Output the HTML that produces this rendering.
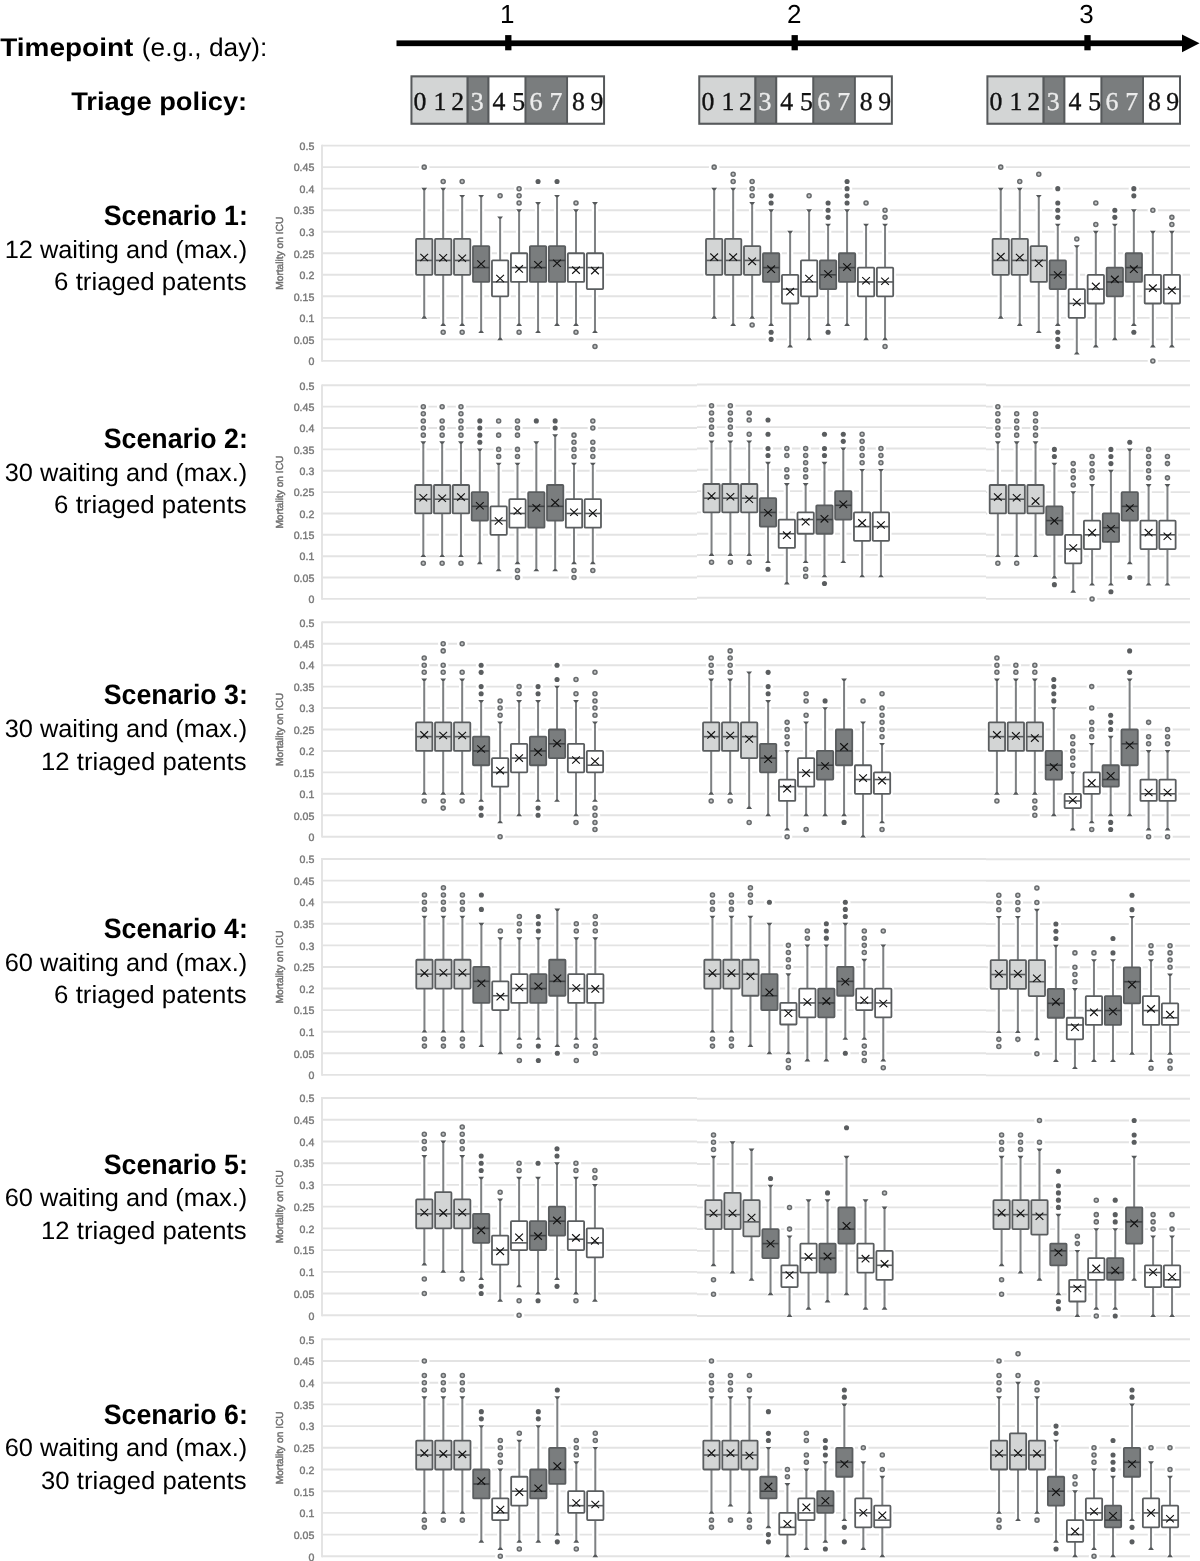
<!DOCTYPE html>
<html><head><meta charset="utf-8"><title>Triage policy scenarios</title>
<style>html,body{margin:0;padding:0;background:#fff;}body{width:1200px;height:1561px;overflow:hidden;}svg{display:block;will-change:transform;}text{text-rendering:geometricPrecision;}.sans{font-family:"Liberation Sans",sans-serif;}.serif{font-family:"Liberation Serif",serif;}</style></head><body>
<svg width="1200" height="1561" viewBox="0 0 1200 1561">
<rect width="1200" height="1561" fill="#fff"/>
<text class="sans" x="0.3" y="55.6" font-size="25.5" font-weight="bold" fill="#000" textLength="133" lengthAdjust="spacingAndGlyphs">Timepoint</text>
<text class="sans" x="141.8" y="55.6" font-size="25.5" fill="#000" textLength="125.5" lengthAdjust="spacingAndGlyphs">(e.g., day):</text>
<text class="sans" x="247.2" y="110" font-size="25.5" font-weight="bold" fill="#000" text-anchor="end" textLength="176" lengthAdjust="spacingAndGlyphs">Triage policy:</text>
<rect x="396.5" y="40.4" width="786" height="5.75" fill="#000"/>
<polygon points="1182,34.4 1199.5,43.3 1182,52.2" fill="#000"/>
<rect x="505.15" y="35.1" width="6.3" height="15.2" fill="#000"/>
<text class="sans" x="507.2" y="22.7" font-size="26" text-anchor="middle" fill="#000">1</text>
<rect x="791.55" y="35.1" width="6.3" height="15.2" fill="#000"/>
<text class="sans" x="794.2" y="22.7" font-size="26" text-anchor="middle" fill="#000">2</text>
<rect x="1084.35" y="35.1" width="6.3" height="15.2" fill="#000"/>
<text class="sans" x="1086.4" y="22.7" font-size="26" text-anchor="middle" fill="#000">3</text>
<rect x="410.45" y="75.3" width="194.6" height="49.5" fill="#56595b"/>
<rect x="412.45" y="77.4" width="54" height="45.3" fill="#d3d5d5"/>
<rect x="468.65" y="77.4" width="18.7" height="45.3" fill="#7a7d7e"/>
<rect x="489.45" y="77.4" width="35" height="45.3" fill="#fff"/>
<rect x="526.45" y="77.4" width="39.7" height="45.3" fill="#7a7d7e"/>
<rect x="568.05" y="77.4" width="35" height="45.3" fill="#fff"/>
<text class="serif" x="420.05" y="109.9" font-size="25.8" text-anchor="middle" fill="#111" stroke="#111" stroke-width="0.35">0</text>
<text class="serif" x="440.05" y="109.9" font-size="25.8" text-anchor="middle" fill="#111" stroke="#111" stroke-width="0.35">1</text>
<text class="serif" x="457.75" y="109.9" font-size="25.8" text-anchor="middle" fill="#111" stroke="#111" stroke-width="0.35">2</text>
<text class="serif" x="477.25" y="109.9" font-size="25.8" text-anchor="middle" fill="#ececec" stroke="#ececec" stroke-width="0.35">3</text>
<text class="serif" x="498.95" y="109.9" font-size="25.8" text-anchor="middle" fill="#111" stroke="#111" stroke-width="0.35">4</text>
<text class="serif" x="518.75" y="109.9" font-size="25.8" text-anchor="middle" fill="#111" stroke="#111" stroke-width="0.35">5</text>
<text class="serif" x="535.95" y="109.9" font-size="25.8" text-anchor="middle" fill="#ececec" stroke="#ececec" stroke-width="0.35">6</text>
<text class="serif" x="555.85" y="109.9" font-size="25.8" text-anchor="middle" fill="#ececec" stroke="#ececec" stroke-width="0.35">7</text>
<text class="serif" x="578.45" y="109.9" font-size="25.8" text-anchor="middle" fill="#111" stroke="#111" stroke-width="0.35">8</text>
<text class="serif" x="596.85" y="109.9" font-size="25.8" text-anchor="middle" fill="#111" stroke="#111" stroke-width="0.35">9</text>
<rect x="698.25" y="75.3" width="194.6" height="49.5" fill="#56595b"/>
<rect x="700.25" y="77.4" width="54" height="45.3" fill="#d3d5d5"/>
<rect x="756.45" y="77.4" width="18.7" height="45.3" fill="#7a7d7e"/>
<rect x="777.25" y="77.4" width="35" height="45.3" fill="#fff"/>
<rect x="814.25" y="77.4" width="39.7" height="45.3" fill="#7a7d7e"/>
<rect x="855.85" y="77.4" width="35" height="45.3" fill="#fff"/>
<text class="serif" x="707.85" y="109.9" font-size="25.8" text-anchor="middle" fill="#111" stroke="#111" stroke-width="0.35">0</text>
<text class="serif" x="727.85" y="109.9" font-size="25.8" text-anchor="middle" fill="#111" stroke="#111" stroke-width="0.35">1</text>
<text class="serif" x="745.55" y="109.9" font-size="25.8" text-anchor="middle" fill="#111" stroke="#111" stroke-width="0.35">2</text>
<text class="serif" x="765.05" y="109.9" font-size="25.8" text-anchor="middle" fill="#ececec" stroke="#ececec" stroke-width="0.35">3</text>
<text class="serif" x="786.75" y="109.9" font-size="25.8" text-anchor="middle" fill="#111" stroke="#111" stroke-width="0.35">4</text>
<text class="serif" x="806.55" y="109.9" font-size="25.8" text-anchor="middle" fill="#111" stroke="#111" stroke-width="0.35">5</text>
<text class="serif" x="823.75" y="109.9" font-size="25.8" text-anchor="middle" fill="#ececec" stroke="#ececec" stroke-width="0.35">6</text>
<text class="serif" x="843.65" y="109.9" font-size="25.8" text-anchor="middle" fill="#ececec" stroke="#ececec" stroke-width="0.35">7</text>
<text class="serif" x="866.25" y="109.9" font-size="25.8" text-anchor="middle" fill="#111" stroke="#111" stroke-width="0.35">8</text>
<text class="serif" x="884.65" y="109.9" font-size="25.8" text-anchor="middle" fill="#111" stroke="#111" stroke-width="0.35">9</text>
<rect x="986.4" y="75.3" width="194.6" height="49.5" fill="#56595b"/>
<rect x="988.4" y="77.4" width="54" height="45.3" fill="#d3d5d5"/>
<rect x="1044.6" y="77.4" width="18.7" height="45.3" fill="#7a7d7e"/>
<rect x="1065.4" y="77.4" width="35" height="45.3" fill="#fff"/>
<rect x="1102.4" y="77.4" width="39.7" height="45.3" fill="#7a7d7e"/>
<rect x="1144" y="77.4" width="35" height="45.3" fill="#fff"/>
<text class="serif" x="996" y="109.9" font-size="25.8" text-anchor="middle" fill="#111" stroke="#111" stroke-width="0.35">0</text>
<text class="serif" x="1016" y="109.9" font-size="25.8" text-anchor="middle" fill="#111" stroke="#111" stroke-width="0.35">1</text>
<text class="serif" x="1033.7" y="109.9" font-size="25.8" text-anchor="middle" fill="#111" stroke="#111" stroke-width="0.35">2</text>
<text class="serif" x="1053.2" y="109.9" font-size="25.8" text-anchor="middle" fill="#ececec" stroke="#ececec" stroke-width="0.35">3</text>
<text class="serif" x="1074.9" y="109.9" font-size="25.8" text-anchor="middle" fill="#111" stroke="#111" stroke-width="0.35">4</text>
<text class="serif" x="1094.7" y="109.9" font-size="25.8" text-anchor="middle" fill="#111" stroke="#111" stroke-width="0.35">5</text>
<text class="serif" x="1111.9" y="109.9" font-size="25.8" text-anchor="middle" fill="#ececec" stroke="#ececec" stroke-width="0.35">6</text>
<text class="serif" x="1131.8" y="109.9" font-size="25.8" text-anchor="middle" fill="#ececec" stroke="#ececec" stroke-width="0.35">7</text>
<text class="serif" x="1154.4" y="109.9" font-size="25.8" text-anchor="middle" fill="#111" stroke="#111" stroke-width="0.35">8</text>
<text class="serif" x="1172.8" y="109.9" font-size="25.8" text-anchor="middle" fill="#111" stroke="#111" stroke-width="0.35">9</text>
<text class="sans" x="247.8" y="225.3" font-size="28" font-weight="bold" text-anchor="end" fill="#000" textLength="144" lengthAdjust="spacingAndGlyphs">Scenario 1:</text>
<text class="sans" x="247.2" y="257.8" font-size="25" text-anchor="end" fill="#000" textLength="242.5" lengthAdjust="spacingAndGlyphs">12 waiting and (max.)</text>
<text class="sans" x="246.6" y="290.3" font-size="25" text-anchor="end" fill="#000" textLength="192.5" lengthAdjust="spacingAndGlyphs">6 triaged patents</text>
<text class="sans" x="247.8" y="448.2" font-size="28" font-weight="bold" text-anchor="end" fill="#000" textLength="144" lengthAdjust="spacingAndGlyphs">Scenario 2:</text>
<text class="sans" x="247.2" y="480.7" font-size="25" text-anchor="end" fill="#000" textLength="242.5" lengthAdjust="spacingAndGlyphs">30 waiting and (max.)</text>
<text class="sans" x="246.6" y="513.2" font-size="25" text-anchor="end" fill="#000" textLength="192.5" lengthAdjust="spacingAndGlyphs">6 triaged patents</text>
<text class="sans" x="247.8" y="703.8" font-size="28" font-weight="bold" text-anchor="end" fill="#000" textLength="144" lengthAdjust="spacingAndGlyphs">Scenario 3:</text>
<text class="sans" x="247.2" y="736.75" font-size="25" text-anchor="end" fill="#000" textLength="242.5" lengthAdjust="spacingAndGlyphs">30 waiting and (max.)</text>
<text class="sans" x="246.6" y="769.7" font-size="25" text-anchor="end" fill="#000" textLength="205.5" lengthAdjust="spacingAndGlyphs">12 triaged patents</text>
<text class="sans" x="247.8" y="938.15" font-size="28" font-weight="bold" text-anchor="end" fill="#000" textLength="144" lengthAdjust="spacingAndGlyphs">Scenario 4:</text>
<text class="sans" x="247.2" y="970.65" font-size="25" text-anchor="end" fill="#000" textLength="242.5" lengthAdjust="spacingAndGlyphs">60 waiting and (max.)</text>
<text class="sans" x="246.6" y="1002.5" font-size="25" text-anchor="end" fill="#000" textLength="192.5" lengthAdjust="spacingAndGlyphs">6 triaged patents</text>
<text class="sans" x="247.8" y="1173.6" font-size="28" font-weight="bold" text-anchor="end" fill="#000" textLength="144" lengthAdjust="spacingAndGlyphs">Scenario 5:</text>
<text class="sans" x="247.2" y="1206.1" font-size="25" text-anchor="end" fill="#000" textLength="242.5" lengthAdjust="spacingAndGlyphs">60 waiting and (max.)</text>
<text class="sans" x="246.6" y="1238.6" font-size="25" text-anchor="end" fill="#000" textLength="205.5" lengthAdjust="spacingAndGlyphs">12 triaged patents</text>
<text class="sans" x="247.8" y="1423.6" font-size="28" font-weight="bold" text-anchor="end" fill="#000" textLength="144" lengthAdjust="spacingAndGlyphs">Scenario 6:</text>
<text class="sans" x="247.2" y="1456.1" font-size="25" text-anchor="end" fill="#000" textLength="242.5" lengthAdjust="spacingAndGlyphs">60 waiting and (max.)</text>
<text class="sans" x="246.6" y="1488.6" font-size="25" text-anchor="end" fill="#000" textLength="205.5" lengthAdjust="spacingAndGlyphs">30 triaged patents</text>
<path d="M322 360.9H697M322 339.37H697M322 317.84H697M322 296.31H697M322 274.78H697M322 253.25H697M322 231.72H697M322 210.19H697M322 188.66H697M322 167.13H697M322 145.6H697M697 360.9H986M697 339.37H986M697 317.84H986M697 296.31H986M697 274.78H986M697 253.25H986M697 231.72H986M697 210.19H986M697 188.66H986M697 167.13H986M697 145.6H986M986 360.9H1190M986 339.37H1190M986 317.84H1190M986 296.31H1190M986 274.78H1190M986 253.25H1190M986 231.72H1190M986 210.19H1190M986 188.66H1190M986 167.13H1190M986 145.6H1190" stroke="#e3e3e3" stroke-width="1.9" fill="none"/>
<path d="M322 144.7V361.8" stroke="#e3e3e3" stroke-width="1.9" fill="none"/>
<text class="sans" x="314.3" y="365.2" font-size="10.6" text-anchor="end" fill="#777" stroke="#777" stroke-width="0.4">0</text>
<text class="sans" x="314.3" y="343.67" font-size="10.6" text-anchor="end" fill="#777" stroke="#777" stroke-width="0.4">0.05</text>
<text class="sans" x="314.3" y="322.14" font-size="10.6" text-anchor="end" fill="#777" stroke="#777" stroke-width="0.4">0.1</text>
<text class="sans" x="314.3" y="300.61" font-size="10.6" text-anchor="end" fill="#777" stroke="#777" stroke-width="0.4">0.15</text>
<text class="sans" x="314.3" y="279.08" font-size="10.6" text-anchor="end" fill="#777" stroke="#777" stroke-width="0.4">0.2</text>
<text class="sans" x="314.3" y="257.55" font-size="10.6" text-anchor="end" fill="#777" stroke="#777" stroke-width="0.4">0.25</text>
<text class="sans" x="314.3" y="236.02" font-size="10.6" text-anchor="end" fill="#777" stroke="#777" stroke-width="0.4">0.3</text>
<text class="sans" x="314.3" y="214.49" font-size="10.6" text-anchor="end" fill="#777" stroke="#777" stroke-width="0.4">0.35</text>
<text class="sans" x="314.3" y="192.96" font-size="10.6" text-anchor="end" fill="#777" stroke="#777" stroke-width="0.4">0.4</text>
<text class="sans" x="314.3" y="171.43" font-size="10.6" text-anchor="end" fill="#777" stroke="#777" stroke-width="0.4">0.45</text>
<text class="sans" x="314.3" y="149.9" font-size="10.6" text-anchor="end" fill="#777" stroke="#777" stroke-width="0.4">0.5</text>
<text class="sans" transform="translate(283.4 253.25) rotate(-90)" font-size="10.2" text-anchor="middle" fill="#707070" stroke="#707070" stroke-width="0.45">Mortality on ICU</text>
<g><path d="M424.22 188.16V318.34" stroke="#fff" stroke-width="6.4"/><rect x="413.57" y="237.2" width="21.3" height="39.28" fill="#fff"/><circle cx="424.22" cy="167.13" r="5.2" fill="#fff"/><path d="M443.19 188.16V325.52" stroke="#fff" stroke-width="6.4"/><rect x="432.54" y="237.2" width="21.3" height="39.28" fill="#fff"/><circle cx="443.19" cy="181.48" r="5.2" fill="#fff"/><circle cx="443.19" cy="332.19" r="5.2" fill="#fff"/><path d="M462.17 195.34V325.52" stroke="#fff" stroke-width="6.4"/><rect x="451.52" y="237.2" width="21.3" height="39.28" fill="#fff"/><circle cx="462.17" cy="181.48" r="5.2" fill="#fff"/><circle cx="462.17" cy="332.19" r="5.2" fill="#fff"/><path d="M481.14 195.34V332.69" stroke="#fff" stroke-width="6.4"/><rect x="470.49" y="244.37" width="21.3" height="39.28" fill="#fff"/><path d="M500.11 216.87V339.87" stroke="#fff" stroke-width="6.4"/><rect x="489.46" y="258.73" width="21.3" height="39.28" fill="#fff"/><circle cx="500.11" cy="195.84" r="5.2" fill="#fff"/><path d="M519.09 209.69V325.52" stroke="#fff" stroke-width="6.4"/><rect x="508.44" y="251.55" width="21.3" height="32.11" fill="#fff"/><circle cx="519.09" cy="188.66" r="5.2" fill="#fff"/><circle cx="519.09" cy="195.84" r="5.2" fill="#fff"/><circle cx="519.09" cy="203.01" r="5.2" fill="#fff"/><circle cx="519.09" cy="332.19" r="5.2" fill="#fff"/><path d="M538.06 202.51V332.69" stroke="#fff" stroke-width="6.4"/><rect x="527.41" y="244.37" width="21.3" height="39.28" fill="#fff"/><circle cx="538.06" cy="181.48" r="5.2" fill="#fff"/><path d="M557.03 195.34V325.52" stroke="#fff" stroke-width="6.4"/><rect x="546.38" y="244.37" width="21.3" height="39.28" fill="#fff"/><circle cx="557.03" cy="181.48" r="5.2" fill="#fff"/><path d="M576 209.69V325.52" stroke="#fff" stroke-width="6.4"/><rect x="565.35" y="251.55" width="21.3" height="32.11" fill="#fff"/><circle cx="576" cy="203.01" r="5.2" fill="#fff"/><circle cx="576" cy="332.19" r="5.2" fill="#fff"/><path d="M594.98 202.51V332.69" stroke="#fff" stroke-width="6.4"/><rect x="584.33" y="251.55" width="21.3" height="39.28" fill="#fff"/><circle cx="594.98" cy="346.55" r="5.2" fill="#fff"/></g>
<g><path d="M424.22 238.9V188.66M424.22 274.78V317.84" stroke="#7e8183" stroke-width="2"/><polygon points="421.32,187.76 427.12,187.76 425.22,190.16 423.22,190.16" fill="#55585a"/><polygon points="421.32,318.74 427.12,318.74 425.22,316.34 423.22,316.34" fill="#55585a"/><rect x="416.07" y="238.9" width="16.3" height="35.88" rx="0.8" fill="#d3d5d5" stroke="#5a5d5f" stroke-width="1.8"/><path d="M416.07 260.43H432.37" stroke="#585b5d" stroke-width="1.6"/><path d="M420.37 253.83L428.07 261.13M420.37 261.13L428.07 253.83" stroke="#111" stroke-width="1.12"/><circle cx="424.22" cy="167.13" r="2.0" fill="#bfc1c2" stroke="#686b6d" stroke-width="1.55"/><path d="M443.19 238.9V188.66M443.19 274.78V325.02" stroke="#7e8183" stroke-width="2"/><polygon points="440.29,187.76 446.09,187.76 444.19,190.16 442.19,190.16" fill="#55585a"/><polygon points="440.29,325.92 446.09,325.92 444.19,323.52 442.19,323.52" fill="#55585a"/><rect x="435.04" y="238.9" width="16.3" height="35.88" rx="0.8" fill="#d3d5d5" stroke="#5a5d5f" stroke-width="1.8"/><path d="M435.04 260.43H451.34" stroke="#585b5d" stroke-width="1.6"/><path d="M439.34 254.19L447.04 261.49M439.34 261.49L447.04 254.19" stroke="#111" stroke-width="1.12"/><circle cx="443.19" cy="181.48" r="2.0" fill="#bfc1c2" stroke="#686b6d" stroke-width="1.55"/><circle cx="443.19" cy="332.19" r="2.0" fill="#bfc1c2" stroke="#686b6d" stroke-width="1.55"/><path d="M462.17 238.9V195.84M462.17 274.78V325.02" stroke="#7e8183" stroke-width="2"/><polygon points="459.27,194.94 465.07,194.94 463.17,197.34 461.17,197.34" fill="#55585a"/><polygon points="459.27,325.92 465.07,325.92 463.17,323.52 461.17,323.52" fill="#55585a"/><rect x="454.02" y="238.9" width="16.3" height="35.88" rx="0.8" fill="#d3d5d5" stroke="#5a5d5f" stroke-width="1.8"/><path d="M454.02 260.43H470.32" stroke="#585b5d" stroke-width="1.6"/><path d="M458.32 254.62L466.02 261.92M458.32 261.92L466.02 254.62" stroke="#111" stroke-width="1.12"/><circle cx="462.17" cy="181.48" r="2.0" fill="#bfc1c2" stroke="#686b6d" stroke-width="1.55"/><circle cx="462.17" cy="332.19" r="2.0" fill="#bfc1c2" stroke="#686b6d" stroke-width="1.55"/><path d="M481.14 246.07V195.84M481.14 281.96V332.19" stroke="#7e8183" stroke-width="2"/><polygon points="478.24,194.94 484.04,194.94 482.14,197.34 480.14,197.34" fill="#55585a"/><polygon points="478.24,333.09 484.04,333.09 482.14,330.69 480.14,330.69" fill="#55585a"/><rect x="472.99" y="246.07" width="16.3" height="35.88" rx="0.8" fill="#7a7d7e" stroke="#5a5d5f" stroke-width="1.8"/><path d="M472.99 267.6H489.29" stroke="#3f4244" stroke-width="1.6"/><path d="M477.29 260.37L484.99 267.66M477.29 267.66L484.99 260.37" stroke="#111" stroke-width="1.12"/><path d="M500.11 260.43V217.37M500.11 296.31V339.37" stroke="#7e8183" stroke-width="2"/><polygon points="497.21,216.47 503.01,216.47 501.11,218.87 499.11,218.87" fill="#55585a"/><polygon points="497.21,340.27 503.01,340.27 501.11,337.87 499.11,337.87" fill="#55585a"/><rect x="491.96" y="260.43" width="16.3" height="35.88" rx="0.8" fill="#ffffff" stroke="#5a5d5f" stroke-width="1.8"/><path d="M491.96 281.96H508.26" stroke="#585b5d" stroke-width="1.6"/><path d="M496.26 274.86L503.96 282.16M496.26 282.16L503.96 274.86" stroke="#111" stroke-width="1.12"/><circle cx="500.11" cy="195.84" r="2.0" fill="#bfc1c2" stroke="#686b6d" stroke-width="1.55"/><path d="M519.09 253.25V210.19M519.09 281.96V325.02" stroke="#7e8183" stroke-width="2"/><polygon points="516.19,209.29 521.99,209.29 520.09,211.69 518.09,211.69" fill="#55585a"/><polygon points="516.19,325.92 521.99,325.92 520.09,323.52 518.09,323.52" fill="#55585a"/><rect x="510.94" y="253.25" width="16.3" height="28.71" rx="0.8" fill="#ffffff" stroke="#5a5d5f" stroke-width="1.8"/><path d="M510.94 267.6H527.24" stroke="#585b5d" stroke-width="1.6"/><path d="M515.24 265.25L522.94 272.55M515.24 272.55L522.94 265.25" stroke="#111" stroke-width="1.12"/><circle cx="519.09" cy="188.66" r="2.0" fill="#bfc1c2" stroke="#686b6d" stroke-width="1.55"/><circle cx="519.09" cy="195.84" r="2.0" fill="#bfc1c2" stroke="#686b6d" stroke-width="1.55"/><circle cx="519.09" cy="203.01" r="2.0" fill="#bfc1c2" stroke="#686b6d" stroke-width="1.55"/><circle cx="519.09" cy="332.19" r="2.0" fill="#bfc1c2" stroke="#686b6d" stroke-width="1.55"/><path d="M538.06 246.07V203.01M538.06 281.96V332.19" stroke="#7e8183" stroke-width="2"/><polygon points="535.16,202.11 540.96,202.11 539.06,204.51 537.06,204.51" fill="#55585a"/><polygon points="535.16,333.09 540.96,333.09 539.06,330.69 537.06,330.69" fill="#55585a"/><rect x="529.91" y="246.07" width="16.3" height="35.88" rx="0.8" fill="#7a7d7e" stroke="#5a5d5f" stroke-width="1.8"/><path d="M529.91 267.6H546.21" stroke="#3f4244" stroke-width="1.6"/><path d="M534.21 261.08L541.91 268.38M534.21 268.38L541.91 261.08" stroke="#111" stroke-width="1.12"/><circle cx="538.06" cy="181.48" r="2.55" fill="#5a5d5f"/><path d="M557.03 246.07V195.84M557.03 281.96V325.02" stroke="#7e8183" stroke-width="2"/><polygon points="554.13,194.94 559.93,194.94 558.03,197.34 556.03,197.34" fill="#55585a"/><polygon points="554.13,325.92 559.93,325.92 558.03,323.52 556.03,323.52" fill="#55585a"/><rect x="548.88" y="246.07" width="16.3" height="35.88" rx="0.8" fill="#7a7d7e" stroke="#5a5d5f" stroke-width="1.8"/><path d="M548.88 260.43H565.18" stroke="#3f4244" stroke-width="1.6"/><path d="M553.18 259.65L560.88 266.95M553.18 266.95L560.88 259.65" stroke="#111" stroke-width="1.12"/><circle cx="557.03" cy="181.48" r="2.55" fill="#5a5d5f"/><path d="M576 253.25V210.19M576 281.96V325.02" stroke="#7e8183" stroke-width="2"/><polygon points="573.1,209.29 578.9,209.29 577,211.69 575,211.69" fill="#55585a"/><polygon points="573.1,325.92 578.9,325.92 577,323.52 575,323.52" fill="#55585a"/><rect x="567.85" y="253.25" width="16.3" height="28.71" rx="0.8" fill="#ffffff" stroke="#5a5d5f" stroke-width="1.8"/><path d="M567.85 267.6H584.15" stroke="#585b5d" stroke-width="1.6"/><path d="M572.15 266.47L579.85 273.77M572.15 273.77L579.85 266.47" stroke="#111" stroke-width="1.12"/><circle cx="576" cy="203.01" r="2.0" fill="#bfc1c2" stroke="#686b6d" stroke-width="1.55"/><circle cx="576" cy="332.19" r="2.0" fill="#bfc1c2" stroke="#686b6d" stroke-width="1.55"/><path d="M594.98 253.25V203.01M594.98 289.13V332.19" stroke="#7e8183" stroke-width="2"/><polygon points="592.08,202.11 597.88,202.11 595.98,204.51 593.98,204.51" fill="#55585a"/><polygon points="592.08,333.09 597.88,333.09 595.98,330.69 593.98,330.69" fill="#55585a"/><rect x="586.83" y="253.25" width="16.3" height="35.88" rx="0.8" fill="#ffffff" stroke="#5a5d5f" stroke-width="1.8"/><path d="M586.83 267.6H603.13" stroke="#585b5d" stroke-width="1.6"/><path d="M591.13 266.97L598.83 274.27M591.13 274.27L598.83 266.97" stroke="#111" stroke-width="1.12"/><circle cx="594.98" cy="346.55" r="2.0" fill="#bfc1c2" stroke="#686b6d" stroke-width="1.55"/></g>
<g><path d="M714.17 188.16V318.34" stroke="#fff" stroke-width="6.4"/><rect x="703.52" y="237.2" width="21.3" height="39.28" fill="#fff"/><circle cx="714.17" cy="167.13" r="5.2" fill="#fff"/><path d="M733.16 188.16V325.52" stroke="#fff" stroke-width="6.4"/><rect x="722.51" y="237.2" width="21.3" height="39.28" fill="#fff"/><circle cx="733.16" cy="174.31" r="5.2" fill="#fff"/><circle cx="733.16" cy="181.48" r="5.2" fill="#fff"/><path d="M752.14 202.51V318.34" stroke="#fff" stroke-width="6.4"/><rect x="741.49" y="244.37" width="21.3" height="32.11" fill="#fff"/><circle cx="752.14" cy="181.48" r="5.2" fill="#fff"/><circle cx="752.14" cy="188.66" r="5.2" fill="#fff"/><circle cx="752.14" cy="195.84" r="5.2" fill="#fff"/><circle cx="752.14" cy="325.02" r="5.2" fill="#fff"/><path d="M771.13 209.69V325.52" stroke="#fff" stroke-width="6.4"/><rect x="760.48" y="251.55" width="21.3" height="32.11" fill="#fff"/><circle cx="771.13" cy="195.84" r="5.2" fill="#fff"/><circle cx="771.13" cy="203.01" r="5.2" fill="#fff"/><circle cx="771.13" cy="332.19" r="5.2" fill="#fff"/><circle cx="771.13" cy="339.37" r="5.2" fill="#fff"/><path d="M790.11 231.22V347.05" stroke="#fff" stroke-width="6.4"/><rect x="779.46" y="273.08" width="21.3" height="32.11" fill="#fff"/><path d="M809.1 209.69V339.87" stroke="#fff" stroke-width="6.4"/><rect x="798.45" y="258.73" width="21.3" height="39.28" fill="#fff"/><circle cx="809.1" cy="195.84" r="5.2" fill="#fff"/><path d="M828.09 224.04V325.52" stroke="#fff" stroke-width="6.4"/><rect x="817.44" y="258.73" width="21.3" height="32.11" fill="#fff"/><circle cx="828.09" cy="203.01" r="5.2" fill="#fff"/><circle cx="828.09" cy="210.19" r="5.2" fill="#fff"/><circle cx="828.09" cy="217.37" r="5.2" fill="#fff"/><circle cx="828.09" cy="332.19" r="5.2" fill="#fff"/><path d="M847.07 209.69V325.52" stroke="#fff" stroke-width="6.4"/><rect x="836.42" y="251.55" width="21.3" height="32.11" fill="#fff"/><circle cx="847.07" cy="181.48" r="5.2" fill="#fff"/><circle cx="847.07" cy="188.66" r="5.2" fill="#fff"/><circle cx="847.07" cy="195.84" r="5.2" fill="#fff"/><circle cx="847.07" cy="203.01" r="5.2" fill="#fff"/><path d="M866.06 224.04V339.87" stroke="#fff" stroke-width="6.4"/><rect x="855.41" y="265.9" width="21.3" height="32.11" fill="#fff"/><circle cx="866.06" cy="203.01" r="5.2" fill="#fff"/><path d="M885.04 224.04V339.87" stroke="#fff" stroke-width="6.4"/><rect x="874.39" y="265.9" width="21.3" height="32.11" fill="#fff"/><circle cx="885.04" cy="210.19" r="5.2" fill="#fff"/><circle cx="885.04" cy="217.37" r="5.2" fill="#fff"/><circle cx="885.04" cy="346.55" r="5.2" fill="#fff"/></g>
<g><path d="M714.17 238.9V188.66M714.17 274.78V317.84" stroke="#7e8183" stroke-width="2"/><polygon points="711.27,187.76 717.07,187.76 715.17,190.16 713.17,190.16" fill="#55585a"/><polygon points="711.27,318.74 717.07,318.74 715.17,316.34 713.17,316.34" fill="#55585a"/><rect x="706.02" y="238.9" width="16.3" height="35.88" rx="0.8" fill="#d3d5d5" stroke="#5a5d5f" stroke-width="1.8"/><path d="M706.02 260.43H722.32" stroke="#585b5d" stroke-width="1.6"/><path d="M710.32 253.48L718.02 260.78M710.32 260.78L718.02 253.48" stroke="#111" stroke-width="1.12"/><circle cx="714.17" cy="167.13" r="2.0" fill="#bfc1c2" stroke="#686b6d" stroke-width="1.55"/><path d="M733.16 238.9V188.66M733.16 274.78V325.02" stroke="#7e8183" stroke-width="2"/><polygon points="730.26,187.76 736.06,187.76 734.16,190.16 732.16,190.16" fill="#55585a"/><polygon points="730.26,325.92 736.06,325.92 734.16,323.52 732.16,323.52" fill="#55585a"/><rect x="725.01" y="238.9" width="16.3" height="35.88" rx="0.8" fill="#d3d5d5" stroke="#5a5d5f" stroke-width="1.8"/><path d="M725.01 260.43H741.31" stroke="#585b5d" stroke-width="1.6"/><path d="M729.31 253.48L737.01 260.78M729.31 260.78L737.01 253.48" stroke="#111" stroke-width="1.12"/><circle cx="733.16" cy="174.31" r="2.0" fill="#bfc1c2" stroke="#686b6d" stroke-width="1.55"/><circle cx="733.16" cy="181.48" r="2.0" fill="#bfc1c2" stroke="#686b6d" stroke-width="1.55"/><path d="M752.14 246.07V203.01M752.14 274.78V317.84" stroke="#7e8183" stroke-width="2"/><polygon points="749.24,202.11 755.04,202.11 753.14,204.51 751.14,204.51" fill="#55585a"/><polygon points="749.24,318.74 755.04,318.74 753.14,316.34 751.14,316.34" fill="#55585a"/><rect x="743.99" y="246.07" width="16.3" height="28.71" rx="0.8" fill="#d3d5d5" stroke="#5a5d5f" stroke-width="1.8"/><path d="M743.99 260.43H760.29" stroke="#585b5d" stroke-width="1.6"/><path d="M748.29 257.71L755.99 265.01M748.29 265.01L755.99 257.71" stroke="#111" stroke-width="1.12"/><circle cx="752.14" cy="181.48" r="2.0" fill="#bfc1c2" stroke="#686b6d" stroke-width="1.55"/><circle cx="752.14" cy="188.66" r="2.0" fill="#bfc1c2" stroke="#686b6d" stroke-width="1.55"/><circle cx="752.14" cy="195.84" r="2.0" fill="#bfc1c2" stroke="#686b6d" stroke-width="1.55"/><circle cx="752.14" cy="325.02" r="2.0" fill="#bfc1c2" stroke="#686b6d" stroke-width="1.55"/><path d="M771.13 253.25V210.19M771.13 281.96V325.02" stroke="#7e8183" stroke-width="2"/><polygon points="768.23,209.29 774.03,209.29 772.13,211.69 770.13,211.69" fill="#55585a"/><polygon points="768.23,325.92 774.03,325.92 772.13,323.52 770.13,323.52" fill="#55585a"/><rect x="762.98" y="253.25" width="16.3" height="28.71" rx="0.8" fill="#7a7d7e" stroke="#5a5d5f" stroke-width="1.8"/><path d="M762.98 267.6H779.28" stroke="#3f4244" stroke-width="1.6"/><path d="M767.28 265.53L774.98 272.83M767.28 272.83L774.98 265.53" stroke="#111" stroke-width="1.12"/><circle cx="771.13" cy="195.84" r="2.55" fill="#5a5d5f"/><circle cx="771.13" cy="203.01" r="2.55" fill="#5a5d5f"/><circle cx="771.13" cy="332.19" r="2.55" fill="#5a5d5f"/><circle cx="771.13" cy="339.37" r="2.55" fill="#5a5d5f"/><path d="M790.11 274.78V231.72M790.11 303.49V346.55" stroke="#7e8183" stroke-width="2"/><polygon points="787.21,230.82 793.01,230.82 791.11,233.22 789.11,233.22" fill="#55585a"/><polygon points="787.21,347.45 793.01,347.45 791.11,345.05 789.11,345.05" fill="#55585a"/><rect x="781.96" y="274.78" width="16.3" height="28.71" rx="0.8" fill="#ffffff" stroke="#5a5d5f" stroke-width="1.8"/><path d="M781.96 289.13H798.26" stroke="#585b5d" stroke-width="1.6"/><path d="M786.26 288L793.96 295.3M786.26 295.3L793.96 288" stroke="#111" stroke-width="1.12"/><path d="M809.1 260.43V210.19M809.1 296.31V339.37" stroke="#7e8183" stroke-width="2"/><polygon points="806.2,209.29 812,209.29 810.1,211.69 808.1,211.69" fill="#55585a"/><polygon points="806.2,340.27 812,340.27 810.1,337.87 808.1,337.87" fill="#55585a"/><rect x="800.95" y="260.43" width="16.3" height="35.88" rx="0.8" fill="#ffffff" stroke="#5a5d5f" stroke-width="1.8"/><path d="M800.95 281.96H817.25" stroke="#585b5d" stroke-width="1.6"/><path d="M805.25 274.86L812.95 282.16M805.25 282.16L812.95 274.86" stroke="#111" stroke-width="1.12"/><circle cx="809.1" cy="195.84" r="2.0" fill="#bfc1c2" stroke="#686b6d" stroke-width="1.55"/><path d="M828.09 260.43V224.54M828.09 289.13V325.02" stroke="#7e8183" stroke-width="2"/><polygon points="825.19,223.64 830.99,223.64 829.09,226.04 827.09,226.04" fill="#55585a"/><polygon points="825.19,325.92 830.99,325.92 829.09,323.52 827.09,323.52" fill="#55585a"/><rect x="819.94" y="260.43" width="16.3" height="28.71" rx="0.8" fill="#7a7d7e" stroke="#5a5d5f" stroke-width="1.8"/><path d="M819.94 274.78H836.24" stroke="#3f4244" stroke-width="1.6"/><path d="M824.24 270.41L831.94 277.71M824.24 277.71L831.94 270.41" stroke="#111" stroke-width="1.12"/><circle cx="828.09" cy="203.01" r="2.55" fill="#5a5d5f"/><circle cx="828.09" cy="210.19" r="2.55" fill="#5a5d5f"/><circle cx="828.09" cy="217.37" r="2.55" fill="#5a5d5f"/><circle cx="828.09" cy="332.19" r="2.55" fill="#5a5d5f"/><path d="M847.07 253.25V210.19M847.07 281.96V325.02" stroke="#7e8183" stroke-width="2"/><polygon points="844.17,209.29 849.97,209.29 848.07,211.69 846.07,211.69" fill="#55585a"/><polygon points="844.17,325.92 849.97,325.92 848.07,323.52 846.07,323.52" fill="#55585a"/><rect x="838.92" y="253.25" width="16.3" height="28.71" rx="0.8" fill="#7a7d7e" stroke="#5a5d5f" stroke-width="1.8"/><path d="M838.92 267.6H855.22" stroke="#3f4244" stroke-width="1.6"/><path d="M843.22 263.45L850.92 270.75M843.22 270.75L850.92 263.45" stroke="#111" stroke-width="1.12"/><circle cx="847.07" cy="181.48" r="2.55" fill="#5a5d5f"/><circle cx="847.07" cy="188.66" r="2.55" fill="#5a5d5f"/><circle cx="847.07" cy="195.84" r="2.55" fill="#5a5d5f"/><circle cx="847.07" cy="203.01" r="2.55" fill="#5a5d5f"/><path d="M866.06 267.6V224.54M866.06 296.31V339.37" stroke="#7e8183" stroke-width="2"/><polygon points="863.16,223.64 868.96,223.64 867.06,226.04 865.06,226.04" fill="#55585a"/><polygon points="863.16,340.27 868.96,340.27 867.06,337.87 865.06,337.87" fill="#55585a"/><rect x="857.91" y="267.6" width="16.3" height="28.71" rx="0.8" fill="#ffffff" stroke="#5a5d5f" stroke-width="1.8"/><path d="M857.91 281.96H874.21" stroke="#585b5d" stroke-width="1.6"/><path d="M862.21 277.16L869.91 284.46M862.21 284.46L869.91 277.16" stroke="#111" stroke-width="1.12"/><circle cx="866.06" cy="203.01" r="2.0" fill="#bfc1c2" stroke="#686b6d" stroke-width="1.55"/><path d="M885.04 267.6V224.54M885.04 296.31V339.37" stroke="#7e8183" stroke-width="2"/><polygon points="882.14,223.64 887.94,223.64 886.04,226.04 884.04,226.04" fill="#55585a"/><polygon points="882.14,340.27 887.94,340.27 886.04,337.87 884.04,337.87" fill="#55585a"/><rect x="876.89" y="267.6" width="16.3" height="28.71" rx="0.8" fill="#ffffff" stroke="#5a5d5f" stroke-width="1.8"/><path d="M876.89 281.96H893.19" stroke="#585b5d" stroke-width="1.6"/><path d="M881.19 277.59L888.89 284.89M881.19 284.89L888.89 277.59" stroke="#111" stroke-width="1.12"/><circle cx="885.04" cy="210.19" r="2.0" fill="#bfc1c2" stroke="#686b6d" stroke-width="1.55"/><circle cx="885.04" cy="217.37" r="2.0" fill="#bfc1c2" stroke="#686b6d" stroke-width="1.55"/><circle cx="885.04" cy="346.55" r="2.0" fill="#bfc1c2" stroke="#686b6d" stroke-width="1.55"/></g>
<g><path d="M1000.75 188.16V318.34" stroke="#fff" stroke-width="6.4"/><rect x="990.1" y="237.2" width="21.3" height="39.28" fill="#fff"/><circle cx="1000.75" cy="167.13" r="5.2" fill="#fff"/><path d="M1019.76 188.16V325.52" stroke="#fff" stroke-width="6.4"/><rect x="1009.11" y="237.2" width="21.3" height="39.28" fill="#fff"/><circle cx="1019.76" cy="181.48" r="5.2" fill="#fff"/><path d="M1038.78 195.34V332.69" stroke="#fff" stroke-width="6.4"/><rect x="1028.13" y="244.37" width="21.3" height="39.28" fill="#fff"/><circle cx="1038.78" cy="174.31" r="5.2" fill="#fff"/><path d="M1057.79 224.04V325.52" stroke="#fff" stroke-width="6.4"/><rect x="1047.14" y="258.73" width="21.3" height="32.11" fill="#fff"/><circle cx="1057.79" cy="188.66" r="5.2" fill="#fff"/><circle cx="1057.79" cy="203.01" r="5.2" fill="#fff"/><circle cx="1057.79" cy="210.19" r="5.2" fill="#fff"/><circle cx="1057.79" cy="217.37" r="5.2" fill="#fff"/><circle cx="1057.79" cy="332.19" r="5.2" fill="#fff"/><circle cx="1057.79" cy="339.37" r="5.2" fill="#fff"/><circle cx="1057.79" cy="346.55" r="5.2" fill="#fff"/><path d="M1076.8 245.57V354.22" stroke="#fff" stroke-width="6.4"/><rect x="1066.15" y="287.43" width="21.3" height="32.11" fill="#fff"/><circle cx="1076.8" cy="238.9" r="5.2" fill="#fff"/><path d="M1095.82 231.22V347.05" stroke="#fff" stroke-width="6.4"/><rect x="1085.16" y="273.08" width="21.3" height="32.11" fill="#fff"/><circle cx="1095.82" cy="203.01" r="5.2" fill="#fff"/><circle cx="1095.82" cy="224.54" r="5.2" fill="#fff"/><path d="M1114.83 224.04V339.87" stroke="#fff" stroke-width="6.4"/><rect x="1104.18" y="265.9" width="21.3" height="32.11" fill="#fff"/><circle cx="1114.83" cy="210.19" r="5.2" fill="#fff"/><circle cx="1114.83" cy="217.37" r="5.2" fill="#fff"/><path d="M1133.84 209.69V325.52" stroke="#fff" stroke-width="6.4"/><rect x="1123.19" y="251.55" width="21.3" height="32.11" fill="#fff"/><circle cx="1133.84" cy="188.66" r="5.2" fill="#fff"/><circle cx="1133.84" cy="195.84" r="5.2" fill="#fff"/><circle cx="1133.84" cy="332.19" r="5.2" fill="#fff"/><path d="M1152.85 231.22V347.05" stroke="#fff" stroke-width="6.4"/><rect x="1142.2" y="273.08" width="21.3" height="32.11" fill="#fff"/><circle cx="1152.85" cy="210.19" r="5.2" fill="#fff"/><circle cx="1152.85" cy="360.9" r="5.2" fill="#fff"/><path d="M1171.87 231.22V347.05" stroke="#fff" stroke-width="6.4"/><rect x="1161.22" y="273.08" width="21.3" height="32.11" fill="#fff"/><circle cx="1171.87" cy="217.37" r="5.2" fill="#fff"/><circle cx="1171.87" cy="224.54" r="5.2" fill="#fff"/></g>
<g><path d="M1000.75 238.9V188.66M1000.75 274.78V317.84" stroke="#7e8183" stroke-width="2"/><polygon points="997.85,187.76 1003.65,187.76 1001.75,190.16 999.75,190.16" fill="#55585a"/><polygon points="997.85,318.74 1003.65,318.74 1001.75,316.34 999.75,316.34" fill="#55585a"/><rect x="992.6" y="238.9" width="16.3" height="35.88" rx="0.8" fill="#d3d5d5" stroke="#5a5d5f" stroke-width="1.8"/><path d="M992.6 260.43H1008.9" stroke="#585b5d" stroke-width="1.6"/><path d="M996.9 252.97L1004.6 260.27M996.9 260.27L1004.6 252.97" stroke="#111" stroke-width="1.12"/><circle cx="1000.75" cy="167.13" r="2.0" fill="#bfc1c2" stroke="#686b6d" stroke-width="1.55"/><path d="M1019.76 238.9V188.66M1019.76 274.78V325.02" stroke="#7e8183" stroke-width="2"/><polygon points="1016.86,187.76 1022.66,187.76 1020.76,190.16 1018.76,190.16" fill="#55585a"/><polygon points="1016.86,325.92 1022.66,325.92 1020.76,323.52 1018.76,323.52" fill="#55585a"/><rect x="1011.61" y="238.9" width="16.3" height="35.88" rx="0.8" fill="#d3d5d5" stroke="#5a5d5f" stroke-width="1.8"/><path d="M1011.61 260.43H1027.91" stroke="#585b5d" stroke-width="1.6"/><path d="M1015.91 253.83L1023.61 261.13M1015.91 261.13L1023.61 253.83" stroke="#111" stroke-width="1.12"/><circle cx="1019.76" cy="181.48" r="2.0" fill="#bfc1c2" stroke="#686b6d" stroke-width="1.55"/><path d="M1038.78 246.07V195.84M1038.78 281.96V332.19" stroke="#7e8183" stroke-width="2"/><polygon points="1035.88,194.94 1041.68,194.94 1039.78,197.34 1037.78,197.34" fill="#55585a"/><polygon points="1035.88,333.09 1041.68,333.09 1039.78,330.69 1037.78,330.69" fill="#55585a"/><rect x="1030.63" y="246.07" width="16.3" height="35.88" rx="0.8" fill="#d3d5d5" stroke="#5a5d5f" stroke-width="1.8"/><path d="M1030.63 260.43H1046.93" stroke="#585b5d" stroke-width="1.6"/><path d="M1034.93 259.65L1042.63 266.95M1034.93 266.95L1042.63 259.65" stroke="#111" stroke-width="1.12"/><circle cx="1038.78" cy="174.31" r="2.0" fill="#bfc1c2" stroke="#686b6d" stroke-width="1.55"/><path d="M1057.79 260.43V224.54M1057.79 289.13V325.02" stroke="#7e8183" stroke-width="2"/><polygon points="1054.89,223.64 1060.69,223.64 1058.79,226.04 1056.79,226.04" fill="#55585a"/><polygon points="1054.89,325.92 1060.69,325.92 1058.79,323.52 1056.79,323.52" fill="#55585a"/><rect x="1049.64" y="260.43" width="16.3" height="28.71" rx="0.8" fill="#7a7d7e" stroke="#5a5d5f" stroke-width="1.8"/><path d="M1049.64 274.78H1065.94" stroke="#3f4244" stroke-width="1.6"/><path d="M1053.94 271.35L1061.64 278.65M1053.94 278.65L1061.64 271.35" stroke="#111" stroke-width="1.12"/><circle cx="1057.79" cy="188.66" r="2.55" fill="#5a5d5f"/><circle cx="1057.79" cy="203.01" r="2.55" fill="#5a5d5f"/><circle cx="1057.79" cy="210.19" r="2.55" fill="#5a5d5f"/><circle cx="1057.79" cy="217.37" r="2.55" fill="#5a5d5f"/><circle cx="1057.79" cy="332.19" r="2.55" fill="#5a5d5f"/><circle cx="1057.79" cy="339.37" r="2.55" fill="#5a5d5f"/><circle cx="1057.79" cy="346.55" r="2.55" fill="#5a5d5f"/><path d="M1076.8 289.13V246.07M1076.8 317.84V353.72" stroke="#7e8183" stroke-width="2"/><polygon points="1073.9,245.17 1079.7,245.17 1077.8,247.57 1075.8,247.57" fill="#55585a"/><polygon points="1073.9,354.62 1079.7,354.62 1077.8,352.22 1075.8,352.22" fill="#55585a"/><rect x="1068.65" y="289.13" width="16.3" height="28.71" rx="0.8" fill="#ffffff" stroke="#5a5d5f" stroke-width="1.8"/><path d="M1068.65 303.49H1084.95" stroke="#585b5d" stroke-width="1.6"/><path d="M1072.95 298.54L1080.65 305.84M1072.95 305.84L1080.65 298.54" stroke="#111" stroke-width="1.12"/><circle cx="1076.8" cy="238.9" r="2.0" fill="#bfc1c2" stroke="#686b6d" stroke-width="1.55"/><path d="M1095.82 274.78V231.72M1095.82 303.49V346.55" stroke="#7e8183" stroke-width="2"/><polygon points="1092.91,230.82 1098.72,230.82 1096.82,233.22 1094.82,233.22" fill="#55585a"/><polygon points="1092.91,347.45 1098.72,347.45 1096.82,345.05 1094.82,345.05" fill="#55585a"/><rect x="1087.66" y="274.78" width="16.3" height="28.71" rx="0.8" fill="#ffffff" stroke="#5a5d5f" stroke-width="1.8"/><path d="M1087.66 289.13H1103.97" stroke="#585b5d" stroke-width="1.6"/><path d="M1091.97 282.76L1099.66 290.06M1091.97 290.06L1099.66 282.76" stroke="#111" stroke-width="1.12"/><circle cx="1095.82" cy="203.01" r="2.0" fill="#bfc1c2" stroke="#686b6d" stroke-width="1.55"/><circle cx="1095.82" cy="224.54" r="2.0" fill="#bfc1c2" stroke="#686b6d" stroke-width="1.55"/><path d="M1114.83 267.6V224.54M1114.83 296.31V339.37" stroke="#7e8183" stroke-width="2"/><polygon points="1111.93,223.64 1117.73,223.64 1115.83,226.04 1113.83,226.04" fill="#55585a"/><polygon points="1111.93,340.27 1117.73,340.27 1115.83,337.87 1113.83,337.87" fill="#55585a"/><rect x="1106.68" y="267.6" width="16.3" height="28.71" rx="0.8" fill="#7a7d7e" stroke="#5a5d5f" stroke-width="1.8"/><path d="M1106.68 281.96H1122.98" stroke="#3f4244" stroke-width="1.6"/><path d="M1110.98 275.72L1118.68 283.02M1110.98 283.02L1118.68 275.72" stroke="#111" stroke-width="1.12"/><circle cx="1114.83" cy="210.19" r="2.55" fill="#5a5d5f"/><circle cx="1114.83" cy="217.37" r="2.55" fill="#5a5d5f"/><path d="M1133.84 253.25V210.19M1133.84 281.96V325.02" stroke="#7e8183" stroke-width="2"/><polygon points="1130.94,209.29 1136.74,209.29 1134.84,211.69 1132.84,211.69" fill="#55585a"/><polygon points="1130.94,325.92 1136.74,325.92 1134.84,323.52 1132.84,323.52" fill="#55585a"/><rect x="1125.69" y="253.25" width="16.3" height="28.71" rx="0.8" fill="#7a7d7e" stroke="#5a5d5f" stroke-width="1.8"/><path d="M1125.69 267.6H1141.99" stroke="#3f4244" stroke-width="1.6"/><path d="M1129.99 265.53L1137.69 272.83M1129.99 272.83L1137.69 265.53" stroke="#111" stroke-width="1.12"/><circle cx="1133.84" cy="188.66" r="2.55" fill="#5a5d5f"/><circle cx="1133.84" cy="195.84" r="2.55" fill="#5a5d5f"/><circle cx="1133.84" cy="332.19" r="2.55" fill="#5a5d5f"/><path d="M1152.85 274.78V231.72M1152.85 303.49V346.55" stroke="#7e8183" stroke-width="2"/><polygon points="1149.95,230.82 1155.75,230.82 1153.85,233.22 1151.85,233.22" fill="#55585a"/><polygon points="1149.95,347.45 1155.75,347.45 1153.85,345.05 1151.85,345.05" fill="#55585a"/><rect x="1144.7" y="274.78" width="16.3" height="28.71" rx="0.8" fill="#ffffff" stroke="#5a5d5f" stroke-width="1.8"/><path d="M1144.7 289.13H1161" stroke="#585b5d" stroke-width="1.6"/><path d="M1149 284.48L1156.7 291.78M1149 291.78L1156.7 284.48" stroke="#111" stroke-width="1.12"/><circle cx="1152.85" cy="210.19" r="2.0" fill="#bfc1c2" stroke="#686b6d" stroke-width="1.55"/><circle cx="1152.85" cy="360.9" r="2.0" fill="#bfc1c2" stroke="#686b6d" stroke-width="1.55"/><path d="M1171.87 274.78V231.72M1171.87 303.49V346.55" stroke="#7e8183" stroke-width="2"/><polygon points="1168.97,230.82 1174.77,230.82 1172.87,233.22 1170.87,233.22" fill="#55585a"/><polygon points="1168.97,347.45 1174.77,347.45 1172.87,345.05 1170.87,345.05" fill="#55585a"/><rect x="1163.72" y="274.78" width="16.3" height="28.71" rx="0.8" fill="#ffffff" stroke="#5a5d5f" stroke-width="1.8"/><path d="M1163.72 289.13H1180.02" stroke="#585b5d" stroke-width="1.6"/><path d="M1168.02 286.78L1175.72 294.08M1168.02 294.08L1175.72 286.78" stroke="#111" stroke-width="1.12"/><circle cx="1171.87" cy="217.37" r="2.0" fill="#bfc1c2" stroke="#686b6d" stroke-width="1.55"/><circle cx="1171.87" cy="224.54" r="2.0" fill="#bfc1c2" stroke="#686b6d" stroke-width="1.55"/></g>
<path d="M322 598.9H697M322 577.54H697M322 556.18H697M322 534.82H697M322 513.46H697M322 492.1H697M322 470.74H697M322 449.38H697M322 428.02H697M322 406.66H697M322 385.3H697M697 597.7H986M697 576.38H986M697 555.06H986M697 533.74H986M697 512.42H986M697 491.1H986M697 469.78H986M697 448.46H986M697 427.14H986M697 405.82H986M697 384.5H986M986 598.9H1190M986 577.54H1190M986 556.18H1190M986 534.82H1190M986 513.46H1190M986 492.1H1190M986 470.74H1190M986 449.38H1190M986 428.02H1190M986 406.66H1190M986 385.3H1190" stroke="#e3e3e3" stroke-width="1.9" fill="none"/>
<path d="M322 384.4V599.8" stroke="#e3e3e3" stroke-width="1.9" fill="none"/>
<text class="sans" x="314.3" y="603.2" font-size="10.6" text-anchor="end" fill="#777" stroke="#777" stroke-width="0.4">0</text>
<text class="sans" x="314.3" y="581.84" font-size="10.6" text-anchor="end" fill="#777" stroke="#777" stroke-width="0.4">0.05</text>
<text class="sans" x="314.3" y="560.48" font-size="10.6" text-anchor="end" fill="#777" stroke="#777" stroke-width="0.4">0.1</text>
<text class="sans" x="314.3" y="539.12" font-size="10.6" text-anchor="end" fill="#777" stroke="#777" stroke-width="0.4">0.15</text>
<text class="sans" x="314.3" y="517.76" font-size="10.6" text-anchor="end" fill="#777" stroke="#777" stroke-width="0.4">0.2</text>
<text class="sans" x="314.3" y="496.4" font-size="10.6" text-anchor="end" fill="#777" stroke="#777" stroke-width="0.4">0.25</text>
<text class="sans" x="314.3" y="475.04" font-size="10.6" text-anchor="end" fill="#777" stroke="#777" stroke-width="0.4">0.3</text>
<text class="sans" x="314.3" y="453.68" font-size="10.6" text-anchor="end" fill="#777" stroke="#777" stroke-width="0.4">0.35</text>
<text class="sans" x="314.3" y="432.32" font-size="10.6" text-anchor="end" fill="#777" stroke="#777" stroke-width="0.4">0.4</text>
<text class="sans" x="314.3" y="410.96" font-size="10.6" text-anchor="end" fill="#777" stroke="#777" stroke-width="0.4">0.45</text>
<text class="sans" x="314.3" y="389.6" font-size="10.6" text-anchor="end" fill="#777" stroke="#777" stroke-width="0.4">0.5</text>
<text class="sans" transform="translate(283.4 492.1) rotate(-90)" font-size="10.2" text-anchor="middle" fill="#707070" stroke="#707070" stroke-width="0.45">Mortality on ICU</text>
<g><path d="M423.31 441.76V556.68" stroke="#fff" stroke-width="6.4"/><rect x="412.66" y="483.28" width="21.3" height="31.88" fill="#fff"/><circle cx="423.31" cy="406.66" r="5.2" fill="#fff"/><circle cx="423.31" cy="413.78" r="5.2" fill="#fff"/><circle cx="423.31" cy="420.9" r="5.2" fill="#fff"/><circle cx="423.31" cy="428.02" r="5.2" fill="#fff"/><circle cx="423.31" cy="435.14" r="5.2" fill="#fff"/><circle cx="423.31" cy="563.3" r="5.2" fill="#fff"/><path d="M442.15 441.76V556.68" stroke="#fff" stroke-width="6.4"/><rect x="431.5" y="483.28" width="21.3" height="31.88" fill="#fff"/><circle cx="442.15" cy="406.66" r="5.2" fill="#fff"/><circle cx="442.15" cy="420.9" r="5.2" fill="#fff"/><circle cx="442.15" cy="428.02" r="5.2" fill="#fff"/><circle cx="442.15" cy="435.14" r="5.2" fill="#fff"/><circle cx="442.15" cy="563.3" r="5.2" fill="#fff"/><path d="M460.98 441.76V556.68" stroke="#fff" stroke-width="6.4"/><rect x="450.33" y="483.28" width="21.3" height="31.88" fill="#fff"/><circle cx="460.98" cy="406.66" r="5.2" fill="#fff"/><circle cx="460.98" cy="413.78" r="5.2" fill="#fff"/><circle cx="460.98" cy="420.9" r="5.2" fill="#fff"/><circle cx="460.98" cy="428.02" r="5.2" fill="#fff"/><circle cx="460.98" cy="435.14" r="5.2" fill="#fff"/><circle cx="460.98" cy="563.3" r="5.2" fill="#fff"/><path d="M479.82 448.88V563.8" stroke="#fff" stroke-width="6.4"/><rect x="469.17" y="490.4" width="21.3" height="31.88" fill="#fff"/><circle cx="479.82" cy="420.9" r="5.2" fill="#fff"/><circle cx="479.82" cy="428.02" r="5.2" fill="#fff"/><circle cx="479.82" cy="435.14" r="5.2" fill="#fff"/><circle cx="479.82" cy="442.26" r="5.2" fill="#fff"/><path d="M498.65 463.12V570.92" stroke="#fff" stroke-width="6.4"/><rect x="488" y="504.64" width="21.3" height="31.88" fill="#fff"/><circle cx="498.65" cy="420.9" r="5.2" fill="#fff"/><circle cx="498.65" cy="435.14" r="5.2" fill="#fff"/><circle cx="498.65" cy="449.38" r="5.2" fill="#fff"/><circle cx="498.65" cy="456.5" r="5.2" fill="#fff"/><path d="M517.49 463.12V563.8" stroke="#fff" stroke-width="6.4"/><rect x="506.84" y="497.52" width="21.3" height="31.88" fill="#fff"/><circle cx="517.49" cy="420.9" r="5.2" fill="#fff"/><circle cx="517.49" cy="428.02" r="5.2" fill="#fff"/><circle cx="517.49" cy="435.14" r="5.2" fill="#fff"/><circle cx="517.49" cy="449.38" r="5.2" fill="#fff"/><circle cx="517.49" cy="456.5" r="5.2" fill="#fff"/><circle cx="517.49" cy="570.42" r="5.2" fill="#fff"/><circle cx="517.49" cy="577.54" r="5.2" fill="#fff"/><path d="M536.33 441.76V570.92" stroke="#fff" stroke-width="6.4"/><rect x="525.68" y="490.4" width="21.3" height="39" fill="#fff"/><circle cx="536.33" cy="420.9" r="5.2" fill="#fff"/><path d="M555.16 434.64V570.92" stroke="#fff" stroke-width="6.4"/><rect x="544.51" y="483.28" width="21.3" height="39" fill="#fff"/><circle cx="555.16" cy="420.9" r="5.2" fill="#fff"/><circle cx="555.16" cy="428.02" r="5.2" fill="#fff"/><path d="M574 463.12V563.8" stroke="#fff" stroke-width="6.4"/><rect x="563.35" y="497.52" width="21.3" height="31.88" fill="#fff"/><circle cx="574" cy="435.14" r="5.2" fill="#fff"/><circle cx="574" cy="442.26" r="5.2" fill="#fff"/><circle cx="574" cy="449.38" r="5.2" fill="#fff"/><circle cx="574" cy="456.5" r="5.2" fill="#fff"/><circle cx="574" cy="570.42" r="5.2" fill="#fff"/><circle cx="574" cy="577.54" r="5.2" fill="#fff"/><path d="M592.83 463.12V563.8" stroke="#fff" stroke-width="6.4"/><rect x="582.18" y="497.52" width="21.3" height="31.88" fill="#fff"/><circle cx="592.83" cy="420.9" r="5.2" fill="#fff"/><circle cx="592.83" cy="428.02" r="5.2" fill="#fff"/><circle cx="592.83" cy="442.26" r="5.2" fill="#fff"/><circle cx="592.83" cy="449.38" r="5.2" fill="#fff"/><circle cx="592.83" cy="456.5" r="5.2" fill="#fff"/><circle cx="592.83" cy="570.42" r="5.2" fill="#fff"/></g>
<g><path d="M423.31 484.98V442.26M423.31 513.46V556.18" stroke="#7e8183" stroke-width="2"/><polygon points="420.41,441.36 426.21,441.36 424.31,443.76 422.31,443.76" fill="#55585a"/><polygon points="420.41,557.08 426.21,557.08 424.31,554.68 422.31,554.68" fill="#55585a"/><rect x="415.16" y="484.98" width="16.3" height="28.48" rx="0.8" fill="#d3d5d5" stroke="#5a5d5f" stroke-width="1.8"/><path d="M415.16 499.22H431.46" stroke="#585b5d" stroke-width="1.6"/><path d="M419.46 494.15L427.16 501.45M419.46 501.45L427.16 494.15" stroke="#111" stroke-width="1.12"/><circle cx="423.31" cy="406.66" r="2.0" fill="#bfc1c2" stroke="#686b6d" stroke-width="1.55"/><circle cx="423.31" cy="413.78" r="2.0" fill="#bfc1c2" stroke="#686b6d" stroke-width="1.55"/><circle cx="423.31" cy="420.9" r="2.0" fill="#bfc1c2" stroke="#686b6d" stroke-width="1.55"/><circle cx="423.31" cy="428.02" r="2.0" fill="#bfc1c2" stroke="#686b6d" stroke-width="1.55"/><circle cx="423.31" cy="435.14" r="2.0" fill="#bfc1c2" stroke="#686b6d" stroke-width="1.55"/><circle cx="423.31" cy="563.3" r="2.0" fill="#bfc1c2" stroke="#686b6d" stroke-width="1.55"/><path d="M442.15 484.98V442.26M442.15 513.46V556.18" stroke="#7e8183" stroke-width="2"/><polygon points="439.25,441.36 445.05,441.36 443.15,443.76 441.15,443.76" fill="#55585a"/><polygon points="439.25,557.08 445.05,557.08 443.15,554.68 441.15,554.68" fill="#55585a"/><rect x="434" y="484.98" width="16.3" height="28.48" rx="0.8" fill="#d3d5d5" stroke="#5a5d5f" stroke-width="1.8"/><path d="M434 499.22H450.3" stroke="#585b5d" stroke-width="1.6"/><path d="M438.3 494.57L446 501.87M438.3 501.87L446 494.57" stroke="#111" stroke-width="1.12"/><circle cx="442.15" cy="406.66" r="2.0" fill="#bfc1c2" stroke="#686b6d" stroke-width="1.55"/><circle cx="442.15" cy="420.9" r="2.0" fill="#bfc1c2" stroke="#686b6d" stroke-width="1.55"/><circle cx="442.15" cy="428.02" r="2.0" fill="#bfc1c2" stroke="#686b6d" stroke-width="1.55"/><circle cx="442.15" cy="435.14" r="2.0" fill="#bfc1c2" stroke="#686b6d" stroke-width="1.55"/><circle cx="442.15" cy="563.3" r="2.0" fill="#bfc1c2" stroke="#686b6d" stroke-width="1.55"/><path d="M460.98 484.98V442.26M460.98 513.46V556.18" stroke="#7e8183" stroke-width="2"/><polygon points="458.08,441.36 463.88,441.36 461.98,443.76 459.98,443.76" fill="#55585a"/><polygon points="458.08,557.08 463.88,557.08 461.98,554.68 459.98,554.68" fill="#55585a"/><rect x="452.83" y="484.98" width="16.3" height="28.48" rx="0.8" fill="#d3d5d5" stroke="#5a5d5f" stroke-width="1.8"/><path d="M452.83 499.22H469.13" stroke="#585b5d" stroke-width="1.6"/><path d="M457.13 493.43L464.83 500.73M457.13 500.73L464.83 493.43" stroke="#111" stroke-width="1.12"/><circle cx="460.98" cy="406.66" r="2.0" fill="#bfc1c2" stroke="#686b6d" stroke-width="1.55"/><circle cx="460.98" cy="413.78" r="2.0" fill="#bfc1c2" stroke="#686b6d" stroke-width="1.55"/><circle cx="460.98" cy="420.9" r="2.0" fill="#bfc1c2" stroke="#686b6d" stroke-width="1.55"/><circle cx="460.98" cy="428.02" r="2.0" fill="#bfc1c2" stroke="#686b6d" stroke-width="1.55"/><circle cx="460.98" cy="435.14" r="2.0" fill="#bfc1c2" stroke="#686b6d" stroke-width="1.55"/><circle cx="460.98" cy="563.3" r="2.0" fill="#bfc1c2" stroke="#686b6d" stroke-width="1.55"/><path d="M479.82 492.1V449.38M479.82 520.58V563.3" stroke="#7e8183" stroke-width="2"/><polygon points="476.92,448.48 482.72,448.48 480.82,450.88 478.82,450.88" fill="#55585a"/><polygon points="476.92,564.2 482.72,564.2 480.82,561.8 478.82,561.8" fill="#55585a"/><rect x="471.67" y="492.1" width="16.3" height="28.48" rx="0.8" fill="#7a7d7e" stroke="#5a5d5f" stroke-width="1.8"/><path d="M471.67 506.34H487.97" stroke="#3f4244" stroke-width="1.6"/><path d="M475.97 502.12L483.67 509.42M475.97 509.42L483.67 502.12" stroke="#111" stroke-width="1.12"/><circle cx="479.82" cy="420.9" r="2.55" fill="#5a5d5f"/><circle cx="479.82" cy="428.02" r="2.55" fill="#5a5d5f"/><circle cx="479.82" cy="435.14" r="2.55" fill="#5a5d5f"/><circle cx="479.82" cy="442.26" r="2.55" fill="#5a5d5f"/><path d="M498.65 506.34V463.62M498.65 534.82V570.42" stroke="#7e8183" stroke-width="2"/><polygon points="495.75,462.72 501.55,462.72 499.65,465.12 497.65,465.12" fill="#55585a"/><polygon points="495.75,571.32 501.55,571.32 499.65,568.92 497.65,568.92" fill="#55585a"/><rect x="490.5" y="506.34" width="16.3" height="28.48" rx="0.8" fill="#ffffff" stroke="#5a5d5f" stroke-width="1.8"/><path d="M490.5 520.58H506.8" stroke="#585b5d" stroke-width="1.6"/><path d="M494.8 517.36L502.5 524.66M494.8 524.66L502.5 517.36" stroke="#111" stroke-width="1.12"/><circle cx="498.65" cy="420.9" r="2.0" fill="#bfc1c2" stroke="#686b6d" stroke-width="1.55"/><circle cx="498.65" cy="435.14" r="2.0" fill="#bfc1c2" stroke="#686b6d" stroke-width="1.55"/><circle cx="498.65" cy="449.38" r="2.0" fill="#bfc1c2" stroke="#686b6d" stroke-width="1.55"/><circle cx="498.65" cy="456.5" r="2.0" fill="#bfc1c2" stroke="#686b6d" stroke-width="1.55"/><path d="M517.49 499.22V463.62M517.49 527.7V563.3" stroke="#7e8183" stroke-width="2"/><polygon points="514.59,462.72 520.39,462.72 518.49,465.12 516.49,465.12" fill="#55585a"/><polygon points="514.59,564.2 520.39,564.2 518.49,561.8 516.49,561.8" fill="#55585a"/><rect x="509.34" y="499.22" width="16.3" height="28.48" rx="0.8" fill="#ffffff" stroke="#5a5d5f" stroke-width="1.8"/><path d="M509.34 513.46H525.64" stroke="#585b5d" stroke-width="1.6"/><path d="M513.64 507.32L521.34 514.62M513.64 514.62L521.34 507.32" stroke="#111" stroke-width="1.12"/><circle cx="517.49" cy="420.9" r="2.0" fill="#bfc1c2" stroke="#686b6d" stroke-width="1.55"/><circle cx="517.49" cy="428.02" r="2.0" fill="#bfc1c2" stroke="#686b6d" stroke-width="1.55"/><circle cx="517.49" cy="435.14" r="2.0" fill="#bfc1c2" stroke="#686b6d" stroke-width="1.55"/><circle cx="517.49" cy="449.38" r="2.0" fill="#bfc1c2" stroke="#686b6d" stroke-width="1.55"/><circle cx="517.49" cy="456.5" r="2.0" fill="#bfc1c2" stroke="#686b6d" stroke-width="1.55"/><circle cx="517.49" cy="570.42" r="2.0" fill="#bfc1c2" stroke="#686b6d" stroke-width="1.55"/><circle cx="517.49" cy="577.54" r="2.0" fill="#bfc1c2" stroke="#686b6d" stroke-width="1.55"/><path d="M536.33 492.1V442.26M536.33 527.7V570.42" stroke="#7e8183" stroke-width="2"/><polygon points="533.43,441.36 539.23,441.36 537.33,443.76 535.33,443.76" fill="#55585a"/><polygon points="533.43,571.32 539.23,571.32 537.33,568.92 535.33,568.92" fill="#55585a"/><rect x="528.18" y="492.1" width="16.3" height="35.6" rx="0.8" fill="#7a7d7e" stroke="#5a5d5f" stroke-width="1.8"/><path d="M528.18 506.34H544.48" stroke="#3f4244" stroke-width="1.6"/><path d="M532.48 504.19L540.18 511.49M532.48 511.49L540.18 504.19" stroke="#111" stroke-width="1.12"/><circle cx="536.33" cy="420.9" r="2.55" fill="#5a5d5f"/><path d="M555.16 484.98V435.14M555.16 520.58V570.42" stroke="#7e8183" stroke-width="2"/><polygon points="552.26,434.24 558.06,434.24 556.16,436.64 554.16,436.64" fill="#55585a"/><polygon points="552.26,571.32 558.06,571.32 556.16,568.92 554.16,568.92" fill="#55585a"/><rect x="547.01" y="484.98" width="16.3" height="35.6" rx="0.8" fill="#7a7d7e" stroke="#5a5d5f" stroke-width="1.8"/><path d="M547.01 506.34H563.31" stroke="#3f4244" stroke-width="1.6"/><path d="M551.31 498.92L559.01 506.22M551.31 506.22L559.01 498.92" stroke="#111" stroke-width="1.12"/><circle cx="555.16" cy="420.9" r="2.55" fill="#5a5d5f"/><circle cx="555.16" cy="428.02" r="2.55" fill="#5a5d5f"/><path d="M574 499.22V463.62M574 527.7V563.3" stroke="#7e8183" stroke-width="2"/><polygon points="571.1,462.72 576.9,462.72 575,465.12 573,465.12" fill="#55585a"/><polygon points="571.1,564.2 576.9,564.2 575,561.8 573,561.8" fill="#55585a"/><rect x="565.85" y="499.22" width="16.3" height="28.48" rx="0.8" fill="#ffffff" stroke="#5a5d5f" stroke-width="1.8"/><path d="M565.85 513.46H582.15" stroke="#585b5d" stroke-width="1.6"/><path d="M570.15 508.6L577.85 515.9M570.15 515.9L577.85 508.6" stroke="#111" stroke-width="1.12"/><circle cx="574" cy="435.14" r="2.0" fill="#bfc1c2" stroke="#686b6d" stroke-width="1.55"/><circle cx="574" cy="442.26" r="2.0" fill="#bfc1c2" stroke="#686b6d" stroke-width="1.55"/><circle cx="574" cy="449.38" r="2.0" fill="#bfc1c2" stroke="#686b6d" stroke-width="1.55"/><circle cx="574" cy="456.5" r="2.0" fill="#bfc1c2" stroke="#686b6d" stroke-width="1.55"/><circle cx="574" cy="570.42" r="2.0" fill="#bfc1c2" stroke="#686b6d" stroke-width="1.55"/><circle cx="574" cy="577.54" r="2.0" fill="#bfc1c2" stroke="#686b6d" stroke-width="1.55"/><path d="M592.83 499.22V463.62M592.83 527.7V563.3" stroke="#7e8183" stroke-width="2"/><polygon points="589.93,462.72 595.73,462.72 593.83,465.12 591.83,465.12" fill="#55585a"/><polygon points="589.93,564.2 595.73,564.2 593.83,561.8 591.83,561.8" fill="#55585a"/><rect x="584.68" y="499.22" width="16.3" height="28.48" rx="0.8" fill="#ffffff" stroke="#5a5d5f" stroke-width="1.8"/><path d="M584.68 513.46H600.98" stroke="#585b5d" stroke-width="1.6"/><path d="M588.98 509.45L596.68 516.75M588.98 516.75L596.68 509.45" stroke="#111" stroke-width="1.12"/><circle cx="592.83" cy="420.9" r="2.0" fill="#bfc1c2" stroke="#686b6d" stroke-width="1.55"/><circle cx="592.83" cy="428.02" r="2.0" fill="#bfc1c2" stroke="#686b6d" stroke-width="1.55"/><circle cx="592.83" cy="442.26" r="2.0" fill="#bfc1c2" stroke="#686b6d" stroke-width="1.55"/><circle cx="592.83" cy="449.38" r="2.0" fill="#bfc1c2" stroke="#686b6d" stroke-width="1.55"/><circle cx="592.83" cy="456.5" r="2.0" fill="#bfc1c2" stroke="#686b6d" stroke-width="1.55"/><circle cx="592.83" cy="570.42" r="2.0" fill="#bfc1c2" stroke="#686b6d" stroke-width="1.55"/></g>
<g><path d="M711.55 440.85V555.56" stroke="#fff" stroke-width="6.4"/><rect x="700.9" y="482.29" width="21.3" height="31.83" fill="#fff"/><circle cx="711.55" cy="405.82" r="5.2" fill="#fff"/><circle cx="711.55" cy="412.93" r="5.2" fill="#fff"/><circle cx="711.55" cy="420.03" r="5.2" fill="#fff"/><circle cx="711.55" cy="427.14" r="5.2" fill="#fff"/><circle cx="711.55" cy="434.25" r="5.2" fill="#fff"/><circle cx="711.55" cy="562.17" r="5.2" fill="#fff"/><path d="M730.37 440.85V555.56" stroke="#fff" stroke-width="6.4"/><rect x="719.72" y="482.29" width="21.3" height="31.83" fill="#fff"/><circle cx="730.37" cy="405.82" r="5.2" fill="#fff"/><circle cx="730.37" cy="412.93" r="5.2" fill="#fff"/><circle cx="730.37" cy="420.03" r="5.2" fill="#fff"/><circle cx="730.37" cy="427.14" r="5.2" fill="#fff"/><circle cx="730.37" cy="434.25" r="5.2" fill="#fff"/><circle cx="730.37" cy="562.17" r="5.2" fill="#fff"/><path d="M749.19 440.85V555.56" stroke="#fff" stroke-width="6.4"/><rect x="738.54" y="482.29" width="21.3" height="31.83" fill="#fff"/><circle cx="749.19" cy="412.93" r="5.2" fill="#fff"/><circle cx="749.19" cy="420.03" r="5.2" fill="#fff"/><circle cx="749.19" cy="434.25" r="5.2" fill="#fff"/><circle cx="749.19" cy="562.17" r="5.2" fill="#fff"/><path d="M768.01 462.17V562.67" stroke="#fff" stroke-width="6.4"/><rect x="757.36" y="496.51" width="21.3" height="31.83" fill="#fff"/><circle cx="768.01" cy="420.03" r="5.2" fill="#fff"/><circle cx="768.01" cy="434.25" r="5.2" fill="#fff"/><circle cx="768.01" cy="448.46" r="5.2" fill="#fff"/><circle cx="768.01" cy="455.57" r="5.2" fill="#fff"/><circle cx="768.01" cy="569.27" r="5.2" fill="#fff"/><path d="M786.83 483.49V583.99" stroke="#fff" stroke-width="6.4"/><rect x="776.18" y="517.83" width="21.3" height="31.83" fill="#fff"/><circle cx="786.83" cy="448.46" r="5.2" fill="#fff"/><circle cx="786.83" cy="455.57" r="5.2" fill="#fff"/><circle cx="786.83" cy="469.78" r="5.2" fill="#fff"/><circle cx="786.83" cy="476.89" r="5.2" fill="#fff"/><path d="M805.65 483.49V562.67" stroke="#fff" stroke-width="6.4"/><rect x="795" y="510.72" width="21.3" height="24.72" fill="#fff"/><circle cx="805.65" cy="448.46" r="5.2" fill="#fff"/><circle cx="805.65" cy="455.57" r="5.2" fill="#fff"/><circle cx="805.65" cy="462.67" r="5.2" fill="#fff"/><circle cx="805.65" cy="469.78" r="5.2" fill="#fff"/><circle cx="805.65" cy="476.89" r="5.2" fill="#fff"/><circle cx="805.65" cy="569.27" r="5.2" fill="#fff"/><circle cx="805.65" cy="576.38" r="5.2" fill="#fff"/><path d="M824.47 462.17V576.88" stroke="#fff" stroke-width="6.4"/><rect x="813.82" y="503.61" width="21.3" height="31.83" fill="#fff"/><circle cx="824.47" cy="434.25" r="5.2" fill="#fff"/><circle cx="824.47" cy="448.46" r="5.2" fill="#fff"/><circle cx="824.47" cy="455.57" r="5.2" fill="#fff"/><circle cx="824.47" cy="583.49" r="5.2" fill="#fff"/><path d="M843.29 447.96V562.67" stroke="#fff" stroke-width="6.4"/><rect x="832.64" y="489.4" width="21.3" height="31.83" fill="#fff"/><circle cx="843.29" cy="434.25" r="5.2" fill="#fff"/><circle cx="843.29" cy="441.35" r="5.2" fill="#fff"/><path d="M862.11 469.28V576.88" stroke="#fff" stroke-width="6.4"/><rect x="851.46" y="510.72" width="21.3" height="31.83" fill="#fff"/><circle cx="862.11" cy="434.25" r="5.2" fill="#fff"/><circle cx="862.11" cy="441.35" r="5.2" fill="#fff"/><circle cx="862.11" cy="448.46" r="5.2" fill="#fff"/><circle cx="862.11" cy="455.57" r="5.2" fill="#fff"/><circle cx="862.11" cy="462.67" r="5.2" fill="#fff"/><path d="M880.93 469.28V576.88" stroke="#fff" stroke-width="6.4"/><rect x="870.28" y="510.72" width="21.3" height="31.83" fill="#fff"/><circle cx="880.93" cy="448.46" r="5.2" fill="#fff"/><circle cx="880.93" cy="455.57" r="5.2" fill="#fff"/><circle cx="880.93" cy="462.67" r="5.2" fill="#fff"/></g>
<g><path d="M711.55 483.99V441.35M711.55 512.42V555.06" stroke="#7e8183" stroke-width="2"/><polygon points="708.65,440.45 714.45,440.45 712.55,442.85 710.55,442.85" fill="#55585a"/><polygon points="708.65,555.96 714.45,555.96 712.55,553.56 710.55,553.56" fill="#55585a"/><rect x="703.4" y="483.99" width="16.3" height="28.43" rx="0.8" fill="#d3d5d5" stroke="#5a5d5f" stroke-width="1.8"/><path d="M703.4 498.21H719.7" stroke="#585b5d" stroke-width="1.6"/><path d="M707.7 492.42L715.4 499.72M707.7 499.72L715.4 492.42" stroke="#111" stroke-width="1.12"/><circle cx="711.55" cy="405.82" r="2.0" fill="#bfc1c2" stroke="#686b6d" stroke-width="1.55"/><circle cx="711.55" cy="412.93" r="2.0" fill="#bfc1c2" stroke="#686b6d" stroke-width="1.55"/><circle cx="711.55" cy="420.03" r="2.0" fill="#bfc1c2" stroke="#686b6d" stroke-width="1.55"/><circle cx="711.55" cy="427.14" r="2.0" fill="#bfc1c2" stroke="#686b6d" stroke-width="1.55"/><circle cx="711.55" cy="434.25" r="2.0" fill="#bfc1c2" stroke="#686b6d" stroke-width="1.55"/><circle cx="711.55" cy="562.17" r="2.0" fill="#bfc1c2" stroke="#686b6d" stroke-width="1.55"/><path d="M730.37 483.99V441.35M730.37 512.42V555.06" stroke="#7e8183" stroke-width="2"/><polygon points="727.47,440.45 733.27,440.45 731.37,442.85 729.37,442.85" fill="#55585a"/><polygon points="727.47,555.96 733.27,555.96 731.37,553.56 729.37,553.56" fill="#55585a"/><rect x="722.22" y="483.99" width="16.3" height="28.43" rx="0.8" fill="#d3d5d5" stroke="#5a5d5f" stroke-width="1.8"/><path d="M722.22 498.21H738.52" stroke="#585b5d" stroke-width="1.6"/><path d="M726.52 493.14L734.22 500.44M726.52 500.44L734.22 493.14" stroke="#111" stroke-width="1.12"/><circle cx="730.37" cy="405.82" r="2.0" fill="#bfc1c2" stroke="#686b6d" stroke-width="1.55"/><circle cx="730.37" cy="412.93" r="2.0" fill="#bfc1c2" stroke="#686b6d" stroke-width="1.55"/><circle cx="730.37" cy="420.03" r="2.0" fill="#bfc1c2" stroke="#686b6d" stroke-width="1.55"/><circle cx="730.37" cy="427.14" r="2.0" fill="#bfc1c2" stroke="#686b6d" stroke-width="1.55"/><circle cx="730.37" cy="434.25" r="2.0" fill="#bfc1c2" stroke="#686b6d" stroke-width="1.55"/><circle cx="730.37" cy="562.17" r="2.0" fill="#bfc1c2" stroke="#686b6d" stroke-width="1.55"/><path d="M749.19 483.99V441.35M749.19 512.42V555.06" stroke="#7e8183" stroke-width="2"/><polygon points="746.29,440.45 752.09,440.45 750.19,442.85 748.19,442.85" fill="#55585a"/><polygon points="746.29,555.96 752.09,555.96 750.19,553.56 748.19,553.56" fill="#55585a"/><rect x="741.04" y="483.99" width="16.3" height="28.43" rx="0.8" fill="#d3d5d5" stroke="#5a5d5f" stroke-width="1.8"/><path d="M741.04 498.21H757.34" stroke="#585b5d" stroke-width="1.6"/><path d="M745.34 495.55L753.04 502.85M745.34 502.85L753.04 495.55" stroke="#111" stroke-width="1.12"/><circle cx="749.19" cy="412.93" r="2.0" fill="#bfc1c2" stroke="#686b6d" stroke-width="1.55"/><circle cx="749.19" cy="420.03" r="2.0" fill="#bfc1c2" stroke="#686b6d" stroke-width="1.55"/><circle cx="749.19" cy="434.25" r="2.0" fill="#bfc1c2" stroke="#686b6d" stroke-width="1.55"/><circle cx="749.19" cy="562.17" r="2.0" fill="#bfc1c2" stroke="#686b6d" stroke-width="1.55"/><path d="M768.01 498.21V462.67M768.01 526.63V562.17" stroke="#7e8183" stroke-width="2"/><polygon points="765.11,461.77 770.91,461.77 769.01,464.17 767.01,464.17" fill="#55585a"/><polygon points="765.11,563.07 770.91,563.07 769.01,560.67 767.01,560.67" fill="#55585a"/><rect x="759.86" y="498.21" width="16.3" height="28.43" rx="0.8" fill="#7a7d7e" stroke="#5a5d5f" stroke-width="1.8"/><path d="M759.86 512.42H776.16" stroke="#3f4244" stroke-width="1.6"/><path d="M764.16 509.05L771.86 516.35M764.16 516.35L771.86 509.05" stroke="#111" stroke-width="1.12"/><circle cx="768.01" cy="420.03" r="2.55" fill="#5a5d5f"/><circle cx="768.01" cy="434.25" r="2.55" fill="#5a5d5f"/><circle cx="768.01" cy="448.46" r="2.55" fill="#5a5d5f"/><circle cx="768.01" cy="455.57" r="2.55" fill="#5a5d5f"/><circle cx="768.01" cy="569.27" r="2.55" fill="#5a5d5f"/><path d="M786.83 519.53V483.99M786.83 547.95V583.49" stroke="#7e8183" stroke-width="2"/><polygon points="783.93,483.09 789.73,483.09 787.83,485.49 785.83,485.49" fill="#55585a"/><polygon points="783.93,584.39 789.73,584.39 787.83,581.99 785.83,581.99" fill="#55585a"/><rect x="778.68" y="519.53" width="16.3" height="28.43" rx="0.8" fill="#ffffff" stroke="#5a5d5f" stroke-width="1.8"/><path d="M778.68 533.74H794.98" stroke="#585b5d" stroke-width="1.6"/><path d="M782.98 531.51L790.68 538.81M782.98 538.81L790.68 531.51" stroke="#111" stroke-width="1.12"/><circle cx="786.83" cy="448.46" r="2.0" fill="#bfc1c2" stroke="#686b6d" stroke-width="1.55"/><circle cx="786.83" cy="455.57" r="2.0" fill="#bfc1c2" stroke="#686b6d" stroke-width="1.55"/><circle cx="786.83" cy="469.78" r="2.0" fill="#bfc1c2" stroke="#686b6d" stroke-width="1.55"/><circle cx="786.83" cy="476.89" r="2.0" fill="#bfc1c2" stroke="#686b6d" stroke-width="1.55"/><path d="M805.65 512.42V483.99M805.65 533.74V562.17" stroke="#7e8183" stroke-width="2"/><polygon points="802.75,483.09 808.55,483.09 806.65,485.49 804.65,485.49" fill="#55585a"/><polygon points="802.75,563.07 808.55,563.07 806.65,560.67 804.65,560.67" fill="#55585a"/><rect x="797.5" y="512.42" width="16.3" height="21.32" rx="0.8" fill="#ffffff" stroke="#5a5d5f" stroke-width="1.8"/><path d="M797.5 519.53H813.8" stroke="#585b5d" stroke-width="1.6"/><path d="M801.8 518.15L809.5 525.45M801.8 525.45L809.5 518.15" stroke="#111" stroke-width="1.12"/><circle cx="805.65" cy="448.46" r="2.0" fill="#bfc1c2" stroke="#686b6d" stroke-width="1.55"/><circle cx="805.65" cy="455.57" r="2.0" fill="#bfc1c2" stroke="#686b6d" stroke-width="1.55"/><circle cx="805.65" cy="462.67" r="2.0" fill="#bfc1c2" stroke="#686b6d" stroke-width="1.55"/><circle cx="805.65" cy="469.78" r="2.0" fill="#bfc1c2" stroke="#686b6d" stroke-width="1.55"/><circle cx="805.65" cy="476.89" r="2.0" fill="#bfc1c2" stroke="#686b6d" stroke-width="1.55"/><circle cx="805.65" cy="569.27" r="2.0" fill="#bfc1c2" stroke="#686b6d" stroke-width="1.55"/><circle cx="805.65" cy="576.38" r="2.0" fill="#bfc1c2" stroke="#686b6d" stroke-width="1.55"/><path d="M824.47 505.31V462.67M824.47 533.74V576.38" stroke="#7e8183" stroke-width="2"/><polygon points="821.57,461.77 827.37,461.77 825.47,464.17 823.47,464.17" fill="#55585a"/><polygon points="821.57,577.28 827.37,577.28 825.47,574.88 823.47,574.88" fill="#55585a"/><rect x="816.32" y="505.31" width="16.3" height="28.43" rx="0.8" fill="#7a7d7e" stroke="#5a5d5f" stroke-width="1.8"/><path d="M816.32 519.53H832.62" stroke="#3f4244" stroke-width="1.6"/><path d="M820.62 515.17L828.32 522.47M820.62 522.47L828.32 515.17" stroke="#111" stroke-width="1.12"/><circle cx="824.47" cy="434.25" r="2.55" fill="#5a5d5f"/><circle cx="824.47" cy="448.46" r="2.55" fill="#5a5d5f"/><circle cx="824.47" cy="455.57" r="2.55" fill="#5a5d5f"/><circle cx="824.47" cy="583.49" r="2.55" fill="#5a5d5f"/><path d="M843.29 491.1V448.46M843.29 519.53V562.17" stroke="#7e8183" stroke-width="2"/><polygon points="840.39,447.56 846.19,447.56 844.29,449.96 842.29,449.96" fill="#55585a"/><polygon points="840.39,563.07 846.19,563.07 844.29,560.67 842.29,560.67" fill="#55585a"/><rect x="835.14" y="491.1" width="16.3" height="28.43" rx="0.8" fill="#7a7d7e" stroke="#5a5d5f" stroke-width="1.8"/><path d="M835.14 505.31H851.44" stroke="#3f4244" stroke-width="1.6"/><path d="M839.44 500.67L847.14 507.97M839.44 507.97L847.14 500.67" stroke="#111" stroke-width="1.12"/><circle cx="843.29" cy="434.25" r="2.55" fill="#5a5d5f"/><circle cx="843.29" cy="441.35" r="2.55" fill="#5a5d5f"/><path d="M862.11 512.42V469.78M862.11 540.85V576.38" stroke="#7e8183" stroke-width="2"/><polygon points="859.21,468.88 865.01,468.88 863.11,471.28 861.11,471.28" fill="#55585a"/><polygon points="859.21,577.28 865.01,577.28 863.11,574.88 861.11,574.88" fill="#55585a"/><rect x="853.96" y="512.42" width="16.3" height="28.43" rx="0.8" fill="#ffffff" stroke="#5a5d5f" stroke-width="1.8"/><path d="M853.96 526.63H870.26" stroke="#585b5d" stroke-width="1.6"/><path d="M858.26 519.22L865.96 526.52M858.26 526.52L865.96 519.22" stroke="#111" stroke-width="1.12"/><circle cx="862.11" cy="434.25" r="2.0" fill="#bfc1c2" stroke="#686b6d" stroke-width="1.55"/><circle cx="862.11" cy="441.35" r="2.0" fill="#bfc1c2" stroke="#686b6d" stroke-width="1.55"/><circle cx="862.11" cy="448.46" r="2.0" fill="#bfc1c2" stroke="#686b6d" stroke-width="1.55"/><circle cx="862.11" cy="455.57" r="2.0" fill="#bfc1c2" stroke="#686b6d" stroke-width="1.55"/><circle cx="862.11" cy="462.67" r="2.0" fill="#bfc1c2" stroke="#686b6d" stroke-width="1.55"/><path d="M880.93 512.42V469.78M880.93 540.85V576.38" stroke="#7e8183" stroke-width="2"/><polygon points="878.03,468.88 883.83,468.88 881.93,471.28 879.93,471.28" fill="#55585a"/><polygon points="878.03,577.28 883.83,577.28 881.93,574.88 879.93,574.88" fill="#55585a"/><rect x="872.78" y="512.42" width="16.3" height="28.43" rx="0.8" fill="#ffffff" stroke="#5a5d5f" stroke-width="1.8"/><path d="M872.78 526.63H889.08" stroke="#585b5d" stroke-width="1.6"/><path d="M877.08 521.35L884.78 528.65M877.08 528.65L884.78 521.35" stroke="#111" stroke-width="1.12"/><circle cx="880.93" cy="448.46" r="2.0" fill="#bfc1c2" stroke="#686b6d" stroke-width="1.55"/><circle cx="880.93" cy="455.57" r="2.0" fill="#bfc1c2" stroke="#686b6d" stroke-width="1.55"/><circle cx="880.93" cy="462.67" r="2.0" fill="#bfc1c2" stroke="#686b6d" stroke-width="1.55"/></g>
<g><path d="M997.85 441.76V556.68" stroke="#fff" stroke-width="6.4"/><rect x="987.2" y="483.28" width="21.3" height="31.88" fill="#fff"/><circle cx="997.85" cy="406.66" r="5.2" fill="#fff"/><circle cx="997.85" cy="413.78" r="5.2" fill="#fff"/><circle cx="997.85" cy="420.9" r="5.2" fill="#fff"/><circle cx="997.85" cy="428.02" r="5.2" fill="#fff"/><circle cx="997.85" cy="435.14" r="5.2" fill="#fff"/><circle cx="997.85" cy="563.3" r="5.2" fill="#fff"/><path d="M1016.7 441.76V556.68" stroke="#fff" stroke-width="6.4"/><rect x="1006.05" y="483.28" width="21.3" height="31.88" fill="#fff"/><circle cx="1016.7" cy="413.78" r="5.2" fill="#fff"/><circle cx="1016.7" cy="420.9" r="5.2" fill="#fff"/><circle cx="1016.7" cy="428.02" r="5.2" fill="#fff"/><circle cx="1016.7" cy="435.14" r="5.2" fill="#fff"/><circle cx="1016.7" cy="563.3" r="5.2" fill="#fff"/><path d="M1035.54 441.76V556.68" stroke="#fff" stroke-width="6.4"/><rect x="1024.89" y="483.28" width="21.3" height="31.88" fill="#fff"/><circle cx="1035.54" cy="413.78" r="5.2" fill="#fff"/><circle cx="1035.54" cy="420.9" r="5.2" fill="#fff"/><circle cx="1035.54" cy="428.02" r="5.2" fill="#fff"/><circle cx="1035.54" cy="435.14" r="5.2" fill="#fff"/><path d="M1054.38 463.12V578.04" stroke="#fff" stroke-width="6.4"/><rect x="1043.73" y="504.64" width="21.3" height="31.88" fill="#fff"/><circle cx="1054.38" cy="449.38" r="5.2" fill="#fff"/><circle cx="1054.38" cy="456.5" r="5.2" fill="#fff"/><circle cx="1054.38" cy="584.66" r="5.2" fill="#fff"/><path d="M1073.23 491.6V592.28" stroke="#fff" stroke-width="6.4"/><rect x="1062.58" y="533.12" width="21.3" height="31.88" fill="#fff"/><circle cx="1073.23" cy="463.62" r="5.2" fill="#fff"/><circle cx="1073.23" cy="470.74" r="5.2" fill="#fff"/><circle cx="1073.23" cy="477.86" r="5.2" fill="#fff"/><circle cx="1073.23" cy="484.98" r="5.2" fill="#fff"/><path d="M1092.08 484.48V585.16" stroke="#fff" stroke-width="6.4"/><rect x="1081.42" y="518.88" width="21.3" height="31.88" fill="#fff"/><circle cx="1092.08" cy="456.5" r="5.2" fill="#fff"/><circle cx="1092.08" cy="463.62" r="5.2" fill="#fff"/><circle cx="1092.08" cy="470.74" r="5.2" fill="#fff"/><circle cx="1092.08" cy="477.86" r="5.2" fill="#fff"/><circle cx="1092.08" cy="598.9" r="5.2" fill="#fff"/><path d="M1110.92 470.24V585.16" stroke="#fff" stroke-width="6.4"/><rect x="1100.27" y="511.76" width="21.3" height="31.88" fill="#fff"/><circle cx="1110.92" cy="449.38" r="5.2" fill="#fff"/><circle cx="1110.92" cy="456.5" r="5.2" fill="#fff"/><circle cx="1110.92" cy="463.62" r="5.2" fill="#fff"/><circle cx="1110.92" cy="591.78" r="5.2" fill="#fff"/><path d="M1129.77 448.88V563.8" stroke="#fff" stroke-width="6.4"/><rect x="1119.11" y="490.4" width="21.3" height="31.88" fill="#fff"/><circle cx="1129.77" cy="442.26" r="5.2" fill="#fff"/><circle cx="1129.77" cy="577.54" r="5.2" fill="#fff"/><path d="M1148.61 484.48V585.16" stroke="#fff" stroke-width="6.4"/><rect x="1137.96" y="518.88" width="21.3" height="31.88" fill="#fff"/><circle cx="1148.61" cy="449.38" r="5.2" fill="#fff"/><circle cx="1148.61" cy="456.5" r="5.2" fill="#fff"/><circle cx="1148.61" cy="463.62" r="5.2" fill="#fff"/><circle cx="1148.61" cy="470.74" r="5.2" fill="#fff"/><circle cx="1148.61" cy="477.86" r="5.2" fill="#fff"/><path d="M1167.45 484.48V585.16" stroke="#fff" stroke-width="6.4"/><rect x="1156.8" y="518.88" width="21.3" height="31.88" fill="#fff"/><circle cx="1167.45" cy="456.5" r="5.2" fill="#fff"/><circle cx="1167.45" cy="463.62" r="5.2" fill="#fff"/><circle cx="1167.45" cy="477.86" r="5.2" fill="#fff"/></g>
<g><path d="M997.85 484.98V442.26M997.85 513.46V556.18" stroke="#7e8183" stroke-width="2"/><polygon points="994.95,441.36 1000.75,441.36 998.85,443.76 996.85,443.76" fill="#55585a"/><polygon points="994.95,557.08 1000.75,557.08 998.85,554.68 996.85,554.68" fill="#55585a"/><rect x="989.7" y="484.98" width="16.3" height="28.48" rx="0.8" fill="#d3d5d5" stroke="#5a5d5f" stroke-width="1.8"/><path d="M989.7 499.22H1006" stroke="#585b5d" stroke-width="1.6"/><path d="M994 493.43L1001.7 500.73M994 500.73L1001.7 493.43" stroke="#111" stroke-width="1.12"/><circle cx="997.85" cy="406.66" r="2.0" fill="#bfc1c2" stroke="#686b6d" stroke-width="1.55"/><circle cx="997.85" cy="413.78" r="2.0" fill="#bfc1c2" stroke="#686b6d" stroke-width="1.55"/><circle cx="997.85" cy="420.9" r="2.0" fill="#bfc1c2" stroke="#686b6d" stroke-width="1.55"/><circle cx="997.85" cy="428.02" r="2.0" fill="#bfc1c2" stroke="#686b6d" stroke-width="1.55"/><circle cx="997.85" cy="435.14" r="2.0" fill="#bfc1c2" stroke="#686b6d" stroke-width="1.55"/><circle cx="997.85" cy="563.3" r="2.0" fill="#bfc1c2" stroke="#686b6d" stroke-width="1.55"/><path d="M1016.7 484.98V442.26M1016.7 513.46V556.18" stroke="#7e8183" stroke-width="2"/><polygon points="1013.8,441.36 1019.6,441.36 1017.7,443.76 1015.7,443.76" fill="#55585a"/><polygon points="1013.8,557.08 1019.6,557.08 1017.7,554.68 1015.7,554.68" fill="#55585a"/><rect x="1008.55" y="484.98" width="16.3" height="28.48" rx="0.8" fill="#d3d5d5" stroke="#5a5d5f" stroke-width="1.8"/><path d="M1008.55 499.22H1024.85" stroke="#585b5d" stroke-width="1.6"/><path d="M1012.85 494.15L1020.55 501.45M1012.85 501.45L1020.55 494.15" stroke="#111" stroke-width="1.12"/><circle cx="1016.7" cy="413.78" r="2.0" fill="#bfc1c2" stroke="#686b6d" stroke-width="1.55"/><circle cx="1016.7" cy="420.9" r="2.0" fill="#bfc1c2" stroke="#686b6d" stroke-width="1.55"/><circle cx="1016.7" cy="428.02" r="2.0" fill="#bfc1c2" stroke="#686b6d" stroke-width="1.55"/><circle cx="1016.7" cy="435.14" r="2.0" fill="#bfc1c2" stroke="#686b6d" stroke-width="1.55"/><circle cx="1016.7" cy="563.3" r="2.0" fill="#bfc1c2" stroke="#686b6d" stroke-width="1.55"/><path d="M1035.54 484.98V442.26M1035.54 513.46V556.18" stroke="#7e8183" stroke-width="2"/><polygon points="1032.64,441.36 1038.44,441.36 1036.54,443.76 1034.54,443.76" fill="#55585a"/><polygon points="1032.64,557.08 1038.44,557.08 1036.54,554.68 1034.54,554.68" fill="#55585a"/><rect x="1027.39" y="484.98" width="16.3" height="28.48" rx="0.8" fill="#d3d5d5" stroke="#5a5d5f" stroke-width="1.8"/><path d="M1027.39 506.34H1043.69" stroke="#585b5d" stroke-width="1.6"/><path d="M1031.69 497.42L1039.39 504.72M1031.69 504.72L1039.39 497.42" stroke="#111" stroke-width="1.12"/><circle cx="1035.54" cy="413.78" r="2.0" fill="#bfc1c2" stroke="#686b6d" stroke-width="1.55"/><circle cx="1035.54" cy="420.9" r="2.0" fill="#bfc1c2" stroke="#686b6d" stroke-width="1.55"/><circle cx="1035.54" cy="428.02" r="2.0" fill="#bfc1c2" stroke="#686b6d" stroke-width="1.55"/><circle cx="1035.54" cy="435.14" r="2.0" fill="#bfc1c2" stroke="#686b6d" stroke-width="1.55"/><path d="M1054.38 506.34V463.62M1054.38 534.82V577.54" stroke="#7e8183" stroke-width="2"/><polygon points="1051.48,462.72 1057.29,462.72 1055.38,465.12 1053.38,465.12" fill="#55585a"/><polygon points="1051.48,578.44 1057.29,578.44 1055.38,576.04 1053.38,576.04" fill="#55585a"/><rect x="1046.23" y="506.34" width="16.3" height="28.48" rx="0.8" fill="#7a7d7e" stroke="#5a5d5f" stroke-width="1.8"/><path d="M1046.23 520.58H1062.54" stroke="#3f4244" stroke-width="1.6"/><path d="M1050.54 517.21L1058.23 524.51M1050.54 524.51L1058.23 517.21" stroke="#111" stroke-width="1.12"/><circle cx="1054.38" cy="449.38" r="2.55" fill="#5a5d5f"/><circle cx="1054.38" cy="456.5" r="2.55" fill="#5a5d5f"/><circle cx="1054.38" cy="584.66" r="2.55" fill="#5a5d5f"/><path d="M1073.23 534.82V492.1M1073.23 563.3V591.78" stroke="#7e8183" stroke-width="2"/><polygon points="1070.33,491.2 1076.13,491.2 1074.23,493.6 1072.23,493.6" fill="#55585a"/><polygon points="1070.33,592.68 1076.13,592.68 1074.23,590.28 1072.23,590.28" fill="#55585a"/><rect x="1065.08" y="534.82" width="16.3" height="28.48" rx="0.8" fill="#ffffff" stroke="#5a5d5f" stroke-width="1.8"/><path d="M1065.08 549.06H1081.38" stroke="#585b5d" stroke-width="1.6"/><path d="M1069.38 544.41L1077.08 551.71M1069.38 551.71L1077.08 544.41" stroke="#111" stroke-width="1.12"/><circle cx="1073.23" cy="463.62" r="2.0" fill="#bfc1c2" stroke="#686b6d" stroke-width="1.55"/><circle cx="1073.23" cy="470.74" r="2.0" fill="#bfc1c2" stroke="#686b6d" stroke-width="1.55"/><circle cx="1073.23" cy="477.86" r="2.0" fill="#bfc1c2" stroke="#686b6d" stroke-width="1.55"/><circle cx="1073.23" cy="484.98" r="2.0" fill="#bfc1c2" stroke="#686b6d" stroke-width="1.55"/><path d="M1092.08 520.58V484.98M1092.08 549.06V584.66" stroke="#7e8183" stroke-width="2"/><polygon points="1089.17,484.08 1094.98,484.08 1093.08,486.48 1091.08,486.48" fill="#55585a"/><polygon points="1089.17,585.56 1094.98,585.56 1093.08,583.16 1091.08,583.16" fill="#55585a"/><rect x="1083.92" y="520.58" width="16.3" height="28.48" rx="0.8" fill="#ffffff" stroke="#5a5d5f" stroke-width="1.8"/><path d="M1083.92 534.82H1100.23" stroke="#585b5d" stroke-width="1.6"/><path d="M1088.23 529.03L1095.92 536.33M1088.23 536.33L1095.92 529.03" stroke="#111" stroke-width="1.12"/><circle cx="1092.08" cy="456.5" r="2.0" fill="#bfc1c2" stroke="#686b6d" stroke-width="1.55"/><circle cx="1092.08" cy="463.62" r="2.0" fill="#bfc1c2" stroke="#686b6d" stroke-width="1.55"/><circle cx="1092.08" cy="470.74" r="2.0" fill="#bfc1c2" stroke="#686b6d" stroke-width="1.55"/><circle cx="1092.08" cy="477.86" r="2.0" fill="#bfc1c2" stroke="#686b6d" stroke-width="1.55"/><circle cx="1092.08" cy="598.9" r="2.0" fill="#bfc1c2" stroke="#686b6d" stroke-width="1.55"/><path d="M1110.92 513.46V470.74M1110.92 541.94V584.66" stroke="#7e8183" stroke-width="2"/><polygon points="1108.02,469.84 1113.82,469.84 1111.92,472.24 1109.92,472.24" fill="#55585a"/><polygon points="1108.02,585.56 1113.82,585.56 1111.92,583.16 1109.92,583.16" fill="#55585a"/><rect x="1102.77" y="513.46" width="16.3" height="28.48" rx="0.8" fill="#7a7d7e" stroke="#5a5d5f" stroke-width="1.8"/><path d="M1102.77 527.7H1119.07" stroke="#3f4244" stroke-width="1.6"/><path d="M1107.07 525.12L1114.77 532.42M1107.07 532.42L1114.77 525.12" stroke="#111" stroke-width="1.12"/><circle cx="1110.92" cy="449.38" r="2.55" fill="#5a5d5f"/><circle cx="1110.92" cy="456.5" r="2.55" fill="#5a5d5f"/><circle cx="1110.92" cy="463.62" r="2.55" fill="#5a5d5f"/><circle cx="1110.92" cy="591.78" r="2.55" fill="#5a5d5f"/><path d="M1129.77 492.1V449.38M1129.77 520.58V563.3" stroke="#7e8183" stroke-width="2"/><polygon points="1126.87,448.48 1132.67,448.48 1130.77,450.88 1128.77,450.88" fill="#55585a"/><polygon points="1126.87,564.2 1132.67,564.2 1130.77,561.8 1128.77,561.8" fill="#55585a"/><rect x="1121.62" y="492.1" width="16.3" height="28.48" rx="0.8" fill="#7a7d7e" stroke="#5a5d5f" stroke-width="1.8"/><path d="M1121.62 506.34H1137.92" stroke="#3f4244" stroke-width="1.6"/><path d="M1125.92 504.4L1133.62 511.7M1125.92 511.7L1133.62 504.4" stroke="#111" stroke-width="1.12"/><circle cx="1129.77" cy="442.26" r="2.55" fill="#5a5d5f"/><circle cx="1129.77" cy="577.54" r="2.55" fill="#5a5d5f"/><path d="M1148.61 520.58V484.98M1148.61 549.06V584.66" stroke="#7e8183" stroke-width="2"/><polygon points="1145.71,484.08 1151.51,484.08 1149.61,486.48 1147.61,486.48" fill="#55585a"/><polygon points="1145.71,585.56 1151.51,585.56 1149.61,583.16 1147.61,583.16" fill="#55585a"/><rect x="1140.46" y="520.58" width="16.3" height="28.48" rx="0.8" fill="#ffffff" stroke="#5a5d5f" stroke-width="1.8"/><path d="M1140.46 534.82H1156.76" stroke="#585b5d" stroke-width="1.6"/><path d="M1144.76 529.03L1152.46 536.33M1144.76 536.33L1152.46 529.03" stroke="#111" stroke-width="1.12"/><circle cx="1148.61" cy="449.38" r="2.0" fill="#bfc1c2" stroke="#686b6d" stroke-width="1.55"/><circle cx="1148.61" cy="456.5" r="2.0" fill="#bfc1c2" stroke="#686b6d" stroke-width="1.55"/><circle cx="1148.61" cy="463.62" r="2.0" fill="#bfc1c2" stroke="#686b6d" stroke-width="1.55"/><circle cx="1148.61" cy="470.74" r="2.0" fill="#bfc1c2" stroke="#686b6d" stroke-width="1.55"/><circle cx="1148.61" cy="477.86" r="2.0" fill="#bfc1c2" stroke="#686b6d" stroke-width="1.55"/><path d="M1167.45 520.58V484.98M1167.45 549.06V584.66" stroke="#7e8183" stroke-width="2"/><polygon points="1164.55,484.08 1170.36,484.08 1168.45,486.48 1166.45,486.48" fill="#55585a"/><polygon points="1164.55,585.56 1170.36,585.56 1168.45,583.16 1166.45,583.16" fill="#55585a"/><rect x="1159.3" y="520.58" width="16.3" height="28.48" rx="0.8" fill="#ffffff" stroke="#5a5d5f" stroke-width="1.8"/><path d="M1159.3 534.82H1175.61" stroke="#585b5d" stroke-width="1.6"/><path d="M1163.61 532.59L1171.3 539.89M1163.61 539.89L1171.3 532.59" stroke="#111" stroke-width="1.12"/><circle cx="1167.45" cy="456.5" r="2.0" fill="#bfc1c2" stroke="#686b6d" stroke-width="1.55"/><circle cx="1167.45" cy="463.62" r="2.0" fill="#bfc1c2" stroke="#686b6d" stroke-width="1.55"/><circle cx="1167.45" cy="477.86" r="2.0" fill="#bfc1c2" stroke="#686b6d" stroke-width="1.55"/></g>
<path d="M322 836.7H697M322 815.26H697M322 793.82H697M322 772.38H697M322 750.94H697M322 729.5H697M322 708.06H697M322 686.62H697M322 665.18H697M322 643.74H697M322 622.3H697M697 836.7H986M697 815.26H986M697 793.82H986M697 772.38H986M697 750.94H986M697 729.5H986M697 708.06H986M697 686.62H986M697 665.18H986M697 643.74H986M697 622.3H986M986 836.7H1190M986 815.26H1190M986 793.82H1190M986 772.38H1190M986 750.94H1190M986 729.5H1190M986 708.06H1190M986 686.62H1190M986 665.18H1190M986 643.74H1190M986 622.3H1190" stroke="#e3e3e3" stroke-width="1.9" fill="none"/>
<path d="M322 621.4V837.6" stroke="#e3e3e3" stroke-width="1.9" fill="none"/>
<text class="sans" x="314.3" y="841" font-size="10.6" text-anchor="end" fill="#777" stroke="#777" stroke-width="0.4">0</text>
<text class="sans" x="314.3" y="819.56" font-size="10.6" text-anchor="end" fill="#777" stroke="#777" stroke-width="0.4">0.05</text>
<text class="sans" x="314.3" y="798.12" font-size="10.6" text-anchor="end" fill="#777" stroke="#777" stroke-width="0.4">0.1</text>
<text class="sans" x="314.3" y="776.68" font-size="10.6" text-anchor="end" fill="#777" stroke="#777" stroke-width="0.4">0.15</text>
<text class="sans" x="314.3" y="755.24" font-size="10.6" text-anchor="end" fill="#777" stroke="#777" stroke-width="0.4">0.2</text>
<text class="sans" x="314.3" y="733.8" font-size="10.6" text-anchor="end" fill="#777" stroke="#777" stroke-width="0.4">0.25</text>
<text class="sans" x="314.3" y="712.36" font-size="10.6" text-anchor="end" fill="#777" stroke="#777" stroke-width="0.4">0.3</text>
<text class="sans" x="314.3" y="690.92" font-size="10.6" text-anchor="end" fill="#777" stroke="#777" stroke-width="0.4">0.35</text>
<text class="sans" x="314.3" y="669.48" font-size="10.6" text-anchor="end" fill="#777" stroke="#777" stroke-width="0.4">0.4</text>
<text class="sans" x="314.3" y="648.04" font-size="10.6" text-anchor="end" fill="#777" stroke="#777" stroke-width="0.4">0.45</text>
<text class="sans" x="314.3" y="626.6" font-size="10.6" text-anchor="end" fill="#777" stroke="#777" stroke-width="0.4">0.5</text>
<text class="sans" transform="translate(283.4 729.5) rotate(-90)" font-size="10.2" text-anchor="middle" fill="#707070" stroke="#707070" stroke-width="0.45">Mortality on ICU</text>
<g><path d="M424.22 678.97V794.32" stroke="#fff" stroke-width="6.4"/><rect x="413.57" y="720.65" width="21.3" height="31.99" fill="#fff"/><circle cx="424.22" cy="658.03" r="5.2" fill="#fff"/><circle cx="424.22" cy="665.18" r="5.2" fill="#fff"/><circle cx="424.22" cy="672.33" r="5.2" fill="#fff"/><circle cx="424.22" cy="800.97" r="5.2" fill="#fff"/><path d="M443.19 678.97V794.32" stroke="#fff" stroke-width="6.4"/><rect x="432.54" y="720.65" width="21.3" height="31.99" fill="#fff"/><circle cx="443.19" cy="643.74" r="5.2" fill="#fff"/><circle cx="443.19" cy="650.89" r="5.2" fill="#fff"/><circle cx="443.19" cy="665.18" r="5.2" fill="#fff"/><circle cx="443.19" cy="672.33" r="5.2" fill="#fff"/><circle cx="443.19" cy="800.97" r="5.2" fill="#fff"/><circle cx="443.19" cy="808.11" r="5.2" fill="#fff"/><path d="M462.17 678.97V794.32" stroke="#fff" stroke-width="6.4"/><rect x="451.52" y="720.65" width="21.3" height="31.99" fill="#fff"/><circle cx="462.17" cy="643.74" r="5.2" fill="#fff"/><circle cx="462.17" cy="672.33" r="5.2" fill="#fff"/><circle cx="462.17" cy="800.97" r="5.2" fill="#fff"/><path d="M481.14 700.41V801.47" stroke="#fff" stroke-width="6.4"/><rect x="470.49" y="734.95" width="21.3" height="31.99" fill="#fff"/><circle cx="481.14" cy="665.18" r="5.2" fill="#fff"/><circle cx="481.14" cy="672.33" r="5.2" fill="#fff"/><circle cx="481.14" cy="686.62" r="5.2" fill="#fff"/><circle cx="481.14" cy="693.77" r="5.2" fill="#fff"/><circle cx="481.14" cy="808.11" r="5.2" fill="#fff"/><circle cx="481.14" cy="815.26" r="5.2" fill="#fff"/><path d="M500.11 721.85V822.91" stroke="#fff" stroke-width="6.4"/><rect x="489.46" y="756.39" width="21.3" height="31.99" fill="#fff"/><circle cx="500.11" cy="700.91" r="5.2" fill="#fff"/><circle cx="500.11" cy="708.06" r="5.2" fill="#fff"/><circle cx="500.11" cy="715.21" r="5.2" fill="#fff"/><circle cx="500.11" cy="836.7" r="5.2" fill="#fff"/><path d="M519.09 700.41V815.76" stroke="#fff" stroke-width="6.4"/><rect x="508.44" y="742.09" width="21.3" height="31.99" fill="#fff"/><circle cx="519.09" cy="686.62" r="5.2" fill="#fff"/><circle cx="519.09" cy="693.77" r="5.2" fill="#fff"/><path d="M538.06 700.41V801.47" stroke="#fff" stroke-width="6.4"/><rect x="527.41" y="734.95" width="21.3" height="31.99" fill="#fff"/><circle cx="538.06" cy="686.62" r="5.2" fill="#fff"/><circle cx="538.06" cy="693.77" r="5.2" fill="#fff"/><circle cx="538.06" cy="808.11" r="5.2" fill="#fff"/><circle cx="538.06" cy="815.26" r="5.2" fill="#fff"/><path d="M557.03 686.12V801.47" stroke="#fff" stroke-width="6.4"/><rect x="546.38" y="727.8" width="21.3" height="31.99" fill="#fff"/><circle cx="557.03" cy="665.18" r="5.2" fill="#fff"/><circle cx="557.03" cy="679.47" r="5.2" fill="#fff"/><path d="M576 700.41V815.76" stroke="#fff" stroke-width="6.4"/><rect x="565.35" y="742.09" width="21.3" height="31.99" fill="#fff"/><circle cx="576" cy="679.47" r="5.2" fill="#fff"/><circle cx="576" cy="693.77" r="5.2" fill="#fff"/><circle cx="576" cy="822.41" r="5.2" fill="#fff"/><path d="M594.98 721.85V801.47" stroke="#fff" stroke-width="6.4"/><rect x="584.33" y="749.24" width="21.3" height="24.84" fill="#fff"/><circle cx="594.98" cy="672.33" r="5.2" fill="#fff"/><circle cx="594.98" cy="693.77" r="5.2" fill="#fff"/><circle cx="594.98" cy="700.91" r="5.2" fill="#fff"/><circle cx="594.98" cy="708.06" r="5.2" fill="#fff"/><circle cx="594.98" cy="715.21" r="5.2" fill="#fff"/><circle cx="594.98" cy="808.11" r="5.2" fill="#fff"/><circle cx="594.98" cy="815.26" r="5.2" fill="#fff"/><circle cx="594.98" cy="822.41" r="5.2" fill="#fff"/><circle cx="594.98" cy="829.55" r="5.2" fill="#fff"/></g>
<g><path d="M424.22 722.35V679.47M424.22 750.94V793.82" stroke="#7e8183" stroke-width="2"/><polygon points="421.32,678.57 427.12,678.57 425.22,680.97 423.22,680.97" fill="#55585a"/><polygon points="421.32,794.72 427.12,794.72 425.22,792.32 423.22,792.32" fill="#55585a"/><rect x="416.07" y="722.35" width="16.3" height="28.59" rx="0.8" fill="#d3d5d5" stroke="#5a5d5f" stroke-width="1.8"/><path d="M416.07 736.65H432.37" stroke="#585b5d" stroke-width="1.6"/><path d="M420.37 731.28L428.07 738.58M420.37 738.58L428.07 731.28" stroke="#111" stroke-width="1.12"/><circle cx="424.22" cy="658.03" r="2.0" fill="#bfc1c2" stroke="#686b6d" stroke-width="1.55"/><circle cx="424.22" cy="665.18" r="2.0" fill="#bfc1c2" stroke="#686b6d" stroke-width="1.55"/><circle cx="424.22" cy="672.33" r="2.0" fill="#bfc1c2" stroke="#686b6d" stroke-width="1.55"/><circle cx="424.22" cy="800.97" r="2.0" fill="#bfc1c2" stroke="#686b6d" stroke-width="1.55"/><path d="M443.19 722.35V679.47M443.19 750.94V793.82" stroke="#7e8183" stroke-width="2"/><polygon points="440.29,678.57 446.09,678.57 444.19,680.97 442.19,680.97" fill="#55585a"/><polygon points="440.29,794.72 446.09,794.72 444.19,792.32 442.19,792.32" fill="#55585a"/><rect x="435.04" y="722.35" width="16.3" height="28.59" rx="0.8" fill="#d3d5d5" stroke="#5a5d5f" stroke-width="1.8"/><path d="M435.04 736.65H451.34" stroke="#585b5d" stroke-width="1.6"/><path d="M439.34 731.85L447.04 739.15M439.34 739.15L447.04 731.85" stroke="#111" stroke-width="1.12"/><circle cx="443.19" cy="643.74" r="2.0" fill="#bfc1c2" stroke="#686b6d" stroke-width="1.55"/><circle cx="443.19" cy="650.89" r="2.0" fill="#bfc1c2" stroke="#686b6d" stroke-width="1.55"/><circle cx="443.19" cy="665.18" r="2.0" fill="#bfc1c2" stroke="#686b6d" stroke-width="1.55"/><circle cx="443.19" cy="672.33" r="2.0" fill="#bfc1c2" stroke="#686b6d" stroke-width="1.55"/><circle cx="443.19" cy="800.97" r="2.0" fill="#bfc1c2" stroke="#686b6d" stroke-width="1.55"/><circle cx="443.19" cy="808.11" r="2.0" fill="#bfc1c2" stroke="#686b6d" stroke-width="1.55"/><path d="M462.17 722.35V679.47M462.17 750.94V793.82" stroke="#7e8183" stroke-width="2"/><polygon points="459.27,678.57 465.07,678.57 463.17,680.97 461.17,680.97" fill="#55585a"/><polygon points="459.27,794.72 465.07,794.72 463.17,792.32 461.17,792.32" fill="#55585a"/><rect x="454.02" y="722.35" width="16.3" height="28.59" rx="0.8" fill="#d3d5d5" stroke="#5a5d5f" stroke-width="1.8"/><path d="M454.02 736.65H470.32" stroke="#585b5d" stroke-width="1.6"/><path d="M458.32 731.85L466.02 739.15M458.32 739.15L466.02 731.85" stroke="#111" stroke-width="1.12"/><circle cx="462.17" cy="643.74" r="2.0" fill="#bfc1c2" stroke="#686b6d" stroke-width="1.55"/><circle cx="462.17" cy="672.33" r="2.0" fill="#bfc1c2" stroke="#686b6d" stroke-width="1.55"/><circle cx="462.17" cy="800.97" r="2.0" fill="#bfc1c2" stroke="#686b6d" stroke-width="1.55"/><path d="M481.14 736.65V700.91M481.14 765.23V800.97" stroke="#7e8183" stroke-width="2"/><polygon points="478.24,700.01 484.04,700.01 482.14,702.41 480.14,702.41" fill="#55585a"/><polygon points="478.24,801.87 484.04,801.87 482.14,799.47 480.14,799.47" fill="#55585a"/><rect x="472.99" y="736.65" width="16.3" height="28.59" rx="0.8" fill="#7a7d7e" stroke="#5a5d5f" stroke-width="1.8"/><path d="M472.99 750.94H489.29" stroke="#3f4244" stroke-width="1.6"/><path d="M477.29 745.36L484.99 752.66M477.29 752.66L484.99 745.36" stroke="#111" stroke-width="1.12"/><circle cx="481.14" cy="665.18" r="2.55" fill="#5a5d5f"/><circle cx="481.14" cy="672.33" r="2.55" fill="#5a5d5f"/><circle cx="481.14" cy="686.62" r="2.55" fill="#5a5d5f"/><circle cx="481.14" cy="693.77" r="2.55" fill="#5a5d5f"/><circle cx="481.14" cy="808.11" r="2.55" fill="#5a5d5f"/><circle cx="481.14" cy="815.26" r="2.55" fill="#5a5d5f"/><path d="M500.11 758.09V722.35M500.11 786.67V822.41" stroke="#7e8183" stroke-width="2"/><polygon points="497.21,721.45 503.01,721.45 501.11,723.85 499.11,723.85" fill="#55585a"/><polygon points="497.21,823.31 503.01,823.31 501.11,820.91 499.11,820.91" fill="#55585a"/><rect x="491.96" y="758.09" width="16.3" height="28.59" rx="0.8" fill="#ffffff" stroke="#5a5d5f" stroke-width="1.8"/><path d="M491.96 772.38H508.26" stroke="#585b5d" stroke-width="1.6"/><path d="M496.26 766.94L503.96 774.24M496.26 774.24L503.96 766.94" stroke="#111" stroke-width="1.12"/><circle cx="500.11" cy="700.91" r="2.0" fill="#bfc1c2" stroke="#686b6d" stroke-width="1.55"/><circle cx="500.11" cy="708.06" r="2.0" fill="#bfc1c2" stroke="#686b6d" stroke-width="1.55"/><circle cx="500.11" cy="715.21" r="2.0" fill="#bfc1c2" stroke="#686b6d" stroke-width="1.55"/><circle cx="500.11" cy="836.7" r="2.0" fill="#bfc1c2" stroke="#686b6d" stroke-width="1.55"/><path d="M519.09 743.79V700.91M519.09 772.38V815.26" stroke="#7e8183" stroke-width="2"/><polygon points="516.19,700.01 521.99,700.01 520.09,702.41 518.09,702.41" fill="#55585a"/><polygon points="516.19,816.16 521.99,816.16 520.09,813.76 518.09,813.76" fill="#55585a"/><rect x="510.94" y="743.79" width="16.3" height="28.59" rx="0.8" fill="#ffffff" stroke="#5a5d5f" stroke-width="1.8"/><path d="M510.94 758.09H527.24" stroke="#585b5d" stroke-width="1.6"/><path d="M515.24 754.44L522.94 761.74M515.24 761.74L522.94 754.44" stroke="#111" stroke-width="1.12"/><circle cx="519.09" cy="686.62" r="2.0" fill="#bfc1c2" stroke="#686b6d" stroke-width="1.55"/><circle cx="519.09" cy="693.77" r="2.0" fill="#bfc1c2" stroke="#686b6d" stroke-width="1.55"/><path d="M538.06 736.65V700.91M538.06 765.23V800.97" stroke="#7e8183" stroke-width="2"/><polygon points="535.16,700.01 540.96,700.01 539.06,702.41 537.06,702.41" fill="#55585a"/><polygon points="535.16,801.87 540.96,801.87 539.06,799.47 537.06,799.47" fill="#55585a"/><rect x="529.91" y="736.65" width="16.3" height="28.59" rx="0.8" fill="#7a7d7e" stroke="#5a5d5f" stroke-width="1.8"/><path d="M529.91 750.94H546.21" stroke="#3f4244" stroke-width="1.6"/><path d="M534.21 748.5L541.91 755.8M534.21 755.8L541.91 748.5" stroke="#111" stroke-width="1.12"/><circle cx="538.06" cy="686.62" r="2.55" fill="#5a5d5f"/><circle cx="538.06" cy="693.77" r="2.55" fill="#5a5d5f"/><circle cx="538.06" cy="808.11" r="2.55" fill="#5a5d5f"/><circle cx="538.06" cy="815.26" r="2.55" fill="#5a5d5f"/><path d="M557.03 729.5V686.62M557.03 758.09V800.97" stroke="#7e8183" stroke-width="2"/><polygon points="554.13,685.72 559.93,685.72 558.03,688.12 556.03,688.12" fill="#55585a"/><polygon points="554.13,801.87 559.93,801.87 558.03,799.47 556.03,799.47" fill="#55585a"/><rect x="548.88" y="729.5" width="16.3" height="28.59" rx="0.8" fill="#7a7d7e" stroke="#5a5d5f" stroke-width="1.8"/><path d="M548.88 743.79H565.18" stroke="#3f4244" stroke-width="1.6"/><path d="M553.18 739.71L560.88 747.01M553.18 747.01L560.88 739.71" stroke="#111" stroke-width="1.12"/><circle cx="557.03" cy="665.18" r="2.55" fill="#5a5d5f"/><circle cx="557.03" cy="679.47" r="2.55" fill="#5a5d5f"/><path d="M576 743.79V700.91M576 772.38V815.26" stroke="#7e8183" stroke-width="2"/><polygon points="573.1,700.01 578.9,700.01 577,702.41 575,702.41" fill="#55585a"/><polygon points="573.1,816.16 578.9,816.16 577,813.76 575,813.76" fill="#55585a"/><rect x="567.85" y="743.79" width="16.3" height="28.59" rx="0.8" fill="#ffffff" stroke="#5a5d5f" stroke-width="1.8"/><path d="M567.85 758.09H584.15" stroke="#585b5d" stroke-width="1.6"/><path d="M572.15 756.37L579.85 763.67M572.15 763.67L579.85 756.37" stroke="#111" stroke-width="1.12"/><circle cx="576" cy="679.47" r="2.0" fill="#bfc1c2" stroke="#686b6d" stroke-width="1.55"/><circle cx="576" cy="693.77" r="2.0" fill="#bfc1c2" stroke="#686b6d" stroke-width="1.55"/><circle cx="576" cy="822.41" r="2.0" fill="#bfc1c2" stroke="#686b6d" stroke-width="1.55"/><path d="M594.98 750.94V722.35M594.98 772.38V800.97" stroke="#7e8183" stroke-width="2"/><polygon points="592.08,721.45 597.88,721.45 595.98,723.85 593.98,723.85" fill="#55585a"/><polygon points="592.08,801.87 597.88,801.87 595.98,799.47 593.98,799.47" fill="#55585a"/><rect x="586.83" y="750.94" width="16.3" height="21.44" rx="0.8" fill="#ffffff" stroke="#5a5d5f" stroke-width="1.8"/><path d="M586.83 765.23H603.13" stroke="#585b5d" stroke-width="1.6"/><path d="M591.13 757.65L598.83 764.95M591.13 764.95L598.83 757.65" stroke="#111" stroke-width="1.12"/><circle cx="594.98" cy="672.33" r="2.0" fill="#bfc1c2" stroke="#686b6d" stroke-width="1.55"/><circle cx="594.98" cy="693.77" r="2.0" fill="#bfc1c2" stroke="#686b6d" stroke-width="1.55"/><circle cx="594.98" cy="700.91" r="2.0" fill="#bfc1c2" stroke="#686b6d" stroke-width="1.55"/><circle cx="594.98" cy="708.06" r="2.0" fill="#bfc1c2" stroke="#686b6d" stroke-width="1.55"/><circle cx="594.98" cy="715.21" r="2.0" fill="#bfc1c2" stroke="#686b6d" stroke-width="1.55"/><circle cx="594.98" cy="808.11" r="2.0" fill="#bfc1c2" stroke="#686b6d" stroke-width="1.55"/><circle cx="594.98" cy="815.26" r="2.0" fill="#bfc1c2" stroke="#686b6d" stroke-width="1.55"/><circle cx="594.98" cy="822.41" r="2.0" fill="#bfc1c2" stroke="#686b6d" stroke-width="1.55"/><circle cx="594.98" cy="829.55" r="2.0" fill="#bfc1c2" stroke="#686b6d" stroke-width="1.55"/></g>
<g><path d="M711.19 678.97V794.32" stroke="#fff" stroke-width="6.4"/><rect x="700.54" y="720.65" width="21.3" height="31.99" fill="#fff"/><circle cx="711.19" cy="658.03" r="5.2" fill="#fff"/><circle cx="711.19" cy="665.18" r="5.2" fill="#fff"/><circle cx="711.19" cy="672.33" r="5.2" fill="#fff"/><circle cx="711.19" cy="800.97" r="5.2" fill="#fff"/><path d="M730.17 678.97V794.32" stroke="#fff" stroke-width="6.4"/><rect x="719.52" y="720.65" width="21.3" height="31.99" fill="#fff"/><circle cx="730.17" cy="650.89" r="5.2" fill="#fff"/><circle cx="730.17" cy="658.03" r="5.2" fill="#fff"/><circle cx="730.17" cy="665.18" r="5.2" fill="#fff"/><circle cx="730.17" cy="672.33" r="5.2" fill="#fff"/><circle cx="730.17" cy="800.97" r="5.2" fill="#fff"/><path d="M749.16 671.83V808.61" stroke="#fff" stroke-width="6.4"/><rect x="738.51" y="720.65" width="21.3" height="39.13" fill="#fff"/><circle cx="749.16" cy="822.41" r="5.2" fill="#fff"/><path d="M768.14 700.41V815.76" stroke="#fff" stroke-width="6.4"/><rect x="757.49" y="742.09" width="21.3" height="31.99" fill="#fff"/><circle cx="768.14" cy="672.33" r="5.2" fill="#fff"/><circle cx="768.14" cy="686.62" r="5.2" fill="#fff"/><circle cx="768.14" cy="693.77" r="5.2" fill="#fff"/><path d="M787.12 750.44V830.05" stroke="#fff" stroke-width="6.4"/><rect x="776.47" y="777.83" width="21.3" height="24.84" fill="#fff"/><circle cx="787.12" cy="722.35" r="5.2" fill="#fff"/><circle cx="787.12" cy="729.5" r="5.2" fill="#fff"/><circle cx="787.12" cy="736.65" r="5.2" fill="#fff"/><circle cx="787.12" cy="743.79" r="5.2" fill="#fff"/><circle cx="787.12" cy="836.7" r="5.2" fill="#fff"/><path d="M806.11 721.85V815.76" stroke="#fff" stroke-width="6.4"/><rect x="795.46" y="756.39" width="21.3" height="31.99" fill="#fff"/><circle cx="806.11" cy="693.77" r="5.2" fill="#fff"/><circle cx="806.11" cy="700.91" r="5.2" fill="#fff"/><circle cx="806.11" cy="715.21" r="5.2" fill="#fff"/><circle cx="806.11" cy="829.55" r="5.2" fill="#fff"/><path d="M825.09 707.56V815.76" stroke="#fff" stroke-width="6.4"/><rect x="814.44" y="749.24" width="21.3" height="31.99" fill="#fff"/><circle cx="825.09" cy="700.91" r="5.2" fill="#fff"/><path d="M844.07 678.97V815.76" stroke="#fff" stroke-width="6.4"/><rect x="833.42" y="727.8" width="21.3" height="39.13" fill="#fff"/><circle cx="844.07" cy="822.41" r="5.2" fill="#fff"/><path d="M863.05 721.85V837.2" stroke="#fff" stroke-width="6.4"/><rect x="852.4" y="763.53" width="21.3" height="31.99" fill="#fff"/><circle cx="863.05" cy="700.91" r="5.2" fill="#fff"/><path d="M882.04 743.29V822.91" stroke="#fff" stroke-width="6.4"/><rect x="871.39" y="770.68" width="21.3" height="24.84" fill="#fff"/><circle cx="882.04" cy="693.77" r="5.2" fill="#fff"/><circle cx="882.04" cy="708.06" r="5.2" fill="#fff"/><circle cx="882.04" cy="715.21" r="5.2" fill="#fff"/><circle cx="882.04" cy="722.35" r="5.2" fill="#fff"/><circle cx="882.04" cy="729.5" r="5.2" fill="#fff"/><circle cx="882.04" cy="736.65" r="5.2" fill="#fff"/><circle cx="882.04" cy="829.55" r="5.2" fill="#fff"/></g>
<g><path d="M711.19 722.35V679.47M711.19 750.94V793.82" stroke="#7e8183" stroke-width="2"/><polygon points="708.29,678.57 714.09,678.57 712.19,680.97 710.19,680.97" fill="#55585a"/><polygon points="708.29,794.72 714.09,794.72 712.19,792.32 710.19,792.32" fill="#55585a"/><rect x="703.04" y="722.35" width="16.3" height="28.59" rx="0.8" fill="#d3d5d5" stroke="#5a5d5f" stroke-width="1.8"/><path d="M703.04 736.65H719.34" stroke="#585b5d" stroke-width="1.6"/><path d="M707.34 731.28L715.04 738.58M707.34 738.58L715.04 731.28" stroke="#111" stroke-width="1.12"/><circle cx="711.19" cy="658.03" r="2.0" fill="#bfc1c2" stroke="#686b6d" stroke-width="1.55"/><circle cx="711.19" cy="665.18" r="2.0" fill="#bfc1c2" stroke="#686b6d" stroke-width="1.55"/><circle cx="711.19" cy="672.33" r="2.0" fill="#bfc1c2" stroke="#686b6d" stroke-width="1.55"/><circle cx="711.19" cy="800.97" r="2.0" fill="#bfc1c2" stroke="#686b6d" stroke-width="1.55"/><path d="M730.17 722.35V679.47M730.17 750.94V793.82" stroke="#7e8183" stroke-width="2"/><polygon points="727.27,678.57 733.07,678.57 731.17,680.97 729.17,680.97" fill="#55585a"/><polygon points="727.27,794.72 733.07,794.72 731.17,792.32 729.17,792.32" fill="#55585a"/><rect x="722.02" y="722.35" width="16.3" height="28.59" rx="0.8" fill="#d3d5d5" stroke="#5a5d5f" stroke-width="1.8"/><path d="M722.02 736.65H738.32" stroke="#585b5d" stroke-width="1.6"/><path d="M726.32 731.85L734.02 739.15M726.32 739.15L734.02 731.85" stroke="#111" stroke-width="1.12"/><circle cx="730.17" cy="650.89" r="2.0" fill="#bfc1c2" stroke="#686b6d" stroke-width="1.55"/><circle cx="730.17" cy="658.03" r="2.0" fill="#bfc1c2" stroke="#686b6d" stroke-width="1.55"/><circle cx="730.17" cy="665.18" r="2.0" fill="#bfc1c2" stroke="#686b6d" stroke-width="1.55"/><circle cx="730.17" cy="672.33" r="2.0" fill="#bfc1c2" stroke="#686b6d" stroke-width="1.55"/><circle cx="730.17" cy="800.97" r="2.0" fill="#bfc1c2" stroke="#686b6d" stroke-width="1.55"/><path d="M749.16 722.35V672.33M749.16 758.09V808.11" stroke="#7e8183" stroke-width="2"/><polygon points="746.26,671.43 752.06,671.43 750.16,673.83 748.16,673.83" fill="#55585a"/><polygon points="746.26,809.01 752.06,809.01 750.16,806.61 748.16,806.61" fill="#55585a"/><rect x="741.01" y="722.35" width="16.3" height="35.73" rx="0.8" fill="#d3d5d5" stroke="#5a5d5f" stroke-width="1.8"/><path d="M741.01 736.65H757.31" stroke="#585b5d" stroke-width="1.6"/><path d="M745.31 735.36L753.01 742.66M745.31 742.66L753.01 735.36" stroke="#111" stroke-width="1.12"/><circle cx="749.16" cy="822.41" r="2.0" fill="#bfc1c2" stroke="#686b6d" stroke-width="1.55"/><path d="M768.14 743.79V700.91M768.14 772.38V815.26" stroke="#7e8183" stroke-width="2"/><polygon points="765.24,700.01 771.04,700.01 769.14,702.41 767.14,702.41" fill="#55585a"/><polygon points="765.24,816.16 771.04,816.16 769.14,813.76 767.14,813.76" fill="#55585a"/><rect x="759.99" y="743.79" width="16.3" height="28.59" rx="0.8" fill="#7a7d7e" stroke="#5a5d5f" stroke-width="1.8"/><path d="M759.99 758.09H776.29" stroke="#3f4244" stroke-width="1.6"/><path d="M764.29 755.51L771.99 762.81M764.29 762.81L771.99 755.51" stroke="#111" stroke-width="1.12"/><circle cx="768.14" cy="672.33" r="2.55" fill="#5a5d5f"/><circle cx="768.14" cy="686.62" r="2.55" fill="#5a5d5f"/><circle cx="768.14" cy="693.77" r="2.55" fill="#5a5d5f"/><path d="M787.12 779.53V750.94M787.12 800.97V829.55" stroke="#7e8183" stroke-width="2"/><polygon points="784.22,750.04 790.02,750.04 788.12,752.44 786.12,752.44" fill="#55585a"/><polygon points="784.22,830.45 790.02,830.45 788.12,828.05 786.12,828.05" fill="#55585a"/><rect x="778.97" y="779.53" width="16.3" height="21.44" rx="0.8" fill="#ffffff" stroke="#5a5d5f" stroke-width="1.8"/><path d="M778.97 786.67H795.27" stroke="#585b5d" stroke-width="1.6"/><path d="M783.27 785.02L790.97 792.32M783.27 792.32L790.97 785.02" stroke="#111" stroke-width="1.12"/><circle cx="787.12" cy="722.35" r="2.0" fill="#bfc1c2" stroke="#686b6d" stroke-width="1.55"/><circle cx="787.12" cy="729.5" r="2.0" fill="#bfc1c2" stroke="#686b6d" stroke-width="1.55"/><circle cx="787.12" cy="736.65" r="2.0" fill="#bfc1c2" stroke="#686b6d" stroke-width="1.55"/><circle cx="787.12" cy="743.79" r="2.0" fill="#bfc1c2" stroke="#686b6d" stroke-width="1.55"/><circle cx="787.12" cy="836.7" r="2.0" fill="#bfc1c2" stroke="#686b6d" stroke-width="1.55"/><path d="M806.11 758.09V722.35M806.11 786.67V815.26" stroke="#7e8183" stroke-width="2"/><polygon points="803.21,721.45 809,721.45 807.11,723.85 805.11,723.85" fill="#55585a"/><polygon points="803.21,816.16 809,816.16 807.11,813.76 805.11,813.76" fill="#55585a"/><rect x="797.96" y="758.09" width="16.3" height="28.59" rx="0.8" fill="#ffffff" stroke="#5a5d5f" stroke-width="1.8"/><path d="M797.96 772.38H814.25" stroke="#585b5d" stroke-width="1.6"/><path d="M802.25 769.44L809.96 776.74M802.25 776.74L809.96 769.44" stroke="#111" stroke-width="1.12"/><circle cx="806.11" cy="693.77" r="2.0" fill="#bfc1c2" stroke="#686b6d" stroke-width="1.55"/><circle cx="806.11" cy="700.91" r="2.0" fill="#bfc1c2" stroke="#686b6d" stroke-width="1.55"/><circle cx="806.11" cy="715.21" r="2.0" fill="#bfc1c2" stroke="#686b6d" stroke-width="1.55"/><circle cx="806.11" cy="829.55" r="2.0" fill="#bfc1c2" stroke="#686b6d" stroke-width="1.55"/><path d="M825.09 750.94V708.06M825.09 779.53V815.26" stroke="#7e8183" stroke-width="2"/><polygon points="822.19,707.16 827.99,707.16 826.09,709.56 824.09,709.56" fill="#55585a"/><polygon points="822.19,816.16 827.99,816.16 826.09,813.76 824.09,813.76" fill="#55585a"/><rect x="816.94" y="750.94" width="16.3" height="28.59" rx="0.8" fill="#7a7d7e" stroke="#5a5d5f" stroke-width="1.8"/><path d="M816.94 765.23H833.24" stroke="#3f4244" stroke-width="1.6"/><path d="M821.24 762.3L828.94 769.6M821.24 769.6L828.94 762.3" stroke="#111" stroke-width="1.12"/><circle cx="825.09" cy="700.91" r="2.55" fill="#5a5d5f"/><path d="M844.07 729.5V679.47M844.07 765.23V815.26" stroke="#7e8183" stroke-width="2"/><polygon points="841.17,678.57 846.97,678.57 845.07,680.97 843.07,680.97" fill="#55585a"/><polygon points="841.17,816.16 846.97,816.16 845.07,813.76 843.07,813.76" fill="#55585a"/><rect x="835.92" y="729.5" width="16.3" height="35.73" rx="0.8" fill="#7a7d7e" stroke="#5a5d5f" stroke-width="1.8"/><path d="M835.92 750.94H852.22" stroke="#3f4244" stroke-width="1.6"/><path d="M840.22 743.22L847.92 750.52M840.22 750.52L847.92 743.22" stroke="#111" stroke-width="1.12"/><circle cx="844.07" cy="822.41" r="2.55" fill="#5a5d5f"/><path d="M863.05 765.23V722.35M863.05 793.82V836.7" stroke="#7e8183" stroke-width="2"/><polygon points="860.15,721.45 865.95,721.45 864.05,723.85 862.05,723.85" fill="#55585a"/><polygon points="860.15,837.6 865.95,837.6 864.05,835.2 862.05,835.2" fill="#55585a"/><rect x="854.9" y="765.23" width="16.3" height="28.59" rx="0.8" fill="#ffffff" stroke="#5a5d5f" stroke-width="1.8"/><path d="M854.9 779.53H871.2" stroke="#585b5d" stroke-width="1.6"/><path d="M859.2 774.45L866.9 781.75M859.2 781.75L866.9 774.45" stroke="#111" stroke-width="1.12"/><circle cx="863.05" cy="700.91" r="2.0" fill="#bfc1c2" stroke="#686b6d" stroke-width="1.55"/><path d="M882.04 772.38V743.79M882.04 793.82V822.41" stroke="#7e8183" stroke-width="2"/><polygon points="879.14,742.89 884.94,742.89 883.04,745.29 881.04,745.29" fill="#55585a"/><polygon points="879.14,823.31 884.94,823.31 883.04,820.91 881.04,820.91" fill="#55585a"/><rect x="873.89" y="772.38" width="16.3" height="21.44" rx="0.8" fill="#ffffff" stroke="#5a5d5f" stroke-width="1.8"/><path d="M873.89 779.53H890.19" stroke="#585b5d" stroke-width="1.6"/><path d="M878.19 776.95L885.89 784.25M878.19 784.25L885.89 776.95" stroke="#111" stroke-width="1.12"/><circle cx="882.04" cy="693.77" r="2.0" fill="#bfc1c2" stroke="#686b6d" stroke-width="1.55"/><circle cx="882.04" cy="708.06" r="2.0" fill="#bfc1c2" stroke="#686b6d" stroke-width="1.55"/><circle cx="882.04" cy="715.21" r="2.0" fill="#bfc1c2" stroke="#686b6d" stroke-width="1.55"/><circle cx="882.04" cy="722.35" r="2.0" fill="#bfc1c2" stroke="#686b6d" stroke-width="1.55"/><circle cx="882.04" cy="729.5" r="2.0" fill="#bfc1c2" stroke="#686b6d" stroke-width="1.55"/><circle cx="882.04" cy="736.65" r="2.0" fill="#bfc1c2" stroke="#686b6d" stroke-width="1.55"/><circle cx="882.04" cy="829.55" r="2.0" fill="#bfc1c2" stroke="#686b6d" stroke-width="1.55"/></g>
<g><path d="M996.91 678.97V794.32" stroke="#fff" stroke-width="6.4"/><rect x="986.26" y="720.65" width="21.3" height="31.99" fill="#fff"/><circle cx="996.91" cy="658.03" r="5.2" fill="#fff"/><circle cx="996.91" cy="665.18" r="5.2" fill="#fff"/><circle cx="996.91" cy="672.33" r="5.2" fill="#fff"/><circle cx="996.91" cy="800.97" r="5.2" fill="#fff"/><path d="M1015.87 678.97V794.32" stroke="#fff" stroke-width="6.4"/><rect x="1005.22" y="720.65" width="21.3" height="31.99" fill="#fff"/><circle cx="1015.87" cy="665.18" r="5.2" fill="#fff"/><circle cx="1015.87" cy="672.33" r="5.2" fill="#fff"/><path d="M1034.83 678.97V794.32" stroke="#fff" stroke-width="6.4"/><rect x="1024.18" y="720.65" width="21.3" height="31.99" fill="#fff"/><circle cx="1034.83" cy="665.18" r="5.2" fill="#fff"/><circle cx="1034.83" cy="672.33" r="5.2" fill="#fff"/><circle cx="1034.83" cy="800.97" r="5.2" fill="#fff"/><circle cx="1034.83" cy="808.11" r="5.2" fill="#fff"/><circle cx="1034.83" cy="815.26" r="5.2" fill="#fff"/><path d="M1053.8 707.56V815.76" stroke="#fff" stroke-width="6.4"/><rect x="1043.15" y="749.24" width="21.3" height="31.99" fill="#fff"/><circle cx="1053.8" cy="679.47" r="5.2" fill="#fff"/><circle cx="1053.8" cy="686.62" r="5.2" fill="#fff"/><circle cx="1053.8" cy="693.77" r="5.2" fill="#fff"/><circle cx="1053.8" cy="700.91" r="5.2" fill="#fff"/><path d="M1072.76 771.88V830.05" stroke="#fff" stroke-width="6.4"/><rect x="1062.11" y="792.12" width="21.3" height="17.69" fill="#fff"/><circle cx="1072.76" cy="736.65" r="5.2" fill="#fff"/><circle cx="1072.76" cy="743.79" r="5.2" fill="#fff"/><circle cx="1072.76" cy="750.94" r="5.2" fill="#fff"/><circle cx="1072.76" cy="758.09" r="5.2" fill="#fff"/><circle cx="1072.76" cy="765.23" r="5.2" fill="#fff"/><path d="M1091.72 743.29V822.91" stroke="#fff" stroke-width="6.4"/><rect x="1081.07" y="770.68" width="21.3" height="24.84" fill="#fff"/><circle cx="1091.72" cy="686.62" r="5.2" fill="#fff"/><circle cx="1091.72" cy="708.06" r="5.2" fill="#fff"/><circle cx="1091.72" cy="722.35" r="5.2" fill="#fff"/><circle cx="1091.72" cy="729.5" r="5.2" fill="#fff"/><circle cx="1091.72" cy="736.65" r="5.2" fill="#fff"/><circle cx="1091.72" cy="829.55" r="5.2" fill="#fff"/><path d="M1110.68 736.15V815.76" stroke="#fff" stroke-width="6.4"/><rect x="1100.03" y="763.53" width="21.3" height="24.84" fill="#fff"/><circle cx="1110.68" cy="715.21" r="5.2" fill="#fff"/><circle cx="1110.68" cy="722.35" r="5.2" fill="#fff"/><circle cx="1110.68" cy="729.5" r="5.2" fill="#fff"/><circle cx="1110.68" cy="822.41" r="5.2" fill="#fff"/><circle cx="1110.68" cy="829.55" r="5.2" fill="#fff"/><path d="M1129.64 678.97V815.76" stroke="#fff" stroke-width="6.4"/><rect x="1118.99" y="727.8" width="21.3" height="39.13" fill="#fff"/><circle cx="1129.64" cy="650.89" r="5.2" fill="#fff"/><circle cx="1129.64" cy="672.33" r="5.2" fill="#fff"/><path d="M1148.61 750.44V830.05" stroke="#fff" stroke-width="6.4"/><rect x="1137.96" y="777.83" width="21.3" height="24.84" fill="#fff"/><circle cx="1148.61" cy="722.35" r="5.2" fill="#fff"/><circle cx="1148.61" cy="736.65" r="5.2" fill="#fff"/><circle cx="1148.61" cy="743.79" r="5.2" fill="#fff"/><circle cx="1148.61" cy="836.7" r="5.2" fill="#fff"/><path d="M1167.57 750.44V830.05" stroke="#fff" stroke-width="6.4"/><rect x="1156.92" y="777.83" width="21.3" height="24.84" fill="#fff"/><circle cx="1167.57" cy="729.5" r="5.2" fill="#fff"/><circle cx="1167.57" cy="736.65" r="5.2" fill="#fff"/><circle cx="1167.57" cy="743.79" r="5.2" fill="#fff"/><circle cx="1167.57" cy="836.7" r="5.2" fill="#fff"/></g>
<g><path d="M996.91 722.35V679.47M996.91 750.94V793.82" stroke="#7e8183" stroke-width="2"/><polygon points="994.01,678.57 999.81,678.57 997.91,680.97 995.91,680.97" fill="#55585a"/><polygon points="994.01,794.72 999.81,794.72 997.91,792.32 995.91,792.32" fill="#55585a"/><rect x="988.76" y="722.35" width="16.3" height="28.59" rx="0.8" fill="#d3d5d5" stroke="#5a5d5f" stroke-width="1.8"/><path d="M988.76 736.65H1005.06" stroke="#585b5d" stroke-width="1.6"/><path d="M993.06 731.28L1000.76 738.58M993.06 738.58L1000.76 731.28" stroke="#111" stroke-width="1.12"/><circle cx="996.91" cy="658.03" r="2.0" fill="#bfc1c2" stroke="#686b6d" stroke-width="1.55"/><circle cx="996.91" cy="665.18" r="2.0" fill="#bfc1c2" stroke="#686b6d" stroke-width="1.55"/><circle cx="996.91" cy="672.33" r="2.0" fill="#bfc1c2" stroke="#686b6d" stroke-width="1.55"/><circle cx="996.91" cy="800.97" r="2.0" fill="#bfc1c2" stroke="#686b6d" stroke-width="1.55"/><path d="M1015.87 722.35V679.47M1015.87 750.94V793.82" stroke="#7e8183" stroke-width="2"/><polygon points="1012.97,678.57 1018.77,678.57 1016.87,680.97 1014.87,680.97" fill="#55585a"/><polygon points="1012.97,794.72 1018.77,794.72 1016.87,792.32 1014.87,792.32" fill="#55585a"/><rect x="1007.72" y="722.35" width="16.3" height="28.59" rx="0.8" fill="#d3d5d5" stroke="#5a5d5f" stroke-width="1.8"/><path d="M1007.72 736.65H1024.02" stroke="#585b5d" stroke-width="1.6"/><path d="M1012.02 732.28L1019.72 739.58M1012.02 739.58L1019.72 732.28" stroke="#111" stroke-width="1.12"/><circle cx="1015.87" cy="665.18" r="2.0" fill="#bfc1c2" stroke="#686b6d" stroke-width="1.55"/><circle cx="1015.87" cy="672.33" r="2.0" fill="#bfc1c2" stroke="#686b6d" stroke-width="1.55"/><path d="M1034.83 722.35V679.47M1034.83 750.94V793.82" stroke="#7e8183" stroke-width="2"/><polygon points="1031.93,678.57 1037.73,678.57 1035.83,680.97 1033.83,680.97" fill="#55585a"/><polygon points="1031.93,794.72 1037.73,794.72 1035.83,792.32 1033.83,792.32" fill="#55585a"/><rect x="1026.68" y="722.35" width="16.3" height="28.59" rx="0.8" fill="#d3d5d5" stroke="#5a5d5f" stroke-width="1.8"/><path d="M1026.68 736.65H1042.98" stroke="#585b5d" stroke-width="1.6"/><path d="M1030.98 734.43L1038.68 741.73M1030.98 741.73L1038.68 734.43" stroke="#111" stroke-width="1.12"/><circle cx="1034.83" cy="665.18" r="2.0" fill="#bfc1c2" stroke="#686b6d" stroke-width="1.55"/><circle cx="1034.83" cy="672.33" r="2.0" fill="#bfc1c2" stroke="#686b6d" stroke-width="1.55"/><circle cx="1034.83" cy="800.97" r="2.0" fill="#bfc1c2" stroke="#686b6d" stroke-width="1.55"/><circle cx="1034.83" cy="808.11" r="2.0" fill="#bfc1c2" stroke="#686b6d" stroke-width="1.55"/><circle cx="1034.83" cy="815.26" r="2.0" fill="#bfc1c2" stroke="#686b6d" stroke-width="1.55"/><path d="M1053.8 750.94V708.06M1053.8 779.53V815.26" stroke="#7e8183" stroke-width="2"/><polygon points="1050.9,707.16 1056.7,707.16 1054.8,709.56 1052.8,709.56" fill="#55585a"/><polygon points="1050.9,816.16 1056.7,816.16 1054.8,813.76 1052.8,813.76" fill="#55585a"/><rect x="1045.65" y="750.94" width="16.3" height="28.59" rx="0.8" fill="#7a7d7e" stroke="#5a5d5f" stroke-width="1.8"/><path d="M1045.65 765.23H1061.95" stroke="#3f4244" stroke-width="1.6"/><path d="M1049.95 763.44L1057.65 770.74M1049.95 770.74L1057.65 763.44" stroke="#111" stroke-width="1.12"/><circle cx="1053.8" cy="679.47" r="2.55" fill="#5a5d5f"/><circle cx="1053.8" cy="686.62" r="2.55" fill="#5a5d5f"/><circle cx="1053.8" cy="693.77" r="2.55" fill="#5a5d5f"/><circle cx="1053.8" cy="700.91" r="2.55" fill="#5a5d5f"/><path d="M1072.76 793.82V772.38M1072.76 808.11V829.55" stroke="#7e8183" stroke-width="2"/><polygon points="1069.86,771.48 1075.66,771.48 1073.76,773.88 1071.76,773.88" fill="#55585a"/><polygon points="1069.86,830.45 1075.66,830.45 1073.76,828.05 1071.76,828.05" fill="#55585a"/><rect x="1064.61" y="793.82" width="16.3" height="14.29" rx="0.8" fill="#ffffff" stroke="#5a5d5f" stroke-width="1.8"/><path d="M1064.61 800.97H1080.91" stroke="#585b5d" stroke-width="1.6"/><path d="M1068.91 796.39L1076.61 803.69M1068.91 803.69L1076.61 796.39" stroke="#111" stroke-width="1.12"/><circle cx="1072.76" cy="736.65" r="2.0" fill="#bfc1c2" stroke="#686b6d" stroke-width="1.55"/><circle cx="1072.76" cy="743.79" r="2.0" fill="#bfc1c2" stroke="#686b6d" stroke-width="1.55"/><circle cx="1072.76" cy="750.94" r="2.0" fill="#bfc1c2" stroke="#686b6d" stroke-width="1.55"/><circle cx="1072.76" cy="758.09" r="2.0" fill="#bfc1c2" stroke="#686b6d" stroke-width="1.55"/><circle cx="1072.76" cy="765.23" r="2.0" fill="#bfc1c2" stroke="#686b6d" stroke-width="1.55"/><path d="M1091.72 772.38V743.79M1091.72 793.82V822.41" stroke="#7e8183" stroke-width="2"/><polygon points="1088.82,742.89 1094.62,742.89 1092.72,745.29 1090.72,745.29" fill="#55585a"/><polygon points="1088.82,823.31 1094.62,823.31 1092.72,820.91 1090.72,820.91" fill="#55585a"/><rect x="1083.57" y="772.38" width="16.3" height="21.44" rx="0.8" fill="#ffffff" stroke="#5a5d5f" stroke-width="1.8"/><path d="M1083.57 786.67H1099.87" stroke="#585b5d" stroke-width="1.6"/><path d="M1087.87 779.24L1095.57 786.54M1087.87 786.54L1095.57 779.24" stroke="#111" stroke-width="1.12"/><circle cx="1091.72" cy="686.62" r="2.0" fill="#bfc1c2" stroke="#686b6d" stroke-width="1.55"/><circle cx="1091.72" cy="708.06" r="2.0" fill="#bfc1c2" stroke="#686b6d" stroke-width="1.55"/><circle cx="1091.72" cy="722.35" r="2.0" fill="#bfc1c2" stroke="#686b6d" stroke-width="1.55"/><circle cx="1091.72" cy="729.5" r="2.0" fill="#bfc1c2" stroke="#686b6d" stroke-width="1.55"/><circle cx="1091.72" cy="736.65" r="2.0" fill="#bfc1c2" stroke="#686b6d" stroke-width="1.55"/><circle cx="1091.72" cy="829.55" r="2.0" fill="#bfc1c2" stroke="#686b6d" stroke-width="1.55"/><path d="M1110.68 765.23V736.65M1110.68 786.67V815.26" stroke="#7e8183" stroke-width="2"/><polygon points="1107.78,735.75 1113.58,735.75 1111.68,738.15 1109.68,738.15" fill="#55585a"/><polygon points="1107.78,816.16 1113.58,816.16 1111.68,813.76 1109.68,813.76" fill="#55585a"/><rect x="1102.53" y="765.23" width="16.3" height="21.44" rx="0.8" fill="#7a7d7e" stroke="#5a5d5f" stroke-width="1.8"/><path d="M1102.53 779.53H1118.83" stroke="#3f4244" stroke-width="1.6"/><path d="M1106.83 772.16L1114.53 779.46M1106.83 779.46L1114.53 772.16" stroke="#111" stroke-width="1.12"/><circle cx="1110.68" cy="715.21" r="2.55" fill="#5a5d5f"/><circle cx="1110.68" cy="722.35" r="2.55" fill="#5a5d5f"/><circle cx="1110.68" cy="729.5" r="2.55" fill="#5a5d5f"/><circle cx="1110.68" cy="822.41" r="2.55" fill="#5a5d5f"/><circle cx="1110.68" cy="829.55" r="2.55" fill="#5a5d5f"/><path d="M1129.64 729.5V679.47M1129.64 765.23V815.26" stroke="#7e8183" stroke-width="2"/><polygon points="1126.74,678.57 1132.54,678.57 1130.64,680.97 1128.64,680.97" fill="#55585a"/><polygon points="1126.74,816.16 1132.54,816.16 1130.64,813.76 1128.64,813.76" fill="#55585a"/><rect x="1121.49" y="729.5" width="16.3" height="35.73" rx="0.8" fill="#7a7d7e" stroke="#5a5d5f" stroke-width="1.8"/><path d="M1121.49 743.79H1137.79" stroke="#3f4244" stroke-width="1.6"/><path d="M1125.79 741.57L1133.49 748.87M1125.79 748.87L1133.49 741.57" stroke="#111" stroke-width="1.12"/><circle cx="1129.64" cy="650.89" r="2.55" fill="#5a5d5f"/><circle cx="1129.64" cy="672.33" r="2.55" fill="#5a5d5f"/><path d="M1148.61 779.53V750.94M1148.61 800.97V829.55" stroke="#7e8183" stroke-width="2"/><polygon points="1145.71,750.04 1151.51,750.04 1149.61,752.44 1147.61,752.44" fill="#55585a"/><polygon points="1145.71,830.45 1151.51,830.45 1149.61,828.05 1147.61,828.05" fill="#55585a"/><rect x="1140.46" y="779.53" width="16.3" height="21.44" rx="0.8" fill="#ffffff" stroke="#5a5d5f" stroke-width="1.8"/><path d="M1140.46 793.82H1156.76" stroke="#585b5d" stroke-width="1.6"/><path d="M1144.76 788.88L1152.46 796.18M1144.76 796.18L1152.46 788.88" stroke="#111" stroke-width="1.12"/><circle cx="1148.61" cy="722.35" r="2.0" fill="#bfc1c2" stroke="#686b6d" stroke-width="1.55"/><circle cx="1148.61" cy="736.65" r="2.0" fill="#bfc1c2" stroke="#686b6d" stroke-width="1.55"/><circle cx="1148.61" cy="743.79" r="2.0" fill="#bfc1c2" stroke="#686b6d" stroke-width="1.55"/><circle cx="1148.61" cy="836.7" r="2.0" fill="#bfc1c2" stroke="#686b6d" stroke-width="1.55"/><path d="M1167.57 779.53V750.94M1167.57 800.97V829.55" stroke="#7e8183" stroke-width="2"/><polygon points="1164.67,750.04 1170.47,750.04 1168.57,752.44 1166.57,752.44" fill="#55585a"/><polygon points="1164.67,830.45 1170.47,830.45 1168.57,828.05 1166.57,828.05" fill="#55585a"/><rect x="1159.42" y="779.53" width="16.3" height="21.44" rx="0.8" fill="#ffffff" stroke="#5a5d5f" stroke-width="1.8"/><path d="M1159.42 793.82H1175.72" stroke="#585b5d" stroke-width="1.6"/><path d="M1163.72 788.88L1171.42 796.18M1163.72 796.18L1171.42 788.88" stroke="#111" stroke-width="1.12"/><circle cx="1167.57" cy="729.5" r="2.0" fill="#bfc1c2" stroke="#686b6d" stroke-width="1.55"/><circle cx="1167.57" cy="736.65" r="2.0" fill="#bfc1c2" stroke="#686b6d" stroke-width="1.55"/><circle cx="1167.57" cy="743.79" r="2.0" fill="#bfc1c2" stroke="#686b6d" stroke-width="1.55"/><circle cx="1167.57" cy="836.7" r="2.0" fill="#bfc1c2" stroke="#686b6d" stroke-width="1.55"/></g>
<path d="M322 1074.9H697M322 1053.31H697M322 1031.72H697M322 1010.13H697M322 988.54H697M322 966.95H697M322 945.36H697M322 923.77H697M322 902.18H697M322 880.59H697M322 859H697M697 1074.9H986M697 1053.31H986M697 1031.72H986M697 1010.13H986M697 988.54H986M697 966.95H986M697 945.36H986M697 923.77H986M697 902.18H986M697 880.59H986M697 859H986M986 1075.4H1190M986 1053.78H1190M986 1032.16H1190M986 1010.54H1190M986 988.92H1190M986 967.3H1190M986 945.68H1190M986 924.06H1190M986 902.44H1190M986 880.82H1190M986 859.2H1190" stroke="#e3e3e3" stroke-width="1.9" fill="none"/>
<path d="M322 858.1V1075.8" stroke="#e3e3e3" stroke-width="1.9" fill="none"/>
<text class="sans" x="314.3" y="1079.2" font-size="10.6" text-anchor="end" fill="#777" stroke="#777" stroke-width="0.4">0</text>
<text class="sans" x="314.3" y="1057.61" font-size="10.6" text-anchor="end" fill="#777" stroke="#777" stroke-width="0.4">0.05</text>
<text class="sans" x="314.3" y="1036.02" font-size="10.6" text-anchor="end" fill="#777" stroke="#777" stroke-width="0.4">0.1</text>
<text class="sans" x="314.3" y="1014.43" font-size="10.6" text-anchor="end" fill="#777" stroke="#777" stroke-width="0.4">0.15</text>
<text class="sans" x="314.3" y="992.84" font-size="10.6" text-anchor="end" fill="#777" stroke="#777" stroke-width="0.4">0.2</text>
<text class="sans" x="314.3" y="971.25" font-size="10.6" text-anchor="end" fill="#777" stroke="#777" stroke-width="0.4">0.25</text>
<text class="sans" x="314.3" y="949.66" font-size="10.6" text-anchor="end" fill="#777" stroke="#777" stroke-width="0.4">0.3</text>
<text class="sans" x="314.3" y="928.07" font-size="10.6" text-anchor="end" fill="#777" stroke="#777" stroke-width="0.4">0.35</text>
<text class="sans" x="314.3" y="906.48" font-size="10.6" text-anchor="end" fill="#777" stroke="#777" stroke-width="0.4">0.4</text>
<text class="sans" x="314.3" y="884.89" font-size="10.6" text-anchor="end" fill="#777" stroke="#777" stroke-width="0.4">0.45</text>
<text class="sans" x="314.3" y="863.3" font-size="10.6" text-anchor="end" fill="#777" stroke="#777" stroke-width="0.4">0.5</text>
<text class="sans" transform="translate(283.4 966.95) rotate(-90)" font-size="10.2" text-anchor="middle" fill="#707070" stroke="#707070" stroke-width="0.45">Mortality on ICU</text>
<g><path d="M424.44 916.07V1032.22" stroke="#fff" stroke-width="6.4"/><rect x="413.79" y="958.05" width="21.3" height="32.19" fill="#fff"/><circle cx="424.44" cy="894.98" r="5.2" fill="#fff"/><circle cx="424.44" cy="902.18" r="5.2" fill="#fff"/><circle cx="424.44" cy="909.38" r="5.2" fill="#fff"/><circle cx="424.44" cy="1038.92" r="5.2" fill="#fff"/><circle cx="424.44" cy="1046.11" r="5.2" fill="#fff"/><path d="M443.42 916.07V1032.22" stroke="#fff" stroke-width="6.4"/><rect x="432.77" y="958.05" width="21.3" height="32.19" fill="#fff"/><circle cx="443.42" cy="887.79" r="5.2" fill="#fff"/><circle cx="443.42" cy="894.98" r="5.2" fill="#fff"/><circle cx="443.42" cy="902.18" r="5.2" fill="#fff"/><circle cx="443.42" cy="909.38" r="5.2" fill="#fff"/><circle cx="443.42" cy="1038.92" r="5.2" fill="#fff"/><circle cx="443.42" cy="1046.11" r="5.2" fill="#fff"/><path d="M462.41 916.07V1032.22" stroke="#fff" stroke-width="6.4"/><rect x="451.76" y="958.05" width="21.3" height="32.19" fill="#fff"/><circle cx="462.41" cy="894.98" r="5.2" fill="#fff"/><circle cx="462.41" cy="902.18" r="5.2" fill="#fff"/><circle cx="462.41" cy="909.38" r="5.2" fill="#fff"/><circle cx="462.41" cy="1038.92" r="5.2" fill="#fff"/><circle cx="462.41" cy="1046.11" r="5.2" fill="#fff"/><path d="M481.39 923.27V1046.61" stroke="#fff" stroke-width="6.4"/><rect x="470.74" y="965.25" width="21.3" height="39.38" fill="#fff"/><circle cx="481.39" cy="894.98" r="5.2" fill="#fff"/><circle cx="481.39" cy="909.38" r="5.2" fill="#fff"/><path d="M500.37 937.66V1053.81" stroke="#fff" stroke-width="6.4"/><rect x="489.72" y="979.64" width="21.3" height="32.19" fill="#fff"/><circle cx="500.37" cy="930.97" r="5.2" fill="#fff"/><path d="M519.36 937.66V1039.42" stroke="#fff" stroke-width="6.4"/><rect x="508.71" y="972.45" width="21.3" height="32.19" fill="#fff"/><circle cx="519.36" cy="916.57" r="5.2" fill="#fff"/><circle cx="519.36" cy="923.77" r="5.2" fill="#fff"/><circle cx="519.36" cy="930.97" r="5.2" fill="#fff"/><circle cx="519.36" cy="1046.11" r="5.2" fill="#fff"/><circle cx="519.36" cy="1060.51" r="5.2" fill="#fff"/><path d="M538.34 937.66V1039.42" stroke="#fff" stroke-width="6.4"/><rect x="527.69" y="972.45" width="21.3" height="32.19" fill="#fff"/><circle cx="538.34" cy="916.57" r="5.2" fill="#fff"/><circle cx="538.34" cy="923.77" r="5.2" fill="#fff"/><circle cx="538.34" cy="930.97" r="5.2" fill="#fff"/><circle cx="538.34" cy="1046.11" r="5.2" fill="#fff"/><circle cx="538.34" cy="1060.51" r="5.2" fill="#fff"/><path d="M557.32 908.88V1046.61" stroke="#fff" stroke-width="6.4"/><rect x="546.67" y="958.05" width="21.3" height="39.38" fill="#fff"/><circle cx="557.32" cy="1053.31" r="5.2" fill="#fff"/><path d="M576.3 937.66V1039.42" stroke="#fff" stroke-width="6.4"/><rect x="565.65" y="972.45" width="21.3" height="32.19" fill="#fff"/><circle cx="576.3" cy="923.77" r="5.2" fill="#fff"/><circle cx="576.3" cy="930.97" r="5.2" fill="#fff"/><circle cx="576.3" cy="1046.11" r="5.2" fill="#fff"/><circle cx="576.3" cy="1060.51" r="5.2" fill="#fff"/><path d="M595.29 937.66V1039.42" stroke="#fff" stroke-width="6.4"/><rect x="584.64" y="972.45" width="21.3" height="32.19" fill="#fff"/><circle cx="595.29" cy="916.57" r="5.2" fill="#fff"/><circle cx="595.29" cy="923.77" r="5.2" fill="#fff"/><circle cx="595.29" cy="930.97" r="5.2" fill="#fff"/><circle cx="595.29" cy="1046.11" r="5.2" fill="#fff"/><circle cx="595.29" cy="1053.31" r="5.2" fill="#fff"/></g>
<g><path d="M424.44 959.75V916.57M424.44 988.54V1031.72" stroke="#7e8183" stroke-width="2"/><polygon points="421.54,915.67 427.34,915.67 425.44,918.07 423.44,918.07" fill="#55585a"/><polygon points="421.54,1032.62 427.34,1032.62 425.44,1030.22 423.44,1030.22" fill="#55585a"/><rect x="416.29" y="959.75" width="16.3" height="28.79" rx="0.8" fill="#d3d5d5" stroke="#5a5d5f" stroke-width="1.8"/><path d="M416.29 974.15H432.59" stroke="#585b5d" stroke-width="1.6"/><path d="M420.59 969.42L428.29 976.72M420.59 976.72L428.29 969.42" stroke="#111" stroke-width="1.12"/><circle cx="424.44" cy="894.98" r="2.0" fill="#bfc1c2" stroke="#686b6d" stroke-width="1.55"/><circle cx="424.44" cy="902.18" r="2.0" fill="#bfc1c2" stroke="#686b6d" stroke-width="1.55"/><circle cx="424.44" cy="909.38" r="2.0" fill="#bfc1c2" stroke="#686b6d" stroke-width="1.55"/><circle cx="424.44" cy="1038.92" r="2.0" fill="#bfc1c2" stroke="#686b6d" stroke-width="1.55"/><circle cx="424.44" cy="1046.11" r="2.0" fill="#bfc1c2" stroke="#686b6d" stroke-width="1.55"/><path d="M443.42 959.75V916.57M443.42 988.54V1031.72" stroke="#7e8183" stroke-width="2"/><polygon points="440.52,915.67 446.32,915.67 444.42,918.07 442.42,918.07" fill="#55585a"/><polygon points="440.52,1032.62 446.32,1032.62 444.42,1030.22 442.42,1030.22" fill="#55585a"/><rect x="435.27" y="959.75" width="16.3" height="28.79" rx="0.8" fill="#d3d5d5" stroke="#5a5d5f" stroke-width="1.8"/><path d="M435.27 974.15H451.57" stroke="#585b5d" stroke-width="1.6"/><path d="M439.57 969.06L447.27 976.36M439.57 976.36L447.27 969.06" stroke="#111" stroke-width="1.12"/><circle cx="443.42" cy="887.79" r="2.0" fill="#bfc1c2" stroke="#686b6d" stroke-width="1.55"/><circle cx="443.42" cy="894.98" r="2.0" fill="#bfc1c2" stroke="#686b6d" stroke-width="1.55"/><circle cx="443.42" cy="902.18" r="2.0" fill="#bfc1c2" stroke="#686b6d" stroke-width="1.55"/><circle cx="443.42" cy="909.38" r="2.0" fill="#bfc1c2" stroke="#686b6d" stroke-width="1.55"/><circle cx="443.42" cy="1038.92" r="2.0" fill="#bfc1c2" stroke="#686b6d" stroke-width="1.55"/><circle cx="443.42" cy="1046.11" r="2.0" fill="#bfc1c2" stroke="#686b6d" stroke-width="1.55"/><path d="M462.41 959.75V916.57M462.41 988.54V1031.72" stroke="#7e8183" stroke-width="2"/><polygon points="459.51,915.67 465.31,915.67 463.41,918.07 461.41,918.07" fill="#55585a"/><polygon points="459.51,1032.62 465.31,1032.62 463.41,1030.22 461.41,1030.22" fill="#55585a"/><rect x="454.26" y="959.75" width="16.3" height="28.79" rx="0.8" fill="#d3d5d5" stroke="#5a5d5f" stroke-width="1.8"/><path d="M454.26 974.15H470.56" stroke="#585b5d" stroke-width="1.6"/><path d="M458.56 969.06L466.26 976.36M458.56 976.36L466.26 969.06" stroke="#111" stroke-width="1.12"/><circle cx="462.41" cy="894.98" r="2.0" fill="#bfc1c2" stroke="#686b6d" stroke-width="1.55"/><circle cx="462.41" cy="902.18" r="2.0" fill="#bfc1c2" stroke="#686b6d" stroke-width="1.55"/><circle cx="462.41" cy="909.38" r="2.0" fill="#bfc1c2" stroke="#686b6d" stroke-width="1.55"/><circle cx="462.41" cy="1038.92" r="2.0" fill="#bfc1c2" stroke="#686b6d" stroke-width="1.55"/><circle cx="462.41" cy="1046.11" r="2.0" fill="#bfc1c2" stroke="#686b6d" stroke-width="1.55"/><path d="M481.39 966.95V923.77M481.39 1002.93V1046.11" stroke="#7e8183" stroke-width="2"/><polygon points="478.49,922.87 484.29,922.87 482.39,925.27 480.39,925.27" fill="#55585a"/><polygon points="478.49,1047.01 484.29,1047.01 482.39,1044.61 480.39,1044.61" fill="#55585a"/><rect x="473.24" y="966.95" width="16.3" height="35.98" rx="0.8" fill="#7a7d7e" stroke="#5a5d5f" stroke-width="1.8"/><path d="M473.24 981.34H489.54" stroke="#3f4244" stroke-width="1.6"/><path d="M477.54 979.56L485.24 986.86M477.54 986.86L485.24 979.56" stroke="#111" stroke-width="1.12"/><circle cx="481.39" cy="894.98" r="2.55" fill="#5a5d5f"/><circle cx="481.39" cy="909.38" r="2.55" fill="#5a5d5f"/><path d="M500.37 981.34V938.16M500.37 1010.13V1053.31" stroke="#7e8183" stroke-width="2"/><polygon points="497.47,937.26 503.27,937.26 501.37,939.66 499.37,939.66" fill="#55585a"/><polygon points="497.47,1054.21 503.27,1054.21 501.37,1051.81 499.37,1051.81" fill="#55585a"/><rect x="492.22" y="981.34" width="16.3" height="28.79" rx="0.8" fill="#ffffff" stroke="#5a5d5f" stroke-width="1.8"/><path d="M492.22 995.74H508.52" stroke="#585b5d" stroke-width="1.6"/><path d="M496.52 993.02L504.22 1000.32M496.52 1000.32L504.22 993.02" stroke="#111" stroke-width="1.12"/><circle cx="500.37" cy="930.97" r="2.0" fill="#bfc1c2" stroke="#686b6d" stroke-width="1.55"/><path d="M519.36 974.15V938.16M519.36 1002.93V1038.92" stroke="#7e8183" stroke-width="2"/><polygon points="516.46,937.26 522.25,937.26 520.36,939.66 518.36,939.66" fill="#55585a"/><polygon points="516.46,1039.82 522.25,1039.82 520.36,1037.42 518.36,1037.42" fill="#55585a"/><rect x="511.21" y="974.15" width="16.3" height="28.79" rx="0.8" fill="#ffffff" stroke="#5a5d5f" stroke-width="1.8"/><path d="M511.21 988.54H527.5" stroke="#585b5d" stroke-width="1.6"/><path d="M515.5 983.81L523.21 991.11M515.5 991.11L523.21 983.81" stroke="#111" stroke-width="1.12"/><circle cx="519.36" cy="916.57" r="2.0" fill="#bfc1c2" stroke="#686b6d" stroke-width="1.55"/><circle cx="519.36" cy="923.77" r="2.0" fill="#bfc1c2" stroke="#686b6d" stroke-width="1.55"/><circle cx="519.36" cy="930.97" r="2.0" fill="#bfc1c2" stroke="#686b6d" stroke-width="1.55"/><circle cx="519.36" cy="1046.11" r="2.0" fill="#bfc1c2" stroke="#686b6d" stroke-width="1.55"/><circle cx="519.36" cy="1060.51" r="2.0" fill="#bfc1c2" stroke="#686b6d" stroke-width="1.55"/><path d="M538.34 974.15V938.16M538.34 1002.93V1038.92" stroke="#7e8183" stroke-width="2"/><polygon points="535.44,937.26 541.24,937.26 539.34,939.66 537.34,939.66" fill="#55585a"/><polygon points="535.44,1039.82 541.24,1039.82 539.34,1037.42 537.34,1037.42" fill="#55585a"/><rect x="530.19" y="974.15" width="16.3" height="28.79" rx="0.8" fill="#7a7d7e" stroke="#5a5d5f" stroke-width="1.8"/><path d="M530.19 988.54H546.49" stroke="#3f4244" stroke-width="1.6"/><path d="M534.49 982.59L542.19 989.89M534.49 989.89L542.19 982.59" stroke="#111" stroke-width="1.12"/><circle cx="538.34" cy="916.57" r="2.55" fill="#5a5d5f"/><circle cx="538.34" cy="923.77" r="2.55" fill="#5a5d5f"/><circle cx="538.34" cy="930.97" r="2.55" fill="#5a5d5f"/><circle cx="538.34" cy="1046.11" r="2.55" fill="#5a5d5f"/><circle cx="538.34" cy="1060.51" r="2.55" fill="#5a5d5f"/><path d="M557.32 959.75V909.38M557.32 995.74V1046.11" stroke="#7e8183" stroke-width="2"/><polygon points="554.42,908.48 560.22,908.48 558.32,910.88 556.32,910.88" fill="#55585a"/><polygon points="554.42,1047.01 560.22,1047.01 558.32,1044.61 556.32,1044.61" fill="#55585a"/><rect x="549.17" y="959.75" width="16.3" height="35.98" rx="0.8" fill="#7a7d7e" stroke="#5a5d5f" stroke-width="1.8"/><path d="M549.17 981.34H565.47" stroke="#3f4244" stroke-width="1.6"/><path d="M553.47 974.67L561.17 981.97M553.47 981.97L561.17 974.67" stroke="#111" stroke-width="1.12"/><circle cx="557.32" cy="1053.31" r="2.55" fill="#5a5d5f"/><path d="M576.3 974.15V938.16M576.3 1002.93V1038.92" stroke="#7e8183" stroke-width="2"/><polygon points="573.4,937.26 579.2,937.26 577.3,939.66 575.3,939.66" fill="#55585a"/><polygon points="573.4,1039.82 579.2,1039.82 577.3,1037.42 575.3,1037.42" fill="#55585a"/><rect x="568.15" y="974.15" width="16.3" height="28.79" rx="0.8" fill="#ffffff" stroke="#5a5d5f" stroke-width="1.8"/><path d="M568.15 988.54H584.45" stroke="#585b5d" stroke-width="1.6"/><path d="M572.45 984.39L580.15 991.69M572.45 991.69L580.15 984.39" stroke="#111" stroke-width="1.12"/><circle cx="576.3" cy="923.77" r="2.0" fill="#bfc1c2" stroke="#686b6d" stroke-width="1.55"/><circle cx="576.3" cy="930.97" r="2.0" fill="#bfc1c2" stroke="#686b6d" stroke-width="1.55"/><circle cx="576.3" cy="1046.11" r="2.0" fill="#bfc1c2" stroke="#686b6d" stroke-width="1.55"/><circle cx="576.3" cy="1060.51" r="2.0" fill="#bfc1c2" stroke="#686b6d" stroke-width="1.55"/><path d="M595.29 974.15V938.16M595.29 1002.93V1038.92" stroke="#7e8183" stroke-width="2"/><polygon points="592.39,937.26 598.19,937.26 596.29,939.66 594.29,939.66" fill="#55585a"/><polygon points="592.39,1039.82 598.19,1039.82 596.29,1037.42 594.29,1037.42" fill="#55585a"/><rect x="587.14" y="974.15" width="16.3" height="28.79" rx="0.8" fill="#ffffff" stroke="#5a5d5f" stroke-width="1.8"/><path d="M587.14 988.54H603.44" stroke="#585b5d" stroke-width="1.6"/><path d="M591.44 985.25L599.14 992.55M591.44 992.55L599.14 985.25" stroke="#111" stroke-width="1.12"/><circle cx="595.29" cy="916.57" r="2.0" fill="#bfc1c2" stroke="#686b6d" stroke-width="1.55"/><circle cx="595.29" cy="923.77" r="2.0" fill="#bfc1c2" stroke="#686b6d" stroke-width="1.55"/><circle cx="595.29" cy="930.97" r="2.0" fill="#bfc1c2" stroke="#686b6d" stroke-width="1.55"/><circle cx="595.29" cy="1046.11" r="2.0" fill="#bfc1c2" stroke="#686b6d" stroke-width="1.55"/><circle cx="595.29" cy="1053.31" r="2.0" fill="#bfc1c2" stroke="#686b6d" stroke-width="1.55"/></g>
<g><path d="M712.47 916.07V1032.22" stroke="#fff" stroke-width="6.4"/><rect x="701.82" y="958.05" width="21.3" height="32.19" fill="#fff"/><circle cx="712.47" cy="894.98" r="5.2" fill="#fff"/><circle cx="712.47" cy="902.18" r="5.2" fill="#fff"/><circle cx="712.47" cy="909.38" r="5.2" fill="#fff"/><circle cx="712.47" cy="1038.92" r="5.2" fill="#fff"/><circle cx="712.47" cy="1046.11" r="5.2" fill="#fff"/><path d="M731.45 916.07V1032.22" stroke="#fff" stroke-width="6.4"/><rect x="720.8" y="958.05" width="21.3" height="32.19" fill="#fff"/><circle cx="731.45" cy="894.98" r="5.2" fill="#fff"/><circle cx="731.45" cy="902.18" r="5.2" fill="#fff"/><circle cx="731.45" cy="909.38" r="5.2" fill="#fff"/><circle cx="731.45" cy="1038.92" r="5.2" fill="#fff"/><circle cx="731.45" cy="1046.11" r="5.2" fill="#fff"/><path d="M750.43 916.07V1046.61" stroke="#fff" stroke-width="6.4"/><rect x="739.78" y="958.05" width="21.3" height="39.38" fill="#fff"/><circle cx="750.43" cy="887.79" r="5.2" fill="#fff"/><circle cx="750.43" cy="894.98" r="5.2" fill="#fff"/><circle cx="750.43" cy="902.18" r="5.2" fill="#fff"/><path d="M769.4 923.27V1053.81" stroke="#fff" stroke-width="6.4"/><rect x="758.75" y="972.45" width="21.3" height="39.38" fill="#fff"/><circle cx="769.4" cy="902.18" r="5.2" fill="#fff"/><path d="M788.38 973.65V1053.81" stroke="#fff" stroke-width="6.4"/><rect x="777.73" y="1001.23" width="21.3" height="24.99" fill="#fff"/><circle cx="788.38" cy="945.36" r="5.2" fill="#fff"/><circle cx="788.38" cy="952.56" r="5.2" fill="#fff"/><circle cx="788.38" cy="959.75" r="5.2" fill="#fff"/><circle cx="788.38" cy="966.95" r="5.2" fill="#fff"/><circle cx="788.38" cy="1060.51" r="5.2" fill="#fff"/><circle cx="788.38" cy="1067.7" r="5.2" fill="#fff"/><path d="M807.36 944.86V1061.01" stroke="#fff" stroke-width="6.4"/><rect x="796.71" y="986.84" width="21.3" height="32.19" fill="#fff"/><circle cx="807.36" cy="930.97" r="5.2" fill="#fff"/><circle cx="807.36" cy="938.16" r="5.2" fill="#fff"/><path d="M826.34 944.86V1061.01" stroke="#fff" stroke-width="6.4"/><rect x="815.69" y="986.84" width="21.3" height="32.19" fill="#fff"/><circle cx="826.34" cy="923.77" r="5.2" fill="#fff"/><circle cx="826.34" cy="930.97" r="5.2" fill="#fff"/><circle cx="826.34" cy="938.16" r="5.2" fill="#fff"/><path d="M845.32 923.27V1039.42" stroke="#fff" stroke-width="6.4"/><rect x="834.67" y="965.25" width="21.3" height="32.19" fill="#fff"/><circle cx="845.32" cy="902.18" r="5.2" fill="#fff"/><circle cx="845.32" cy="909.38" r="5.2" fill="#fff"/><circle cx="845.32" cy="916.57" r="5.2" fill="#fff"/><circle cx="845.32" cy="1053.31" r="5.2" fill="#fff"/><path d="M864.29 959.25V1039.42" stroke="#fff" stroke-width="6.4"/><rect x="853.64" y="986.84" width="21.3" height="24.99" fill="#fff"/><circle cx="864.29" cy="930.97" r="5.2" fill="#fff"/><circle cx="864.29" cy="938.16" r="5.2" fill="#fff"/><circle cx="864.29" cy="945.36" r="5.2" fill="#fff"/><circle cx="864.29" cy="952.56" r="5.2" fill="#fff"/><circle cx="864.29" cy="1046.11" r="5.2" fill="#fff"/><circle cx="864.29" cy="1053.31" r="5.2" fill="#fff"/><circle cx="864.29" cy="1060.51" r="5.2" fill="#fff"/><path d="M883.27 944.86V1061.01" stroke="#fff" stroke-width="6.4"/><rect x="872.62" y="986.84" width="21.3" height="32.19" fill="#fff"/><circle cx="883.27" cy="930.97" r="5.2" fill="#fff"/><circle cx="883.27" cy="1067.7" r="5.2" fill="#fff"/></g>
<g><path d="M712.47 959.75V916.57M712.47 988.54V1031.72" stroke="#7e8183" stroke-width="2"/><polygon points="709.57,915.67 715.37,915.67 713.47,918.07 711.47,918.07" fill="#55585a"/><polygon points="709.57,1032.62 715.37,1032.62 713.47,1030.22 711.47,1030.22" fill="#55585a"/><rect x="704.32" y="959.75" width="16.3" height="28.79" rx="0.8" fill="#d3d5d5" stroke="#5a5d5f" stroke-width="1.8"/><path d="M704.32 974.15H720.62" stroke="#585b5d" stroke-width="1.6"/><path d="M708.62 969.42L716.32 976.72M708.62 976.72L716.32 969.42" stroke="#111" stroke-width="1.12"/><circle cx="712.47" cy="894.98" r="2.0" fill="#bfc1c2" stroke="#686b6d" stroke-width="1.55"/><circle cx="712.47" cy="902.18" r="2.0" fill="#bfc1c2" stroke="#686b6d" stroke-width="1.55"/><circle cx="712.47" cy="909.38" r="2.0" fill="#bfc1c2" stroke="#686b6d" stroke-width="1.55"/><circle cx="712.47" cy="1038.92" r="2.0" fill="#bfc1c2" stroke="#686b6d" stroke-width="1.55"/><circle cx="712.47" cy="1046.11" r="2.0" fill="#bfc1c2" stroke="#686b6d" stroke-width="1.55"/><path d="M731.45 959.75V916.57M731.45 988.54V1031.72" stroke="#7e8183" stroke-width="2"/><polygon points="728.55,915.67 734.35,915.67 732.45,918.07 730.45,918.07" fill="#55585a"/><polygon points="728.55,1032.62 734.35,1032.62 732.45,1030.22 730.45,1030.22" fill="#55585a"/><rect x="723.3" y="959.75" width="16.3" height="28.79" rx="0.8" fill="#d3d5d5" stroke="#5a5d5f" stroke-width="1.8"/><path d="M723.3 974.15H739.6" stroke="#585b5d" stroke-width="1.6"/><path d="M727.6 969.42L735.3 976.72M727.6 976.72L735.3 969.42" stroke="#111" stroke-width="1.12"/><circle cx="731.45" cy="894.98" r="2.0" fill="#bfc1c2" stroke="#686b6d" stroke-width="1.55"/><circle cx="731.45" cy="902.18" r="2.0" fill="#bfc1c2" stroke="#686b6d" stroke-width="1.55"/><circle cx="731.45" cy="909.38" r="2.0" fill="#bfc1c2" stroke="#686b6d" stroke-width="1.55"/><circle cx="731.45" cy="1038.92" r="2.0" fill="#bfc1c2" stroke="#686b6d" stroke-width="1.55"/><circle cx="731.45" cy="1046.11" r="2.0" fill="#bfc1c2" stroke="#686b6d" stroke-width="1.55"/><path d="M750.43 959.75V916.57M750.43 995.74V1046.11" stroke="#7e8183" stroke-width="2"/><polygon points="747.53,915.67 753.33,915.67 751.43,918.07 749.43,918.07" fill="#55585a"/><polygon points="747.53,1047.01 753.33,1047.01 751.43,1044.61 749.43,1044.61" fill="#55585a"/><rect x="742.28" y="959.75" width="16.3" height="35.98" rx="0.8" fill="#d3d5d5" stroke="#5a5d5f" stroke-width="1.8"/><path d="M742.28 974.15H758.58" stroke="#585b5d" stroke-width="1.6"/><path d="M746.58 972.66L754.28 979.96M746.58 979.96L754.28 972.66" stroke="#111" stroke-width="1.12"/><circle cx="750.43" cy="887.79" r="2.0" fill="#bfc1c2" stroke="#686b6d" stroke-width="1.55"/><circle cx="750.43" cy="894.98" r="2.0" fill="#bfc1c2" stroke="#686b6d" stroke-width="1.55"/><circle cx="750.43" cy="902.18" r="2.0" fill="#bfc1c2" stroke="#686b6d" stroke-width="1.55"/><path d="M769.4 974.15V923.77M769.4 1010.13V1053.31" stroke="#7e8183" stroke-width="2"/><polygon points="766.5,922.87 772.3,922.87 770.4,925.27 768.4,925.27" fill="#55585a"/><polygon points="766.5,1054.21 772.3,1054.21 770.4,1051.81 768.4,1051.81" fill="#55585a"/><rect x="761.25" y="974.15" width="16.3" height="35.98" rx="0.8" fill="#7a7d7e" stroke="#5a5d5f" stroke-width="1.8"/><path d="M761.25 995.74H777.55" stroke="#3f4244" stroke-width="1.6"/><path d="M765.55 988.7L773.25 996M765.55 996L773.25 988.7" stroke="#111" stroke-width="1.12"/><circle cx="769.4" cy="902.18" r="2.55" fill="#5a5d5f"/><path d="M788.38 1002.93V974.15M788.38 1024.52V1053.31" stroke="#7e8183" stroke-width="2"/><polygon points="785.48,973.25 791.28,973.25 789.38,975.65 787.38,975.65" fill="#55585a"/><polygon points="785.48,1054.21 791.28,1054.21 789.38,1051.81 787.38,1051.81" fill="#55585a"/><rect x="780.23" y="1002.93" width="16.3" height="21.59" rx="0.8" fill="#ffffff" stroke="#5a5d5f" stroke-width="1.8"/><path d="M780.23 1010.13H796.53" stroke="#585b5d" stroke-width="1.6"/><path d="M784.53 1009.57L792.23 1016.87M784.53 1016.87L792.23 1009.57" stroke="#111" stroke-width="1.12"/><circle cx="788.38" cy="945.36" r="2.0" fill="#bfc1c2" stroke="#686b6d" stroke-width="1.55"/><circle cx="788.38" cy="952.56" r="2.0" fill="#bfc1c2" stroke="#686b6d" stroke-width="1.55"/><circle cx="788.38" cy="959.75" r="2.0" fill="#bfc1c2" stroke="#686b6d" stroke-width="1.55"/><circle cx="788.38" cy="966.95" r="2.0" fill="#bfc1c2" stroke="#686b6d" stroke-width="1.55"/><circle cx="788.38" cy="1060.51" r="2.0" fill="#bfc1c2" stroke="#686b6d" stroke-width="1.55"/><circle cx="788.38" cy="1067.7" r="2.0" fill="#bfc1c2" stroke="#686b6d" stroke-width="1.55"/><path d="M807.36 988.54V945.36M807.36 1017.33V1060.51" stroke="#7e8183" stroke-width="2"/><polygon points="804.46,944.46 810.26,944.46 808.36,946.86 806.36,946.86" fill="#55585a"/><polygon points="804.46,1061.41 810.26,1061.41 808.36,1059.01 806.36,1059.01" fill="#55585a"/><rect x="799.21" y="988.54" width="16.3" height="28.79" rx="0.8" fill="#ffffff" stroke="#5a5d5f" stroke-width="1.8"/><path d="M799.21 1002.93H815.51" stroke="#585b5d" stroke-width="1.6"/><path d="M803.51 998.35L811.21 1005.65M803.51 1005.65L811.21 998.35" stroke="#111" stroke-width="1.12"/><circle cx="807.36" cy="930.97" r="2.0" fill="#bfc1c2" stroke="#686b6d" stroke-width="1.55"/><circle cx="807.36" cy="938.16" r="2.0" fill="#bfc1c2" stroke="#686b6d" stroke-width="1.55"/><path d="M826.34 988.54V945.36M826.34 1017.33V1060.51" stroke="#7e8183" stroke-width="2"/><polygon points="823.44,944.46 829.24,944.46 827.34,946.86 825.34,946.86" fill="#55585a"/><polygon points="823.44,1061.41 829.24,1061.41 827.34,1059.01 825.34,1059.01" fill="#55585a"/><rect x="818.19" y="988.54" width="16.3" height="28.79" rx="0.8" fill="#7a7d7e" stroke="#5a5d5f" stroke-width="1.8"/><path d="M818.19 1002.93H834.49" stroke="#3f4244" stroke-width="1.6"/><path d="M822.49 997.48L830.19 1004.78M822.49 1004.78L830.19 997.48" stroke="#111" stroke-width="1.12"/><circle cx="826.34" cy="923.77" r="2.55" fill="#5a5d5f"/><circle cx="826.34" cy="930.97" r="2.55" fill="#5a5d5f"/><circle cx="826.34" cy="938.16" r="2.55" fill="#5a5d5f"/><path d="M845.32 966.95V923.77M845.32 995.74V1038.92" stroke="#7e8183" stroke-width="2"/><polygon points="842.42,922.87 848.22,922.87 846.32,925.27 844.32,925.27" fill="#55585a"/><polygon points="842.42,1039.82 848.22,1039.82 846.32,1037.42 844.32,1037.42" fill="#55585a"/><rect x="837.17" y="966.95" width="16.3" height="28.79" rx="0.8" fill="#7a7d7e" stroke="#5a5d5f" stroke-width="1.8"/><path d="M837.17 981.34H853.47" stroke="#3f4244" stroke-width="1.6"/><path d="M841.47 978.13L849.17 985.43M841.47 985.43L849.17 978.13" stroke="#111" stroke-width="1.12"/><circle cx="845.32" cy="902.18" r="2.55" fill="#5a5d5f"/><circle cx="845.32" cy="909.38" r="2.55" fill="#5a5d5f"/><circle cx="845.32" cy="916.57" r="2.55" fill="#5a5d5f"/><circle cx="845.32" cy="1053.31" r="2.55" fill="#5a5d5f"/><path d="M864.29 988.54V959.75M864.29 1010.13V1038.92" stroke="#7e8183" stroke-width="2"/><polygon points="861.39,958.85 867.19,958.85 865.29,961.25 863.29,961.25" fill="#55585a"/><polygon points="861.39,1039.82 867.19,1039.82 865.29,1037.42 863.29,1037.42" fill="#55585a"/><rect x="856.14" y="988.54" width="16.3" height="21.59" rx="0.8" fill="#ffffff" stroke="#5a5d5f" stroke-width="1.8"/><path d="M856.14 1002.93H872.44" stroke="#585b5d" stroke-width="1.6"/><path d="M860.44 996.62L868.14 1003.92M860.44 1003.92L868.14 996.62" stroke="#111" stroke-width="1.12"/><circle cx="864.29" cy="930.97" r="2.0" fill="#bfc1c2" stroke="#686b6d" stroke-width="1.55"/><circle cx="864.29" cy="938.16" r="2.0" fill="#bfc1c2" stroke="#686b6d" stroke-width="1.55"/><circle cx="864.29" cy="945.36" r="2.0" fill="#bfc1c2" stroke="#686b6d" stroke-width="1.55"/><circle cx="864.29" cy="952.56" r="2.0" fill="#bfc1c2" stroke="#686b6d" stroke-width="1.55"/><circle cx="864.29" cy="1046.11" r="2.0" fill="#bfc1c2" stroke="#686b6d" stroke-width="1.55"/><circle cx="864.29" cy="1053.31" r="2.0" fill="#bfc1c2" stroke="#686b6d" stroke-width="1.55"/><circle cx="864.29" cy="1060.51" r="2.0" fill="#bfc1c2" stroke="#686b6d" stroke-width="1.55"/><path d="M883.27 988.54V945.36M883.27 1017.33V1060.51" stroke="#7e8183" stroke-width="2"/><polygon points="880.37,944.46 886.17,944.46 884.27,946.86 882.27,946.86" fill="#55585a"/><polygon points="880.37,1061.41 886.17,1061.41 884.27,1059.01 882.27,1059.01" fill="#55585a"/><rect x="875.12" y="988.54" width="16.3" height="28.79" rx="0.8" fill="#ffffff" stroke="#5a5d5f" stroke-width="1.8"/><path d="M875.12 1002.93H891.42" stroke="#585b5d" stroke-width="1.6"/><path d="M879.42 999.79L887.12 1007.09M879.42 1007.09L887.12 999.79" stroke="#111" stroke-width="1.12"/><circle cx="883.27" cy="930.97" r="2.0" fill="#bfc1c2" stroke="#686b6d" stroke-width="1.55"/><circle cx="883.27" cy="1067.7" r="2.0" fill="#bfc1c2" stroke="#686b6d" stroke-width="1.55"/></g>
<g><path d="M998.83 916.35V1032.66" stroke="#fff" stroke-width="6.4"/><rect x="988.18" y="958.39" width="21.3" height="32.23" fill="#fff"/><circle cx="998.83" cy="895.23" r="5.2" fill="#fff"/><circle cx="998.83" cy="902.44" r="5.2" fill="#fff"/><circle cx="998.83" cy="909.65" r="5.2" fill="#fff"/><circle cx="998.83" cy="1039.37" r="5.2" fill="#fff"/><circle cx="998.83" cy="1046.57" r="5.2" fill="#fff"/><path d="M1017.86 916.35V1032.66" stroke="#fff" stroke-width="6.4"/><rect x="1007.21" y="958.39" width="21.3" height="32.23" fill="#fff"/><circle cx="1017.86" cy="895.23" r="5.2" fill="#fff"/><circle cx="1017.86" cy="902.44" r="5.2" fill="#fff"/><circle cx="1017.86" cy="909.65" r="5.2" fill="#fff"/><circle cx="1017.86" cy="1039.37" r="5.2" fill="#fff"/><path d="M1036.88 909.15V1039.87" stroke="#fff" stroke-width="6.4"/><rect x="1026.23" y="958.39" width="21.3" height="39.43" fill="#fff"/><circle cx="1036.88" cy="888.03" r="5.2" fill="#fff"/><circle cx="1036.88" cy="902.44" r="5.2" fill="#fff"/><circle cx="1036.88" cy="1053.78" r="5.2" fill="#fff"/><path d="M1055.9 945.18V1061.49" stroke="#fff" stroke-width="6.4"/><rect x="1045.25" y="987.22" width="21.3" height="32.23" fill="#fff"/><circle cx="1055.9" cy="924.06" r="5.2" fill="#fff"/><circle cx="1055.9" cy="931.27" r="5.2" fill="#fff"/><circle cx="1055.9" cy="938.47" r="5.2" fill="#fff"/><path d="M1074.93 988.42V1068.69" stroke="#fff" stroke-width="6.4"/><rect x="1064.28" y="1016.05" width="21.3" height="25.02" fill="#fff"/><circle cx="1074.93" cy="952.89" r="5.2" fill="#fff"/><circle cx="1074.93" cy="967.3" r="5.2" fill="#fff"/><circle cx="1074.93" cy="974.51" r="5.2" fill="#fff"/><circle cx="1074.93" cy="981.71" r="5.2" fill="#fff"/><path d="M1093.95 959.59V1061.49" stroke="#fff" stroke-width="6.4"/><rect x="1083.3" y="994.43" width="21.3" height="32.23" fill="#fff"/><circle cx="1093.95" cy="952.89" r="5.2" fill="#fff"/><path d="M1112.98 959.59V1061.49" stroke="#fff" stroke-width="6.4"/><rect x="1102.33" y="994.43" width="21.3" height="32.23" fill="#fff"/><circle cx="1112.98" cy="938.47" r="5.2" fill="#fff"/><circle cx="1112.98" cy="952.89" r="5.2" fill="#fff"/><path d="M1132.01 916.35V1054.28" stroke="#fff" stroke-width="6.4"/><rect x="1121.35" y="965.6" width="21.3" height="39.43" fill="#fff"/><circle cx="1132.01" cy="895.23" r="5.2" fill="#fff"/><circle cx="1132.01" cy="909.65" r="5.2" fill="#fff"/><path d="M1151.03 959.59V1061.49" stroke="#fff" stroke-width="6.4"/><rect x="1140.38" y="994.43" width="21.3" height="32.23" fill="#fff"/><circle cx="1151.03" cy="945.68" r="5.2" fill="#fff"/><circle cx="1151.03" cy="952.89" r="5.2" fill="#fff"/><circle cx="1151.03" cy="1068.19" r="5.2" fill="#fff"/><path d="M1170.06 974.01V1054.28" stroke="#fff" stroke-width="6.4"/><rect x="1159.4" y="1001.63" width="21.3" height="25.02" fill="#fff"/><circle cx="1170.06" cy="945.68" r="5.2" fill="#fff"/><circle cx="1170.06" cy="952.89" r="5.2" fill="#fff"/><circle cx="1170.06" cy="960.09" r="5.2" fill="#fff"/><circle cx="1170.06" cy="967.3" r="5.2" fill="#fff"/><circle cx="1170.06" cy="1060.99" r="5.2" fill="#fff"/><circle cx="1170.06" cy="1068.19" r="5.2" fill="#fff"/></g>
<g><path d="M998.83 960.09V916.85M998.83 988.92V1032.16" stroke="#7e8183" stroke-width="2"/><polygon points="995.93,915.95 1001.73,915.95 999.83,918.35 997.83,918.35" fill="#55585a"/><polygon points="995.93,1033.06 1001.73,1033.06 999.83,1030.66 997.83,1030.66" fill="#55585a"/><rect x="990.68" y="960.09" width="16.3" height="28.83" rx="0.8" fill="#d3d5d5" stroke="#5a5d5f" stroke-width="1.8"/><path d="M990.68 974.51H1006.98" stroke="#585b5d" stroke-width="1.6"/><path d="M994.98 970.21L1002.68 977.51M994.98 977.51L1002.68 970.21" stroke="#111" stroke-width="1.12"/><circle cx="998.83" cy="895.23" r="2.0" fill="#bfc1c2" stroke="#686b6d" stroke-width="1.55"/><circle cx="998.83" cy="902.44" r="2.0" fill="#bfc1c2" stroke="#686b6d" stroke-width="1.55"/><circle cx="998.83" cy="909.65" r="2.0" fill="#bfc1c2" stroke="#686b6d" stroke-width="1.55"/><circle cx="998.83" cy="1039.37" r="2.0" fill="#bfc1c2" stroke="#686b6d" stroke-width="1.55"/><circle cx="998.83" cy="1046.57" r="2.0" fill="#bfc1c2" stroke="#686b6d" stroke-width="1.55"/><path d="M1017.86 960.09V916.85M1017.86 988.92V1032.16" stroke="#7e8183" stroke-width="2"/><polygon points="1014.96,915.95 1020.75,915.95 1018.86,918.35 1016.86,918.35" fill="#55585a"/><polygon points="1014.96,1033.06 1020.75,1033.06 1018.86,1030.66 1016.86,1030.66" fill="#55585a"/><rect x="1009.71" y="960.09" width="16.3" height="28.83" rx="0.8" fill="#d3d5d5" stroke="#5a5d5f" stroke-width="1.8"/><path d="M1009.71 974.51H1026.01" stroke="#585b5d" stroke-width="1.6"/><path d="M1014 970.21L1021.71 977.51M1014 977.51L1021.71 970.21" stroke="#111" stroke-width="1.12"/><circle cx="1017.86" cy="895.23" r="2.0" fill="#bfc1c2" stroke="#686b6d" stroke-width="1.55"/><circle cx="1017.86" cy="902.44" r="2.0" fill="#bfc1c2" stroke="#686b6d" stroke-width="1.55"/><circle cx="1017.86" cy="909.65" r="2.0" fill="#bfc1c2" stroke="#686b6d" stroke-width="1.55"/><circle cx="1017.86" cy="1039.37" r="2.0" fill="#bfc1c2" stroke="#686b6d" stroke-width="1.55"/><path d="M1036.88 960.09V909.65M1036.88 996.13V1039.37" stroke="#7e8183" stroke-width="2"/><polygon points="1033.98,908.75 1039.78,908.75 1037.88,911.15 1035.88,911.15" fill="#55585a"/><polygon points="1033.98,1040.27 1039.78,1040.27 1037.88,1037.87 1035.88,1037.87" fill="#55585a"/><rect x="1028.73" y="960.09" width="16.3" height="36.03" rx="0.8" fill="#d3d5d5" stroke="#5a5d5f" stroke-width="1.8"/><path d="M1028.73 981.71H1045.03" stroke="#585b5d" stroke-width="1.6"/><path d="M1033.03 974.6L1040.73 981.9M1033.03 981.9L1040.73 974.6" stroke="#111" stroke-width="1.12"/><circle cx="1036.88" cy="888.03" r="2.0" fill="#bfc1c2" stroke="#686b6d" stroke-width="1.55"/><circle cx="1036.88" cy="902.44" r="2.0" fill="#bfc1c2" stroke="#686b6d" stroke-width="1.55"/><circle cx="1036.88" cy="1053.78" r="2.0" fill="#bfc1c2" stroke="#686b6d" stroke-width="1.55"/><path d="M1055.9 988.92V945.68M1055.9 1017.75V1060.99" stroke="#7e8183" stroke-width="2"/><polygon points="1053,944.78 1058.81,944.78 1056.9,947.18 1054.9,947.18" fill="#55585a"/><polygon points="1053,1061.89 1058.81,1061.89 1056.9,1059.49 1054.9,1059.49" fill="#55585a"/><rect x="1047.75" y="988.92" width="16.3" height="28.83" rx="0.8" fill="#7a7d7e" stroke="#5a5d5f" stroke-width="1.8"/><path d="M1047.75 1003.33H1064.06" stroke="#3f4244" stroke-width="1.6"/><path d="M1052.06 998.17L1059.75 1005.47M1052.06 1005.47L1059.75 998.17" stroke="#111" stroke-width="1.12"/><circle cx="1055.9" cy="924.06" r="2.55" fill="#5a5d5f"/><circle cx="1055.9" cy="931.27" r="2.55" fill="#5a5d5f"/><circle cx="1055.9" cy="938.47" r="2.55" fill="#5a5d5f"/><path d="M1074.93 1017.75V988.92M1074.93 1039.37V1068.19" stroke="#7e8183" stroke-width="2"/><polygon points="1072.03,988.02 1077.83,988.02 1075.93,990.42 1073.93,990.42" fill="#55585a"/><polygon points="1072.03,1069.09 1077.83,1069.09 1075.93,1066.69 1073.93,1066.69" fill="#55585a"/><rect x="1066.78" y="1017.75" width="16.3" height="21.62" rx="0.8" fill="#ffffff" stroke="#5a5d5f" stroke-width="1.8"/><path d="M1066.78 1024.95H1083.08" stroke="#585b5d" stroke-width="1.6"/><path d="M1071.08 1023.61L1078.78 1030.91M1071.08 1030.91L1078.78 1023.61" stroke="#111" stroke-width="1.12"/><circle cx="1074.93" cy="952.89" r="2.0" fill="#bfc1c2" stroke="#686b6d" stroke-width="1.55"/><circle cx="1074.93" cy="967.3" r="2.0" fill="#bfc1c2" stroke="#686b6d" stroke-width="1.55"/><circle cx="1074.93" cy="974.51" r="2.0" fill="#bfc1c2" stroke="#686b6d" stroke-width="1.55"/><circle cx="1074.93" cy="981.71" r="2.0" fill="#bfc1c2" stroke="#686b6d" stroke-width="1.55"/><path d="M1093.95 996.13V960.09M1093.95 1024.95V1060.99" stroke="#7e8183" stroke-width="2"/><polygon points="1091.05,959.19 1096.86,959.19 1094.95,961.59 1092.95,961.59" fill="#55585a"/><polygon points="1091.05,1061.89 1096.86,1061.89 1094.95,1059.49 1092.95,1059.49" fill="#55585a"/><rect x="1085.8" y="996.13" width="16.3" height="28.83" rx="0.8" fill="#ffffff" stroke="#5a5d5f" stroke-width="1.8"/><path d="M1085.8 1010.54H1102.11" stroke="#585b5d" stroke-width="1.6"/><path d="M1090.11 1008.69L1097.8 1015.99M1090.11 1015.99L1097.8 1008.69" stroke="#111" stroke-width="1.12"/><circle cx="1093.95" cy="952.89" r="2.0" fill="#bfc1c2" stroke="#686b6d" stroke-width="1.55"/><path d="M1112.98 996.13V960.09M1112.98 1024.95V1060.99" stroke="#7e8183" stroke-width="2"/><polygon points="1110.08,959.19 1115.88,959.19 1113.98,961.59 1111.98,961.59" fill="#55585a"/><polygon points="1110.08,1061.89 1115.88,1061.89 1113.98,1059.49 1111.98,1059.49" fill="#55585a"/><rect x="1104.83" y="996.13" width="16.3" height="28.83" rx="0.8" fill="#7a7d7e" stroke="#5a5d5f" stroke-width="1.8"/><path d="M1104.83 1010.54H1121.13" stroke="#3f4244" stroke-width="1.6"/><path d="M1109.13 1007.83L1116.83 1015.13M1109.13 1015.13L1116.83 1007.83" stroke="#111" stroke-width="1.12"/><circle cx="1112.98" cy="938.47" r="2.55" fill="#5a5d5f"/><circle cx="1112.98" cy="952.89" r="2.55" fill="#5a5d5f"/><path d="M1132.01 967.3V916.85M1132.01 1003.33V1053.78" stroke="#7e8183" stroke-width="2"/><polygon points="1129.11,915.95 1134.91,915.95 1133.01,918.35 1131.01,918.35" fill="#55585a"/><polygon points="1129.11,1054.68 1134.91,1054.68 1133.01,1052.28 1131.01,1052.28" fill="#55585a"/><rect x="1123.86" y="967.3" width="16.3" height="36.03" rx="0.8" fill="#7a7d7e" stroke="#5a5d5f" stroke-width="1.8"/><path d="M1123.86 981.71H1140.16" stroke="#3f4244" stroke-width="1.6"/><path d="M1128.16 980.95L1135.86 988.25M1128.16 988.25L1135.86 980.95" stroke="#111" stroke-width="1.12"/><circle cx="1132.01" cy="895.23" r="2.55" fill="#5a5d5f"/><circle cx="1132.01" cy="909.65" r="2.55" fill="#5a5d5f"/><path d="M1151.03 996.13V960.09M1151.03 1024.95V1060.99" stroke="#7e8183" stroke-width="2"/><polygon points="1148.13,959.19 1153.93,959.19 1152.03,961.59 1150.03,961.59" fill="#55585a"/><polygon points="1148.13,1061.89 1153.93,1061.89 1152.03,1059.49 1150.03,1059.49" fill="#55585a"/><rect x="1142.88" y="996.13" width="16.3" height="28.83" rx="0.8" fill="#ffffff" stroke="#5a5d5f" stroke-width="1.8"/><path d="M1142.88 1010.54H1159.18" stroke="#585b5d" stroke-width="1.6"/><path d="M1147.18 1005.23L1154.88 1012.53M1147.18 1012.53L1154.88 1005.23" stroke="#111" stroke-width="1.12"/><circle cx="1151.03" cy="945.68" r="2.0" fill="#bfc1c2" stroke="#686b6d" stroke-width="1.55"/><circle cx="1151.03" cy="952.89" r="2.0" fill="#bfc1c2" stroke="#686b6d" stroke-width="1.55"/><circle cx="1151.03" cy="1068.19" r="2.0" fill="#bfc1c2" stroke="#686b6d" stroke-width="1.55"/><path d="M1170.06 1003.33V974.51M1170.06 1024.95V1053.78" stroke="#7e8183" stroke-width="2"/><polygon points="1167.15,973.61 1172.96,973.61 1171.06,976.01 1169.06,976.01" fill="#55585a"/><polygon points="1167.15,1054.68 1172.96,1054.68 1171.06,1052.28 1169.06,1052.28" fill="#55585a"/><rect x="1161.9" y="1003.33" width="16.3" height="21.62" rx="0.8" fill="#ffffff" stroke="#5a5d5f" stroke-width="1.8"/><path d="M1161.9 1017.75H1178.21" stroke="#585b5d" stroke-width="1.6"/><path d="M1166.21 1011L1173.9 1018.3M1166.21 1018.3L1173.9 1011" stroke="#111" stroke-width="1.12"/><circle cx="1170.06" cy="945.68" r="2.0" fill="#bfc1c2" stroke="#686b6d" stroke-width="1.55"/><circle cx="1170.06" cy="952.89" r="2.0" fill="#bfc1c2" stroke="#686b6d" stroke-width="1.55"/><circle cx="1170.06" cy="960.09" r="2.0" fill="#bfc1c2" stroke="#686b6d" stroke-width="1.55"/><circle cx="1170.06" cy="967.3" r="2.0" fill="#bfc1c2" stroke="#686b6d" stroke-width="1.55"/><circle cx="1170.06" cy="1060.99" r="2.0" fill="#bfc1c2" stroke="#686b6d" stroke-width="1.55"/><circle cx="1170.06" cy="1068.19" r="2.0" fill="#bfc1c2" stroke="#686b6d" stroke-width="1.55"/></g>
<path d="M322 1315.3H697M322 1293.57H697M322 1271.84H697M322 1250.11H697M322 1228.38H697M322 1206.65H697M322 1184.92H697M322 1163.19H697M322 1141.46H697M322 1119.73H697M322 1098H697M697 1316H986M697 1294.28H986M697 1272.56H986M697 1250.84H986M697 1229.12H986M697 1207.4H986M697 1185.68H986M697 1163.96H986M697 1142.24H986M697 1120.52H986M697 1098.8H986M986 1316H1190M986 1294.28H1190M986 1272.56H1190M986 1250.84H1190M986 1229.12H1190M986 1207.4H1190M986 1185.68H1190M986 1163.96H1190M986 1142.24H1190M986 1120.52H1190M986 1098.8H1190" stroke="#e3e3e3" stroke-width="1.9" fill="none"/>
<path d="M322 1097.1V1316.2" stroke="#e3e3e3" stroke-width="1.9" fill="none"/>
<text class="sans" x="314.3" y="1319.6" font-size="10.6" text-anchor="end" fill="#777" stroke="#777" stroke-width="0.4">0</text>
<text class="sans" x="314.3" y="1297.87" font-size="10.6" text-anchor="end" fill="#777" stroke="#777" stroke-width="0.4">0.05</text>
<text class="sans" x="314.3" y="1276.14" font-size="10.6" text-anchor="end" fill="#777" stroke="#777" stroke-width="0.4">0.1</text>
<text class="sans" x="314.3" y="1254.41" font-size="10.6" text-anchor="end" fill="#777" stroke="#777" stroke-width="0.4">0.15</text>
<text class="sans" x="314.3" y="1232.68" font-size="10.6" text-anchor="end" fill="#777" stroke="#777" stroke-width="0.4">0.2</text>
<text class="sans" x="314.3" y="1210.95" font-size="10.6" text-anchor="end" fill="#777" stroke="#777" stroke-width="0.4">0.25</text>
<text class="sans" x="314.3" y="1189.22" font-size="10.6" text-anchor="end" fill="#777" stroke="#777" stroke-width="0.4">0.3</text>
<text class="sans" x="314.3" y="1167.49" font-size="10.6" text-anchor="end" fill="#777" stroke="#777" stroke-width="0.4">0.35</text>
<text class="sans" x="314.3" y="1145.76" font-size="10.6" text-anchor="end" fill="#777" stroke="#777" stroke-width="0.4">0.4</text>
<text class="sans" x="314.3" y="1124.03" font-size="10.6" text-anchor="end" fill="#777" stroke="#777" stroke-width="0.4">0.45</text>
<text class="sans" x="314.3" y="1102.3" font-size="10.6" text-anchor="end" fill="#777" stroke="#777" stroke-width="0.4">0.5</text>
<text class="sans" transform="translate(283.4 1206.65) rotate(-90)" font-size="10.2" text-anchor="middle" fill="#707070" stroke="#707070" stroke-width="0.45">Mortality on ICU</text>
<g><path d="M424.32 1155.45V1265.1" stroke="#fff" stroke-width="6.4"/><rect x="413.67" y="1197.71" width="21.3" height="32.37" fill="#fff"/><circle cx="424.32" cy="1134.22" r="5.2" fill="#fff"/><circle cx="424.32" cy="1141.46" r="5.2" fill="#fff"/><circle cx="424.32" cy="1148.7" r="5.2" fill="#fff"/><circle cx="424.32" cy="1279.08" r="5.2" fill="#fff"/><circle cx="424.32" cy="1293.57" r="5.2" fill="#fff"/><path d="M443.27 1140.96V1272.34" stroke="#fff" stroke-width="6.4"/><rect x="432.63" y="1190.46" width="21.3" height="39.62" fill="#fff"/><circle cx="443.27" cy="1134.22" r="5.2" fill="#fff"/><path d="M462.23 1155.45V1272.34" stroke="#fff" stroke-width="6.4"/><rect x="451.58" y="1197.71" width="21.3" height="32.37" fill="#fff"/><circle cx="462.23" cy="1126.97" r="5.2" fill="#fff"/><circle cx="462.23" cy="1134.22" r="5.2" fill="#fff"/><circle cx="462.23" cy="1141.46" r="5.2" fill="#fff"/><circle cx="462.23" cy="1148.7" r="5.2" fill="#fff"/><circle cx="462.23" cy="1279.08" r="5.2" fill="#fff"/><path d="M481.19 1177.18V1279.58" stroke="#fff" stroke-width="6.4"/><rect x="470.54" y="1212.19" width="21.3" height="32.37" fill="#fff"/><circle cx="481.19" cy="1155.95" r="5.2" fill="#fff"/><circle cx="481.19" cy="1163.19" r="5.2" fill="#fff"/><circle cx="481.19" cy="1170.43" r="5.2" fill="#fff"/><circle cx="481.19" cy="1286.33" r="5.2" fill="#fff"/><circle cx="481.19" cy="1293.57" r="5.2" fill="#fff"/><path d="M500.14 1198.91V1301.31" stroke="#fff" stroke-width="6.4"/><rect x="489.49" y="1233.92" width="21.3" height="32.37" fill="#fff"/><circle cx="500.14" cy="1192.16" r="5.2" fill="#fff"/><path d="M519.1 1177.18V1286.83" stroke="#fff" stroke-width="6.4"/><rect x="508.45" y="1219.44" width="21.3" height="32.37" fill="#fff"/><circle cx="519.1" cy="1163.19" r="5.2" fill="#fff"/><circle cx="519.1" cy="1170.43" r="5.2" fill="#fff"/><circle cx="519.1" cy="1300.81" r="5.2" fill="#fff"/><circle cx="519.1" cy="1315.3" r="5.2" fill="#fff"/><path d="M538.05 1177.18V1294.07" stroke="#fff" stroke-width="6.4"/><rect x="527.4" y="1219.44" width="21.3" height="32.37" fill="#fff"/><circle cx="538.05" cy="1163.19" r="5.2" fill="#fff"/><circle cx="538.05" cy="1300.81" r="5.2" fill="#fff"/><path d="M557 1162.69V1279.58" stroke="#fff" stroke-width="6.4"/><rect x="546.36" y="1204.95" width="21.3" height="32.37" fill="#fff"/><circle cx="557" cy="1148.7" r="5.2" fill="#fff"/><circle cx="557" cy="1155.95" r="5.2" fill="#fff"/><circle cx="557" cy="1286.33" r="5.2" fill="#fff"/><path d="M575.96 1177.18V1294.07" stroke="#fff" stroke-width="6.4"/><rect x="565.31" y="1219.44" width="21.3" height="32.37" fill="#fff"/><circle cx="575.96" cy="1163.19" r="5.2" fill="#fff"/><circle cx="575.96" cy="1170.43" r="5.2" fill="#fff"/><circle cx="575.96" cy="1300.81" r="5.2" fill="#fff"/><path d="M594.91 1184.42V1301.31" stroke="#fff" stroke-width="6.4"/><rect x="584.26" y="1226.68" width="21.3" height="32.37" fill="#fff"/><circle cx="594.91" cy="1170.43" r="5.2" fill="#fff"/><circle cx="594.91" cy="1177.68" r="5.2" fill="#fff"/></g>
<g><path d="M424.32 1199.41V1155.95M424.32 1228.38V1264.6" stroke="#7e8183" stroke-width="2"/><polygon points="421.42,1155.05 427.22,1155.05 425.32,1157.45 423.32,1157.45" fill="#55585a"/><polygon points="421.42,1265.5 427.22,1265.5 425.32,1263.1 423.32,1263.1" fill="#55585a"/><rect x="416.17" y="1199.41" width="16.3" height="28.97" rx="0.8" fill="#d3d5d5" stroke="#5a5d5f" stroke-width="1.8"/><path d="M416.17 1213.89H432.47" stroke="#585b5d" stroke-width="1.6"/><path d="M420.47 1208.79L428.17 1216.09M420.47 1216.09L428.17 1208.79" stroke="#111" stroke-width="1.12"/><circle cx="424.32" cy="1134.22" r="2.0" fill="#bfc1c2" stroke="#686b6d" stroke-width="1.55"/><circle cx="424.32" cy="1141.46" r="2.0" fill="#bfc1c2" stroke="#686b6d" stroke-width="1.55"/><circle cx="424.32" cy="1148.7" r="2.0" fill="#bfc1c2" stroke="#686b6d" stroke-width="1.55"/><circle cx="424.32" cy="1279.08" r="2.0" fill="#bfc1c2" stroke="#686b6d" stroke-width="1.55"/><circle cx="424.32" cy="1293.57" r="2.0" fill="#bfc1c2" stroke="#686b6d" stroke-width="1.55"/><path d="M443.27 1192.16V1141.46M443.27 1228.38V1271.84" stroke="#7e8183" stroke-width="2"/><polygon points="440.38,1140.56 446.17,1140.56 444.27,1142.96 442.27,1142.96" fill="#55585a"/><polygon points="440.38,1272.74 446.17,1272.74 444.27,1270.34 442.27,1270.34" fill="#55585a"/><rect x="435.12" y="1192.16" width="16.3" height="36.22" rx="0.8" fill="#d3d5d5" stroke="#5a5d5f" stroke-width="1.8"/><path d="M435.12 1213.89H451.42" stroke="#585b5d" stroke-width="1.6"/><path d="M439.42 1209.23L447.12 1216.53M439.42 1216.53L447.12 1209.23" stroke="#111" stroke-width="1.12"/><circle cx="443.27" cy="1134.22" r="2.0" fill="#bfc1c2" stroke="#686b6d" stroke-width="1.55"/><path d="M462.23 1199.41V1155.95M462.23 1228.38V1271.84" stroke="#7e8183" stroke-width="2"/><polygon points="459.33,1155.05 465.13,1155.05 463.23,1157.45 461.23,1157.45" fill="#55585a"/><polygon points="459.33,1272.74 465.13,1272.74 463.23,1270.34 461.23,1270.34" fill="#55585a"/><rect x="454.08" y="1199.41" width="16.3" height="28.97" rx="0.8" fill="#d3d5d5" stroke="#5a5d5f" stroke-width="1.8"/><path d="M454.08 1213.89H470.38" stroke="#585b5d" stroke-width="1.6"/><path d="M458.38 1208.79L466.08 1216.09M458.38 1216.09L466.08 1208.79" stroke="#111" stroke-width="1.12"/><circle cx="462.23" cy="1126.97" r="2.0" fill="#bfc1c2" stroke="#686b6d" stroke-width="1.55"/><circle cx="462.23" cy="1134.22" r="2.0" fill="#bfc1c2" stroke="#686b6d" stroke-width="1.55"/><circle cx="462.23" cy="1141.46" r="2.0" fill="#bfc1c2" stroke="#686b6d" stroke-width="1.55"/><circle cx="462.23" cy="1148.7" r="2.0" fill="#bfc1c2" stroke="#686b6d" stroke-width="1.55"/><circle cx="462.23" cy="1279.08" r="2.0" fill="#bfc1c2" stroke="#686b6d" stroke-width="1.55"/><path d="M481.19 1213.89V1177.68M481.19 1242.87V1279.08" stroke="#7e8183" stroke-width="2"/><polygon points="478.29,1176.78 484.08,1176.78 482.19,1179.18 480.19,1179.18" fill="#55585a"/><polygon points="478.29,1279.98 484.08,1279.98 482.19,1277.58 480.19,1277.58" fill="#55585a"/><rect x="473.04" y="1213.89" width="16.3" height="28.97" rx="0.8" fill="#7a7d7e" stroke="#5a5d5f" stroke-width="1.8"/><path d="M473.04 1228.38H489.33" stroke="#3f4244" stroke-width="1.6"/><path d="M477.33 1226.69L485.04 1233.99M477.33 1233.99L485.04 1226.69" stroke="#111" stroke-width="1.12"/><circle cx="481.19" cy="1155.95" r="2.55" fill="#5a5d5f"/><circle cx="481.19" cy="1163.19" r="2.55" fill="#5a5d5f"/><circle cx="481.19" cy="1170.43" r="2.55" fill="#5a5d5f"/><circle cx="481.19" cy="1286.33" r="2.55" fill="#5a5d5f"/><circle cx="481.19" cy="1293.57" r="2.55" fill="#5a5d5f"/><path d="M500.14 1235.62V1199.41M500.14 1264.6V1300.81" stroke="#7e8183" stroke-width="2"/><polygon points="497.24,1198.51 503.04,1198.51 501.14,1200.91 499.14,1200.91" fill="#55585a"/><polygon points="497.24,1301.71 503.04,1301.71 501.14,1299.31 499.14,1299.31" fill="#55585a"/><rect x="491.99" y="1235.62" width="16.3" height="28.97" rx="0.8" fill="#ffffff" stroke="#5a5d5f" stroke-width="1.8"/><path d="M491.99 1250.11H508.29" stroke="#585b5d" stroke-width="1.6"/><path d="M496.29 1247.69L503.99 1254.99M496.29 1254.99L503.99 1247.69" stroke="#111" stroke-width="1.12"/><circle cx="500.14" cy="1192.16" r="2.0" fill="#bfc1c2" stroke="#686b6d" stroke-width="1.55"/><path d="M519.1 1221.14V1177.68M519.1 1250.11V1286.33" stroke="#7e8183" stroke-width="2"/><polygon points="516.2,1176.78 522,1176.78 520.1,1179.18 518.1,1179.18" fill="#55585a"/><polygon points="516.2,1287.23 522,1287.23 520.1,1284.83 518.1,1284.83" fill="#55585a"/><rect x="510.95" y="1221.14" width="16.3" height="28.97" rx="0.8" fill="#ffffff" stroke="#5a5d5f" stroke-width="1.8"/><path d="M510.95 1242.87H527.25" stroke="#585b5d" stroke-width="1.6"/><path d="M515.25 1233.71L522.95 1241.01M515.25 1241.01L522.95 1233.71" stroke="#111" stroke-width="1.12"/><circle cx="519.1" cy="1163.19" r="2.0" fill="#bfc1c2" stroke="#686b6d" stroke-width="1.55"/><circle cx="519.1" cy="1170.43" r="2.0" fill="#bfc1c2" stroke="#686b6d" stroke-width="1.55"/><circle cx="519.1" cy="1300.81" r="2.0" fill="#bfc1c2" stroke="#686b6d" stroke-width="1.55"/><circle cx="519.1" cy="1315.3" r="2.0" fill="#bfc1c2" stroke="#686b6d" stroke-width="1.55"/><path d="M538.05 1221.14V1177.68M538.05 1250.11V1293.57" stroke="#7e8183" stroke-width="2"/><polygon points="535.15,1176.78 540.95,1176.78 539.05,1179.18 537.05,1179.18" fill="#55585a"/><polygon points="535.15,1294.47 540.95,1294.47 539.05,1292.07 537.05,1292.07" fill="#55585a"/><rect x="529.9" y="1221.14" width="16.3" height="28.97" rx="0.8" fill="#7a7d7e" stroke="#5a5d5f" stroke-width="1.8"/><path d="M529.9 1235.62H546.2" stroke="#3f4244" stroke-width="1.6"/><path d="M534.2 1232.48L541.9 1239.78M534.2 1239.78L541.9 1232.48" stroke="#111" stroke-width="1.12"/><circle cx="538.05" cy="1163.19" r="2.55" fill="#5a5d5f"/><circle cx="538.05" cy="1300.81" r="2.55" fill="#5a5d5f"/><path d="M557 1206.65V1163.19M557 1235.62V1279.08" stroke="#7e8183" stroke-width="2"/><polygon points="554.11,1162.29 559.9,1162.29 558,1164.69 556,1164.69" fill="#55585a"/><polygon points="554.11,1279.98 559.9,1279.98 558,1277.58 556,1277.58" fill="#55585a"/><rect x="548.86" y="1206.65" width="16.3" height="28.97" rx="0.8" fill="#7a7d7e" stroke="#5a5d5f" stroke-width="1.8"/><path d="M548.86 1221.14H565.15" stroke="#3f4244" stroke-width="1.6"/><path d="M553.15 1216.76L560.86 1224.06M553.15 1224.06L560.86 1216.76" stroke="#111" stroke-width="1.12"/><circle cx="557" cy="1148.7" r="2.55" fill="#5a5d5f"/><circle cx="557" cy="1155.95" r="2.55" fill="#5a5d5f"/><circle cx="557" cy="1286.33" r="2.55" fill="#5a5d5f"/><path d="M575.96 1221.14V1177.68M575.96 1250.11V1293.57" stroke="#7e8183" stroke-width="2"/><polygon points="573.06,1176.78 578.86,1176.78 576.96,1179.18 574.96,1179.18" fill="#55585a"/><polygon points="573.06,1294.47 578.86,1294.47 576.96,1292.07 574.96,1292.07" fill="#55585a"/><rect x="567.81" y="1221.14" width="16.3" height="28.97" rx="0.8" fill="#ffffff" stroke="#5a5d5f" stroke-width="1.8"/><path d="M567.81 1239.24H584.11" stroke="#585b5d" stroke-width="1.6"/><path d="M572.11 1234.22L579.81 1241.52M572.11 1241.52L579.81 1234.22" stroke="#111" stroke-width="1.12"/><circle cx="575.96" cy="1163.19" r="2.0" fill="#bfc1c2" stroke="#686b6d" stroke-width="1.55"/><circle cx="575.96" cy="1170.43" r="2.0" fill="#bfc1c2" stroke="#686b6d" stroke-width="1.55"/><circle cx="575.96" cy="1300.81" r="2.0" fill="#bfc1c2" stroke="#686b6d" stroke-width="1.55"/><path d="M594.91 1228.38V1184.92M594.91 1257.35V1300.81" stroke="#7e8183" stroke-width="2"/><polygon points="592.01,1184.02 597.81,1184.02 595.91,1186.42 593.91,1186.42" fill="#55585a"/><polygon points="592.01,1301.71 597.81,1301.71 595.91,1299.31 593.91,1299.31" fill="#55585a"/><rect x="586.76" y="1228.38" width="16.3" height="28.97" rx="0.8" fill="#ffffff" stroke="#5a5d5f" stroke-width="1.8"/><path d="M586.76 1242.87H603.06" stroke="#585b5d" stroke-width="1.6"/><path d="M591.06 1237.19L598.76 1244.49M591.06 1244.49L598.76 1237.19" stroke="#111" stroke-width="1.12"/><circle cx="594.91" cy="1170.43" r="2.0" fill="#bfc1c2" stroke="#686b6d" stroke-width="1.55"/><circle cx="594.91" cy="1177.68" r="2.0" fill="#bfc1c2" stroke="#686b6d" stroke-width="1.55"/></g>
<g><path d="M713.52 1156.22V1265.82" stroke="#fff" stroke-width="6.4"/><rect x="702.87" y="1198.46" width="21.3" height="32.36" fill="#fff"/><circle cx="713.52" cy="1135" r="5.2" fill="#fff"/><circle cx="713.52" cy="1142.24" r="5.2" fill="#fff"/><circle cx="713.52" cy="1149.48" r="5.2" fill="#fff"/><circle cx="713.52" cy="1279.8" r="5.2" fill="#fff"/><circle cx="713.52" cy="1294.28" r="5.2" fill="#fff"/><path d="M732.52 1141.74V1273.06" stroke="#fff" stroke-width="6.4"/><rect x="721.87" y="1191.22" width="21.3" height="39.6" fill="#fff"/><path d="M751.52 1148.98V1280.3" stroke="#fff" stroke-width="6.4"/><rect x="740.87" y="1198.46" width="21.3" height="39.6" fill="#fff"/><path d="M770.53 1185.18V1294.78" stroke="#fff" stroke-width="6.4"/><rect x="759.88" y="1227.42" width="21.3" height="32.36" fill="#fff"/><circle cx="770.53" cy="1178.44" r="5.2" fill="#fff"/><path d="M789.53 1235.86V1316.5" stroke="#fff" stroke-width="6.4"/><rect x="778.88" y="1263.62" width="21.3" height="25.12" fill="#fff"/><circle cx="789.53" cy="1207.4" r="5.2" fill="#fff"/><circle cx="789.53" cy="1229.12" r="5.2" fill="#fff"/><path d="M808.53 1199.66V1309.26" stroke="#fff" stroke-width="6.4"/><rect x="797.88" y="1241.9" width="21.3" height="32.36" fill="#fff"/><path d="M827.53 1199.66V1302.02" stroke="#fff" stroke-width="6.4"/><rect x="816.88" y="1241.9" width="21.3" height="32.36" fill="#fff"/><circle cx="827.53" cy="1192.92" r="5.2" fill="#fff"/><path d="M846.53 1156.22V1294.78" stroke="#fff" stroke-width="6.4"/><rect x="835.88" y="1205.7" width="21.3" height="39.6" fill="#fff"/><circle cx="846.53" cy="1127.76" r="5.2" fill="#fff"/><path d="M865.54 1199.66V1309.26" stroke="#fff" stroke-width="6.4"/><rect x="854.89" y="1241.9" width="21.3" height="32.36" fill="#fff"/><path d="M884.54 1206.9V1309.26" stroke="#fff" stroke-width="6.4"/><rect x="873.89" y="1249.14" width="21.3" height="32.36" fill="#fff"/><circle cx="884.54" cy="1192.92" r="5.2" fill="#fff"/></g>
<g><path d="M713.52 1200.16V1156.72M713.52 1229.12V1265.32" stroke="#7e8183" stroke-width="2"/><polygon points="710.62,1155.82 716.42,1155.82 714.52,1158.22 712.52,1158.22" fill="#55585a"/><polygon points="710.62,1266.22 716.42,1266.22 714.52,1263.82 712.52,1263.82" fill="#55585a"/><rect x="705.37" y="1200.16" width="16.3" height="28.96" rx="0.8" fill="#d3d5d5" stroke="#5a5d5f" stroke-width="1.8"/><path d="M705.37 1214.64H721.67" stroke="#585b5d" stroke-width="1.6"/><path d="M709.67 1209.54L717.37 1216.84M709.67 1216.84L717.37 1209.54" stroke="#111" stroke-width="1.12"/><circle cx="713.52" cy="1135" r="2.0" fill="#bfc1c2" stroke="#686b6d" stroke-width="1.55"/><circle cx="713.52" cy="1142.24" r="2.0" fill="#bfc1c2" stroke="#686b6d" stroke-width="1.55"/><circle cx="713.52" cy="1149.48" r="2.0" fill="#bfc1c2" stroke="#686b6d" stroke-width="1.55"/><circle cx="713.52" cy="1279.8" r="2.0" fill="#bfc1c2" stroke="#686b6d" stroke-width="1.55"/><circle cx="713.52" cy="1294.28" r="2.0" fill="#bfc1c2" stroke="#686b6d" stroke-width="1.55"/><path d="M732.52 1192.92V1142.24M732.52 1229.12V1272.56" stroke="#7e8183" stroke-width="2"/><polygon points="729.62,1141.34 735.42,1141.34 733.52,1143.74 731.52,1143.74" fill="#55585a"/><polygon points="729.62,1273.46 735.42,1273.46 733.52,1271.06 731.52,1271.06" fill="#55585a"/><rect x="724.37" y="1192.92" width="16.3" height="36.2" rx="0.8" fill="#d3d5d5" stroke="#5a5d5f" stroke-width="1.8"/><path d="M724.37 1214.64H740.67" stroke="#585b5d" stroke-width="1.6"/><path d="M728.67 1209.54L736.37 1216.84M728.67 1216.84L736.37 1209.54" stroke="#111" stroke-width="1.12"/><path d="M751.52 1200.16V1149.48M751.52 1236.36V1279.8" stroke="#7e8183" stroke-width="2"/><polygon points="748.62,1148.58 754.42,1148.58 752.52,1150.98 750.52,1150.98" fill="#55585a"/><polygon points="748.62,1280.7 754.42,1280.7 752.52,1278.3 750.52,1278.3" fill="#55585a"/><rect x="743.37" y="1200.16" width="16.3" height="36.2" rx="0.8" fill="#d3d5d5" stroke="#5a5d5f" stroke-width="1.8"/><path d="M743.37 1221.88H759.67" stroke="#585b5d" stroke-width="1.6"/><path d="M747.67 1213.89L755.37 1221.19M747.67 1221.19L755.37 1213.89" stroke="#111" stroke-width="1.12"/><path d="M770.53 1229.12V1185.68M770.53 1258.08V1294.28" stroke="#7e8183" stroke-width="2"/><polygon points="767.63,1184.78 773.43,1184.78 771.53,1187.18 769.53,1187.18" fill="#55585a"/><polygon points="767.63,1295.18 773.43,1295.18 771.53,1292.78 769.53,1292.78" fill="#55585a"/><rect x="762.38" y="1229.12" width="16.3" height="28.96" rx="0.8" fill="#7a7d7e" stroke="#5a5d5f" stroke-width="1.8"/><path d="M762.38 1243.6H778.68" stroke="#3f4244" stroke-width="1.6"/><path d="M766.68 1240.09L774.38 1247.39M766.68 1247.39L774.38 1240.09" stroke="#111" stroke-width="1.12"/><circle cx="770.53" cy="1178.44" r="2.55" fill="#5a5d5f"/><path d="M789.53 1265.32V1236.36M789.53 1287.04V1316" stroke="#7e8183" stroke-width="2"/><polygon points="786.63,1235.46 792.43,1235.46 790.53,1237.86 788.53,1237.86" fill="#55585a"/><polygon points="786.63,1316.9 792.43,1316.9 790.53,1314.5 788.53,1314.5" fill="#55585a"/><rect x="781.38" y="1265.32" width="16.3" height="21.72" rx="0.8" fill="#ffffff" stroke="#5a5d5f" stroke-width="1.8"/><path d="M781.38 1272.56H797.68" stroke="#585b5d" stroke-width="1.6"/><path d="M785.68 1271.3L793.38 1278.6M785.68 1278.6L793.38 1271.3" stroke="#111" stroke-width="1.12"/><circle cx="789.53" cy="1207.4" r="2.0" fill="#bfc1c2" stroke="#686b6d" stroke-width="1.55"/><circle cx="789.53" cy="1229.12" r="2.0" fill="#bfc1c2" stroke="#686b6d" stroke-width="1.55"/><path d="M808.53 1243.6V1200.16M808.53 1272.56V1308.76" stroke="#7e8183" stroke-width="2"/><polygon points="805.63,1199.26 811.43,1199.26 809.53,1201.66 807.53,1201.66" fill="#55585a"/><polygon points="805.63,1309.66 811.43,1309.66 809.53,1307.26 807.53,1307.26" fill="#55585a"/><rect x="800.38" y="1243.6" width="16.3" height="28.96" rx="0.8" fill="#ffffff" stroke="#5a5d5f" stroke-width="1.8"/><path d="M800.38 1258.08H816.68" stroke="#585b5d" stroke-width="1.6"/><path d="M804.68 1253.27L812.38 1260.57M804.68 1260.57L812.38 1253.27" stroke="#111" stroke-width="1.12"/><path d="M827.53 1243.6V1200.16M827.53 1272.56V1301.52" stroke="#7e8183" stroke-width="2"/><polygon points="824.63,1199.26 830.43,1199.26 828.53,1201.66 826.53,1201.66" fill="#55585a"/><polygon points="824.63,1302.42 830.43,1302.42 828.53,1300.02 826.53,1300.02" fill="#55585a"/><rect x="819.38" y="1243.6" width="16.3" height="28.96" rx="0.8" fill="#7a7d7e" stroke="#5a5d5f" stroke-width="1.8"/><path d="M819.38 1258.08H835.68" stroke="#3f4244" stroke-width="1.6"/><path d="M823.68 1252.76L831.38 1260.06M823.68 1260.06L831.38 1252.76" stroke="#111" stroke-width="1.12"/><circle cx="827.53" cy="1192.92" r="2.55" fill="#5a5d5f"/><path d="M846.53 1207.4V1156.72M846.53 1243.6V1294.28" stroke="#7e8183" stroke-width="2"/><polygon points="843.63,1155.82 849.43,1155.82 847.53,1158.22 845.53,1158.22" fill="#55585a"/><polygon points="843.63,1295.18 849.43,1295.18 847.53,1292.78 845.53,1292.78" fill="#55585a"/><rect x="838.38" y="1207.4" width="16.3" height="36.2" rx="0.8" fill="#7a7d7e" stroke="#5a5d5f" stroke-width="1.8"/><path d="M838.38 1229.12H854.68" stroke="#3f4244" stroke-width="1.6"/><path d="M842.68 1222.21L850.38 1229.51M842.68 1229.51L850.38 1222.21" stroke="#111" stroke-width="1.12"/><circle cx="846.53" cy="1127.76" r="2.55" fill="#5a5d5f"/><path d="M865.54 1243.6V1200.16M865.54 1272.56V1308.76" stroke="#7e8183" stroke-width="2"/><polygon points="862.64,1199.26 868.44,1199.26 866.54,1201.66 864.54,1201.66" fill="#55585a"/><polygon points="862.64,1309.66 868.44,1309.66 866.54,1307.26 864.54,1307.26" fill="#55585a"/><rect x="857.39" y="1243.6" width="16.3" height="28.96" rx="0.8" fill="#ffffff" stroke="#5a5d5f" stroke-width="1.8"/><path d="M857.39 1258.08H873.69" stroke="#585b5d" stroke-width="1.6"/><path d="M861.69 1255.01L869.39 1262.31M861.69 1262.31L869.39 1255.01" stroke="#111" stroke-width="1.12"/><path d="M884.54 1250.84V1207.4M884.54 1279.8V1308.76" stroke="#7e8183" stroke-width="2"/><polygon points="881.64,1206.5 887.44,1206.5 885.54,1208.9 883.54,1208.9" fill="#55585a"/><polygon points="881.64,1309.66 887.44,1309.66 885.54,1307.26 883.54,1307.26" fill="#55585a"/><rect x="876.39" y="1250.84" width="16.3" height="28.96" rx="0.8" fill="#ffffff" stroke="#5a5d5f" stroke-width="1.8"/><path d="M876.39 1265.32H892.69" stroke="#585b5d" stroke-width="1.6"/><path d="M880.69 1260.22L888.39 1267.52M880.69 1267.52L888.39 1260.22" stroke="#111" stroke-width="1.12"/><circle cx="884.54" cy="1192.92" r="2.0" fill="#bfc1c2" stroke="#686b6d" stroke-width="1.55"/></g>
<g><path d="M1001.6 1156.22V1265.82" stroke="#fff" stroke-width="6.4"/><rect x="990.95" y="1198.46" width="21.3" height="32.36" fill="#fff"/><circle cx="1001.6" cy="1135" r="5.2" fill="#fff"/><circle cx="1001.6" cy="1142.24" r="5.2" fill="#fff"/><circle cx="1001.6" cy="1149.48" r="5.2" fill="#fff"/><circle cx="1001.6" cy="1279.8" r="5.2" fill="#fff"/><circle cx="1001.6" cy="1294.28" r="5.2" fill="#fff"/><path d="M1020.54 1156.22V1273.06" stroke="#fff" stroke-width="6.4"/><rect x="1009.89" y="1198.46" width="21.3" height="32.36" fill="#fff"/><circle cx="1020.54" cy="1135" r="5.2" fill="#fff"/><circle cx="1020.54" cy="1142.24" r="5.2" fill="#fff"/><circle cx="1020.54" cy="1149.48" r="5.2" fill="#fff"/><path d="M1039.48 1148.98V1280.3" stroke="#fff" stroke-width="6.4"/><rect x="1028.83" y="1198.46" width="21.3" height="37.79" fill="#fff"/><circle cx="1039.48" cy="1120.52" r="5.2" fill="#fff"/><circle cx="1039.48" cy="1142.24" r="5.2" fill="#fff"/><path d="M1058.41 1214.14V1294.78" stroke="#fff" stroke-width="6.4"/><rect x="1047.76" y="1241.9" width="21.3" height="25.12" fill="#fff"/><circle cx="1058.41" cy="1171.2" r="5.2" fill="#fff"/><circle cx="1058.41" cy="1185.68" r="5.2" fill="#fff"/><circle cx="1058.41" cy="1192.92" r="5.2" fill="#fff"/><circle cx="1058.41" cy="1200.16" r="5.2" fill="#fff"/><circle cx="1058.41" cy="1207.4" r="5.2" fill="#fff"/><circle cx="1058.41" cy="1301.52" r="5.2" fill="#fff"/><circle cx="1058.41" cy="1308.76" r="5.2" fill="#fff"/><path d="M1077.35 1250.34V1316.5" stroke="#fff" stroke-width="6.4"/><rect x="1066.7" y="1278.1" width="21.3" height="25.12" fill="#fff"/><circle cx="1077.35" cy="1236.36" r="5.2" fill="#fff"/><circle cx="1077.35" cy="1243.6" r="5.2" fill="#fff"/><path d="M1096.29 1228.62V1309.26" stroke="#fff" stroke-width="6.4"/><rect x="1085.64" y="1256.38" width="21.3" height="25.12" fill="#fff"/><circle cx="1096.29" cy="1200.16" r="5.2" fill="#fff"/><circle cx="1096.29" cy="1214.64" r="5.2" fill="#fff"/><circle cx="1096.29" cy="1221.88" r="5.2" fill="#fff"/><circle cx="1096.29" cy="1316" r="5.2" fill="#fff"/><path d="M1115.23 1228.62V1309.26" stroke="#fff" stroke-width="6.4"/><rect x="1104.58" y="1256.38" width="21.3" height="25.12" fill="#fff"/><circle cx="1115.23" cy="1200.16" r="5.2" fill="#fff"/><circle cx="1115.23" cy="1214.64" r="5.2" fill="#fff"/><circle cx="1115.23" cy="1221.88" r="5.2" fill="#fff"/><circle cx="1115.23" cy="1316" r="5.2" fill="#fff"/><path d="M1134.17 1156.22V1280.3" stroke="#fff" stroke-width="6.4"/><rect x="1123.52" y="1205.7" width="21.3" height="39.6" fill="#fff"/><circle cx="1134.17" cy="1120.52" r="5.2" fill="#fff"/><circle cx="1134.17" cy="1135" r="5.2" fill="#fff"/><circle cx="1134.17" cy="1142.24" r="5.2" fill="#fff"/><path d="M1153.1 1235.86V1316.5" stroke="#fff" stroke-width="6.4"/><rect x="1142.45" y="1263.62" width="21.3" height="25.12" fill="#fff"/><circle cx="1153.1" cy="1214.64" r="5.2" fill="#fff"/><circle cx="1153.1" cy="1221.88" r="5.2" fill="#fff"/><circle cx="1153.1" cy="1229.12" r="5.2" fill="#fff"/><path d="M1172.04 1235.86V1316.5" stroke="#fff" stroke-width="6.4"/><rect x="1161.39" y="1263.62" width="21.3" height="25.12" fill="#fff"/><circle cx="1172.04" cy="1214.64" r="5.2" fill="#fff"/><circle cx="1172.04" cy="1229.12" r="5.2" fill="#fff"/></g>
<g><path d="M1001.6 1200.16V1156.72M1001.6 1229.12V1265.32" stroke="#7e8183" stroke-width="2"/><polygon points="998.7,1155.82 1004.5,1155.82 1002.6,1158.22 1000.6,1158.22" fill="#55585a"/><polygon points="998.7,1266.22 1004.5,1266.22 1002.6,1263.82 1000.6,1263.82" fill="#55585a"/><rect x="993.45" y="1200.16" width="16.3" height="28.96" rx="0.8" fill="#d3d5d5" stroke="#5a5d5f" stroke-width="1.8"/><path d="M993.45 1214.64H1009.75" stroke="#585b5d" stroke-width="1.6"/><path d="M997.75 1209.18L1005.45 1216.48M997.75 1216.48L1005.45 1209.18" stroke="#111" stroke-width="1.12"/><circle cx="1001.6" cy="1135" r="2.0" fill="#bfc1c2" stroke="#686b6d" stroke-width="1.55"/><circle cx="1001.6" cy="1142.24" r="2.0" fill="#bfc1c2" stroke="#686b6d" stroke-width="1.55"/><circle cx="1001.6" cy="1149.48" r="2.0" fill="#bfc1c2" stroke="#686b6d" stroke-width="1.55"/><circle cx="1001.6" cy="1279.8" r="2.0" fill="#bfc1c2" stroke="#686b6d" stroke-width="1.55"/><circle cx="1001.6" cy="1294.28" r="2.0" fill="#bfc1c2" stroke="#686b6d" stroke-width="1.55"/><path d="M1020.54 1200.16V1156.72M1020.54 1229.12V1272.56" stroke="#7e8183" stroke-width="2"/><polygon points="1017.64,1155.82 1023.44,1155.82 1021.54,1158.22 1019.54,1158.22" fill="#55585a"/><polygon points="1017.64,1273.46 1023.44,1273.46 1021.54,1271.06 1019.54,1271.06" fill="#55585a"/><rect x="1012.39" y="1200.16" width="16.3" height="28.96" rx="0.8" fill="#d3d5d5" stroke="#5a5d5f" stroke-width="1.8"/><path d="M1012.39 1214.64H1028.69" stroke="#585b5d" stroke-width="1.6"/><path d="M1016.69 1209.69L1024.39 1216.99M1016.69 1216.99L1024.39 1209.69" stroke="#111" stroke-width="1.12"/><circle cx="1020.54" cy="1135" r="2.0" fill="#bfc1c2" stroke="#686b6d" stroke-width="1.55"/><circle cx="1020.54" cy="1142.24" r="2.0" fill="#bfc1c2" stroke="#686b6d" stroke-width="1.55"/><circle cx="1020.54" cy="1149.48" r="2.0" fill="#bfc1c2" stroke="#686b6d" stroke-width="1.55"/><path d="M1039.48 1200.16V1149.48M1039.48 1234.55V1279.8" stroke="#7e8183" stroke-width="2"/><polygon points="1036.58,1148.58 1042.38,1148.58 1040.48,1150.98 1038.48,1150.98" fill="#55585a"/><polygon points="1036.58,1280.7 1042.38,1280.7 1040.48,1278.3 1038.48,1278.3" fill="#55585a"/><rect x="1031.33" y="1200.16" width="16.3" height="34.39" rx="0.8" fill="#d3d5d5" stroke="#5a5d5f" stroke-width="1.8"/><path d="M1031.33 1214.64H1047.63" stroke="#585b5d" stroke-width="1.6"/><path d="M1035.63 1212.66L1043.33 1219.96M1035.63 1219.96L1043.33 1212.66" stroke="#111" stroke-width="1.12"/><circle cx="1039.48" cy="1120.52" r="2.0" fill="#bfc1c2" stroke="#686b6d" stroke-width="1.55"/><circle cx="1039.48" cy="1142.24" r="2.0" fill="#bfc1c2" stroke="#686b6d" stroke-width="1.55"/><path d="M1058.41 1243.6V1214.64M1058.41 1265.32V1294.28" stroke="#7e8183" stroke-width="2"/><polygon points="1055.51,1213.74 1061.31,1213.74 1059.41,1216.14 1057.41,1216.14" fill="#55585a"/><polygon points="1055.51,1295.18 1061.31,1295.18 1059.41,1292.78 1057.41,1292.78" fill="#55585a"/><rect x="1050.26" y="1243.6" width="16.3" height="21.72" rx="0.8" fill="#7a7d7e" stroke="#5a5d5f" stroke-width="1.8"/><path d="M1050.26 1250.84H1066.56" stroke="#3f4244" stroke-width="1.6"/><path d="M1054.56 1248.86L1062.26 1256.16M1054.56 1256.16L1062.26 1248.86" stroke="#111" stroke-width="1.12"/><circle cx="1058.41" cy="1171.2" r="2.55" fill="#5a5d5f"/><circle cx="1058.41" cy="1185.68" r="2.55" fill="#5a5d5f"/><circle cx="1058.41" cy="1192.92" r="2.55" fill="#5a5d5f"/><circle cx="1058.41" cy="1200.16" r="2.55" fill="#5a5d5f"/><circle cx="1058.41" cy="1207.4" r="2.55" fill="#5a5d5f"/><circle cx="1058.41" cy="1301.52" r="2.55" fill="#5a5d5f"/><circle cx="1058.41" cy="1308.76" r="2.55" fill="#5a5d5f"/><path d="M1077.35 1279.8V1250.84M1077.35 1301.52V1316" stroke="#7e8183" stroke-width="2"/><polygon points="1074.45,1249.94 1080.25,1249.94 1078.35,1252.34 1076.35,1252.34" fill="#55585a"/><polygon points="1074.45,1316.9 1080.25,1316.9 1078.35,1314.5 1076.35,1314.5" fill="#55585a"/><rect x="1069.2" y="1279.8" width="16.3" height="21.72" rx="0.8" fill="#ffffff" stroke="#5a5d5f" stroke-width="1.8"/><path d="M1069.2 1287.04H1085.5" stroke="#585b5d" stroke-width="1.6"/><path d="M1073.5 1284.84L1081.2 1292.14M1073.5 1292.14L1081.2 1284.84" stroke="#111" stroke-width="1.12"/><circle cx="1077.35" cy="1236.36" r="2.0" fill="#bfc1c2" stroke="#686b6d" stroke-width="1.55"/><circle cx="1077.35" cy="1243.6" r="2.0" fill="#bfc1c2" stroke="#686b6d" stroke-width="1.55"/><path d="M1096.29 1258.08V1229.12M1096.29 1279.8V1308.76" stroke="#7e8183" stroke-width="2"/><polygon points="1093.39,1228.22 1099.19,1228.22 1097.29,1230.62 1095.29,1230.62" fill="#55585a"/><polygon points="1093.39,1309.66 1099.19,1309.66 1097.29,1307.26 1095.29,1307.26" fill="#55585a"/><rect x="1088.14" y="1258.08" width="16.3" height="21.72" rx="0.8" fill="#ffffff" stroke="#5a5d5f" stroke-width="1.8"/><path d="M1088.14 1272.56H1104.44" stroke="#585b5d" stroke-width="1.6"/><path d="M1092.44 1264.78L1100.14 1272.08M1092.44 1272.08L1100.14 1264.78" stroke="#111" stroke-width="1.12"/><circle cx="1096.29" cy="1200.16" r="2.0" fill="#bfc1c2" stroke="#686b6d" stroke-width="1.55"/><circle cx="1096.29" cy="1214.64" r="2.0" fill="#bfc1c2" stroke="#686b6d" stroke-width="1.55"/><circle cx="1096.29" cy="1221.88" r="2.0" fill="#bfc1c2" stroke="#686b6d" stroke-width="1.55"/><circle cx="1096.29" cy="1316" r="2.0" fill="#bfc1c2" stroke="#686b6d" stroke-width="1.55"/><path d="M1115.23 1258.08V1229.12M1115.23 1279.8V1308.76" stroke="#7e8183" stroke-width="2"/><polygon points="1112.33,1228.22 1118.13,1228.22 1116.23,1230.62 1114.23,1230.62" fill="#55585a"/><polygon points="1112.33,1309.66 1118.13,1309.66 1116.23,1307.26 1114.23,1307.26" fill="#55585a"/><rect x="1107.08" y="1258.08" width="16.3" height="21.72" rx="0.8" fill="#7a7d7e" stroke="#5a5d5f" stroke-width="1.8"/><path d="M1107.08 1272.56H1123.38" stroke="#3f4244" stroke-width="1.6"/><path d="M1111.38 1266.88L1119.08 1274.18M1111.38 1274.18L1119.08 1266.88" stroke="#111" stroke-width="1.12"/><circle cx="1115.23" cy="1200.16" r="2.55" fill="#5a5d5f"/><circle cx="1115.23" cy="1214.64" r="2.55" fill="#5a5d5f"/><circle cx="1115.23" cy="1221.88" r="2.55" fill="#5a5d5f"/><circle cx="1115.23" cy="1316" r="2.55" fill="#5a5d5f"/><path d="M1134.17 1207.4V1156.72M1134.17 1243.6V1279.8" stroke="#7e8183" stroke-width="2"/><polygon points="1131.27,1155.82 1137.07,1155.82 1135.17,1158.22 1133.17,1158.22" fill="#55585a"/><polygon points="1131.27,1280.7 1137.07,1280.7 1135.17,1278.3 1133.17,1278.3" fill="#55585a"/><rect x="1126.02" y="1207.4" width="16.3" height="36.2" rx="0.8" fill="#7a7d7e" stroke="#5a5d5f" stroke-width="1.8"/><path d="M1126.02 1221.88H1142.32" stroke="#3f4244" stroke-width="1.6"/><path d="M1130.32 1219.68L1138.02 1226.98M1130.32 1226.98L1138.02 1219.68" stroke="#111" stroke-width="1.12"/><circle cx="1134.17" cy="1120.52" r="2.55" fill="#5a5d5f"/><circle cx="1134.17" cy="1135" r="2.55" fill="#5a5d5f"/><circle cx="1134.17" cy="1142.24" r="2.55" fill="#5a5d5f"/><path d="M1153.1 1265.32V1236.36M1153.1 1287.04V1316" stroke="#7e8183" stroke-width="2"/><polygon points="1150.2,1235.46 1156,1235.46 1154.1,1237.86 1152.1,1237.86" fill="#55585a"/><polygon points="1150.2,1316.9 1156,1316.9 1154.1,1314.5 1152.1,1314.5" fill="#55585a"/><rect x="1144.95" y="1265.32" width="16.3" height="21.72" rx="0.8" fill="#ffffff" stroke="#5a5d5f" stroke-width="1.8"/><path d="M1144.95 1272.56H1161.25" stroke="#585b5d" stroke-width="1.6"/><path d="M1149.25 1268.62L1156.95 1275.92M1149.25 1275.92L1156.95 1268.62" stroke="#111" stroke-width="1.12"/><circle cx="1153.1" cy="1214.64" r="2.0" fill="#bfc1c2" stroke="#686b6d" stroke-width="1.55"/><circle cx="1153.1" cy="1221.88" r="2.0" fill="#bfc1c2" stroke="#686b6d" stroke-width="1.55"/><circle cx="1153.1" cy="1229.12" r="2.0" fill="#bfc1c2" stroke="#686b6d" stroke-width="1.55"/><path d="M1172.04 1265.32V1236.36M1172.04 1287.04V1316" stroke="#7e8183" stroke-width="2"/><polygon points="1169.14,1235.46 1174.94,1235.46 1173.04,1237.86 1171.04,1237.86" fill="#55585a"/><polygon points="1169.14,1316.9 1174.94,1316.9 1173.04,1314.5 1171.04,1314.5" fill="#55585a"/><rect x="1163.89" y="1265.32" width="16.3" height="21.72" rx="0.8" fill="#ffffff" stroke="#5a5d5f" stroke-width="1.8"/><path d="M1163.89 1279.8H1180.19" stroke="#585b5d" stroke-width="1.6"/><path d="M1168.19 1273.04L1175.89 1280.34M1168.19 1280.34L1175.89 1273.04" stroke="#111" stroke-width="1.12"/><circle cx="1172.04" cy="1214.64" r="2.0" fill="#bfc1c2" stroke="#686b6d" stroke-width="1.55"/><circle cx="1172.04" cy="1229.12" r="2.0" fill="#bfc1c2" stroke="#686b6d" stroke-width="1.55"/></g>
<path d="M322 1556.3H697M322 1534.6H697M322 1512.9H697M322 1491.2H697M322 1469.5H697M322 1447.8H697M322 1426.1H697M322 1404.4H697M322 1382.7H697M322 1361H697M322 1339.3H697M697 1556.3H986M697 1534.6H986M697 1512.9H986M697 1491.2H986M697 1469.5H986M697 1447.8H986M697 1426.1H986M697 1404.4H986M697 1382.7H986M697 1361H986M697 1339.3H986M986 1556.3H1190M986 1534.6H1190M986 1512.9H1190M986 1491.2H1190M986 1469.5H1190M986 1447.8H1190M986 1426.1H1190M986 1404.4H1190M986 1382.7H1190M986 1361H1190M986 1339.3H1190" stroke="#e3e3e3" stroke-width="1.9" fill="none"/>
<path d="M322 1338.4V1557.2" stroke="#e3e3e3" stroke-width="1.9" fill="none"/>
<text class="sans" x="314.3" y="1560.6" font-size="10.6" text-anchor="end" fill="#777" stroke="#777" stroke-width="0.4">0</text>
<text class="sans" x="314.3" y="1538.9" font-size="10.6" text-anchor="end" fill="#777" stroke="#777" stroke-width="0.4">0.05</text>
<text class="sans" x="314.3" y="1517.2" font-size="10.6" text-anchor="end" fill="#777" stroke="#777" stroke-width="0.4">0.1</text>
<text class="sans" x="314.3" y="1495.5" font-size="10.6" text-anchor="end" fill="#777" stroke="#777" stroke-width="0.4">0.15</text>
<text class="sans" x="314.3" y="1473.8" font-size="10.6" text-anchor="end" fill="#777" stroke="#777" stroke-width="0.4">0.2</text>
<text class="sans" x="314.3" y="1452.1" font-size="10.6" text-anchor="end" fill="#777" stroke="#777" stroke-width="0.4">0.25</text>
<text class="sans" x="314.3" y="1430.4" font-size="10.6" text-anchor="end" fill="#777" stroke="#777" stroke-width="0.4">0.3</text>
<text class="sans" x="314.3" y="1408.7" font-size="10.6" text-anchor="end" fill="#777" stroke="#777" stroke-width="0.4">0.35</text>
<text class="sans" x="314.3" y="1387" font-size="10.6" text-anchor="end" fill="#777" stroke="#777" stroke-width="0.4">0.4</text>
<text class="sans" x="314.3" y="1365.3" font-size="10.6" text-anchor="end" fill="#777" stroke="#777" stroke-width="0.4">0.45</text>
<text class="sans" x="314.3" y="1343.6" font-size="10.6" text-anchor="end" fill="#777" stroke="#777" stroke-width="0.4">0.5</text>
<text class="sans" transform="translate(283.4 1447.8) rotate(-90)" font-size="10.2" text-anchor="middle" fill="#707070" stroke="#707070" stroke-width="0.45">Mortality on ICU</text>
<g><path d="M424.35 1396.67V1513.4" stroke="#fff" stroke-width="6.4"/><rect x="413.7" y="1438.87" width="21.3" height="32.33" fill="#fff"/><circle cx="424.35" cy="1361" r="5.2" fill="#fff"/><circle cx="424.35" cy="1375.47" r="5.2" fill="#fff"/><circle cx="424.35" cy="1382.7" r="5.2" fill="#fff"/><circle cx="424.35" cy="1389.93" r="5.2" fill="#fff"/><circle cx="424.35" cy="1520.13" r="5.2" fill="#fff"/><circle cx="424.35" cy="1527.37" r="5.2" fill="#fff"/><path d="M443.34 1396.67V1513.4" stroke="#fff" stroke-width="6.4"/><rect x="432.69" y="1438.87" width="21.3" height="32.33" fill="#fff"/><circle cx="443.34" cy="1375.47" r="5.2" fill="#fff"/><circle cx="443.34" cy="1382.7" r="5.2" fill="#fff"/><circle cx="443.34" cy="1389.93" r="5.2" fill="#fff"/><circle cx="443.34" cy="1520.13" r="5.2" fill="#fff"/><path d="M462.34 1396.67V1513.4" stroke="#fff" stroke-width="6.4"/><rect x="451.69" y="1438.87" width="21.3" height="32.33" fill="#fff"/><circle cx="462.34" cy="1375.47" r="5.2" fill="#fff"/><circle cx="462.34" cy="1382.7" r="5.2" fill="#fff"/><circle cx="462.34" cy="1389.93" r="5.2" fill="#fff"/><circle cx="462.34" cy="1520.13" r="5.2" fill="#fff"/><path d="M481.33 1425.6V1542.33" stroke="#fff" stroke-width="6.4"/><rect x="470.68" y="1467.8" width="21.3" height="32.33" fill="#fff"/><circle cx="481.33" cy="1411.63" r="5.2" fill="#fff"/><circle cx="481.33" cy="1418.87" r="5.2" fill="#fff"/><path d="M500.32 1469V1549.57" stroke="#fff" stroke-width="6.4"/><rect x="489.67" y="1496.73" width="21.3" height="25.1" fill="#fff"/><circle cx="500.32" cy="1440.57" r="5.2" fill="#fff"/><circle cx="500.32" cy="1447.8" r="5.2" fill="#fff"/><circle cx="500.32" cy="1455.03" r="5.2" fill="#fff"/><circle cx="500.32" cy="1462.27" r="5.2" fill="#fff"/><circle cx="500.32" cy="1556.3" r="5.2" fill="#fff"/><path d="M519.32 1440.07V1542.33" stroke="#fff" stroke-width="6.4"/><rect x="508.67" y="1475.03" width="21.3" height="32.33" fill="#fff"/><circle cx="519.32" cy="1433.33" r="5.2" fill="#fff"/><circle cx="519.32" cy="1549.07" r="5.2" fill="#fff"/><path d="M538.31 1425.6V1542.33" stroke="#fff" stroke-width="6.4"/><rect x="527.66" y="1467.8" width="21.3" height="32.33" fill="#fff"/><circle cx="538.31" cy="1411.63" r="5.2" fill="#fff"/><circle cx="538.31" cy="1418.87" r="5.2" fill="#fff"/><path d="M557.3 1396.67V1535.1" stroke="#fff" stroke-width="6.4"/><rect x="546.65" y="1446.1" width="21.3" height="39.57" fill="#fff"/><circle cx="557.3" cy="1389.93" r="5.2" fill="#fff"/><circle cx="557.3" cy="1541.83" r="5.2" fill="#fff"/><path d="M576.29 1461.77V1542.33" stroke="#fff" stroke-width="6.4"/><rect x="565.64" y="1489.5" width="21.3" height="25.1" fill="#fff"/><circle cx="576.29" cy="1440.57" r="5.2" fill="#fff"/><circle cx="576.29" cy="1447.8" r="5.2" fill="#fff"/><circle cx="576.29" cy="1455.03" r="5.2" fill="#fff"/><circle cx="576.29" cy="1549.07" r="5.2" fill="#fff"/><path d="M595.29 1447.3V1556.8" stroke="#fff" stroke-width="6.4"/><rect x="584.64" y="1489.5" width="21.3" height="32.33" fill="#fff"/><circle cx="595.29" cy="1433.33" r="5.2" fill="#fff"/><circle cx="595.29" cy="1440.57" r="5.2" fill="#fff"/></g>
<g><path d="M424.35 1440.57V1397.17M424.35 1469.5V1512.9" stroke="#7e8183" stroke-width="2"/><polygon points="421.45,1396.27 427.25,1396.27 425.35,1398.67 423.35,1398.67" fill="#55585a"/><polygon points="421.45,1513.8 427.25,1513.8 425.35,1511.4 423.35,1511.4" fill="#55585a"/><rect x="416.2" y="1440.57" width="16.3" height="28.93" rx="0.8" fill="#d3d5d5" stroke="#5a5d5f" stroke-width="1.8"/><path d="M416.2 1455.03H432.5" stroke="#585b5d" stroke-width="1.6"/><path d="M420.5 1449.5L428.2 1456.8M420.5 1456.8L428.2 1449.5" stroke="#111" stroke-width="1.12"/><circle cx="424.35" cy="1361" r="2.0" fill="#bfc1c2" stroke="#686b6d" stroke-width="1.55"/><circle cx="424.35" cy="1375.47" r="2.0" fill="#bfc1c2" stroke="#686b6d" stroke-width="1.55"/><circle cx="424.35" cy="1382.7" r="2.0" fill="#bfc1c2" stroke="#686b6d" stroke-width="1.55"/><circle cx="424.35" cy="1389.93" r="2.0" fill="#bfc1c2" stroke="#686b6d" stroke-width="1.55"/><circle cx="424.35" cy="1520.13" r="2.0" fill="#bfc1c2" stroke="#686b6d" stroke-width="1.55"/><circle cx="424.35" cy="1527.37" r="2.0" fill="#bfc1c2" stroke="#686b6d" stroke-width="1.55"/><path d="M443.34 1440.57V1397.17M443.34 1469.5V1512.9" stroke="#7e8183" stroke-width="2"/><polygon points="440.44,1396.27 446.24,1396.27 444.34,1398.67 442.34,1398.67" fill="#55585a"/><polygon points="440.44,1513.8 446.24,1513.8 444.34,1511.4 442.34,1511.4" fill="#55585a"/><rect x="435.19" y="1440.57" width="16.3" height="28.93" rx="0.8" fill="#d3d5d5" stroke="#5a5d5f" stroke-width="1.8"/><path d="M435.19 1455.03H451.49" stroke="#585b5d" stroke-width="1.6"/><path d="M439.49 1450.23L447.19 1457.53M439.49 1457.53L447.19 1450.23" stroke="#111" stroke-width="1.12"/><circle cx="443.34" cy="1375.47" r="2.0" fill="#bfc1c2" stroke="#686b6d" stroke-width="1.55"/><circle cx="443.34" cy="1382.7" r="2.0" fill="#bfc1c2" stroke="#686b6d" stroke-width="1.55"/><circle cx="443.34" cy="1389.93" r="2.0" fill="#bfc1c2" stroke="#686b6d" stroke-width="1.55"/><circle cx="443.34" cy="1520.13" r="2.0" fill="#bfc1c2" stroke="#686b6d" stroke-width="1.55"/><path d="M462.34 1440.57V1397.17M462.34 1469.5V1512.9" stroke="#7e8183" stroke-width="2"/><polygon points="459.44,1396.27 465.24,1396.27 463.34,1398.67 461.34,1398.67" fill="#55585a"/><polygon points="459.44,1513.8 465.24,1513.8 463.34,1511.4 461.34,1511.4" fill="#55585a"/><rect x="454.19" y="1440.57" width="16.3" height="28.93" rx="0.8" fill="#d3d5d5" stroke="#5a5d5f" stroke-width="1.8"/><path d="M454.19 1455.03H470.49" stroke="#585b5d" stroke-width="1.6"/><path d="M458.49 1450.73L466.19 1458.03M458.49 1458.03L466.19 1450.73" stroke="#111" stroke-width="1.12"/><circle cx="462.34" cy="1375.47" r="2.0" fill="#bfc1c2" stroke="#686b6d" stroke-width="1.55"/><circle cx="462.34" cy="1382.7" r="2.0" fill="#bfc1c2" stroke="#686b6d" stroke-width="1.55"/><circle cx="462.34" cy="1389.93" r="2.0" fill="#bfc1c2" stroke="#686b6d" stroke-width="1.55"/><circle cx="462.34" cy="1520.13" r="2.0" fill="#bfc1c2" stroke="#686b6d" stroke-width="1.55"/><path d="M481.33 1469.5V1426.1M481.33 1498.43V1541.83" stroke="#7e8183" stroke-width="2"/><polygon points="478.43,1425.2 484.23,1425.2 482.33,1427.6 480.33,1427.6" fill="#55585a"/><polygon points="478.43,1542.73 484.23,1542.73 482.33,1540.33 480.33,1540.33" fill="#55585a"/><rect x="473.18" y="1469.5" width="16.3" height="28.93" rx="0.8" fill="#7a7d7e" stroke="#5a5d5f" stroke-width="1.8"/><path d="M473.18 1483.97H489.48" stroke="#3f4244" stroke-width="1.6"/><path d="M477.48 1477.42L485.18 1484.72M477.48 1484.72L485.18 1477.42" stroke="#111" stroke-width="1.12"/><circle cx="481.33" cy="1411.63" r="2.55" fill="#5a5d5f"/><circle cx="481.33" cy="1418.87" r="2.55" fill="#5a5d5f"/><path d="M500.32 1498.43V1469.5M500.32 1520.13V1549.07" stroke="#7e8183" stroke-width="2"/><polygon points="497.42,1468.6 503.22,1468.6 501.32,1471 499.32,1471" fill="#55585a"/><polygon points="497.42,1549.97 503.22,1549.97 501.32,1547.57 499.32,1547.57" fill="#55585a"/><rect x="492.17" y="1498.43" width="16.3" height="21.7" rx="0.8" fill="#ffffff" stroke="#5a5d5f" stroke-width="1.8"/><path d="M492.17 1512.9H508.47" stroke="#585b5d" stroke-width="1.6"/><path d="M496.47 1505.92L504.17 1513.22M496.47 1513.22L504.17 1505.92" stroke="#111" stroke-width="1.12"/><circle cx="500.32" cy="1440.57" r="2.0" fill="#bfc1c2" stroke="#686b6d" stroke-width="1.55"/><circle cx="500.32" cy="1447.8" r="2.0" fill="#bfc1c2" stroke="#686b6d" stroke-width="1.55"/><circle cx="500.32" cy="1455.03" r="2.0" fill="#bfc1c2" stroke="#686b6d" stroke-width="1.55"/><circle cx="500.32" cy="1462.27" r="2.0" fill="#bfc1c2" stroke="#686b6d" stroke-width="1.55"/><circle cx="500.32" cy="1556.3" r="2.0" fill="#bfc1c2" stroke="#686b6d" stroke-width="1.55"/><path d="M519.32 1476.73V1440.57M519.32 1505.67V1541.83" stroke="#7e8183" stroke-width="2"/><polygon points="516.42,1439.67 522.22,1439.67 520.32,1442.07 518.32,1442.07" fill="#55585a"/><polygon points="516.42,1542.73 522.22,1542.73 520.32,1540.33 518.32,1540.33" fill="#55585a"/><rect x="511.17" y="1476.73" width="16.3" height="28.93" rx="0.8" fill="#ffffff" stroke="#5a5d5f" stroke-width="1.8"/><path d="M511.17 1491.2H527.47" stroke="#585b5d" stroke-width="1.6"/><path d="M515.47 1488.42L523.17 1495.72M515.47 1495.72L523.17 1488.42" stroke="#111" stroke-width="1.12"/><circle cx="519.32" cy="1433.33" r="2.0" fill="#bfc1c2" stroke="#686b6d" stroke-width="1.55"/><circle cx="519.32" cy="1549.07" r="2.0" fill="#bfc1c2" stroke="#686b6d" stroke-width="1.55"/><path d="M538.31 1469.5V1426.1M538.31 1498.43V1541.83" stroke="#7e8183" stroke-width="2"/><polygon points="535.41,1425.2 541.21,1425.2 539.31,1427.6 537.31,1427.6" fill="#55585a"/><polygon points="535.41,1542.73 541.21,1542.73 539.31,1540.33 537.31,1540.33" fill="#55585a"/><rect x="530.16" y="1469.5" width="16.3" height="28.93" rx="0.8" fill="#7a7d7e" stroke="#5a5d5f" stroke-width="1.8"/><path d="M530.16 1491.2H546.46" stroke="#3f4244" stroke-width="1.6"/><path d="M534.46 1484.66L542.16 1491.96M534.46 1491.96L542.16 1484.66" stroke="#111" stroke-width="1.12"/><circle cx="538.31" cy="1411.63" r="2.55" fill="#5a5d5f"/><circle cx="538.31" cy="1418.87" r="2.55" fill="#5a5d5f"/><path d="M557.3 1447.8V1397.17M557.3 1483.97V1534.6" stroke="#7e8183" stroke-width="2"/><polygon points="554.4,1396.27 560.2,1396.27 558.3,1398.67 556.3,1398.67" fill="#55585a"/><polygon points="554.4,1535.5 560.2,1535.5 558.3,1533.1 556.3,1533.1" fill="#55585a"/><rect x="549.15" y="1447.8" width="16.3" height="36.17" rx="0.8" fill="#7a7d7e" stroke="#5a5d5f" stroke-width="1.8"/><path d="M549.15 1469.5H565.45" stroke="#3f4244" stroke-width="1.6"/><path d="M553.45 1462.45L561.15 1469.75M553.45 1469.75L561.15 1462.45" stroke="#111" stroke-width="1.12"/><circle cx="557.3" cy="1389.93" r="2.55" fill="#5a5d5f"/><circle cx="557.3" cy="1541.83" r="2.55" fill="#5a5d5f"/><path d="M576.29 1491.2V1462.27M576.29 1512.9V1541.83" stroke="#7e8183" stroke-width="2"/><polygon points="573.39,1461.37 579.19,1461.37 577.29,1463.77 575.29,1463.77" fill="#55585a"/><polygon points="573.39,1542.73 579.19,1542.73 577.29,1540.33 575.29,1540.33" fill="#55585a"/><rect x="568.14" y="1491.2" width="16.3" height="21.7" rx="0.8" fill="#ffffff" stroke="#5a5d5f" stroke-width="1.8"/><path d="M568.14 1505.67H584.44" stroke="#585b5d" stroke-width="1.6"/><path d="M572.44 1499.41L580.14 1506.71M572.44 1506.71L580.14 1499.41" stroke="#111" stroke-width="1.12"/><circle cx="576.29" cy="1440.57" r="2.0" fill="#bfc1c2" stroke="#686b6d" stroke-width="1.55"/><circle cx="576.29" cy="1447.8" r="2.0" fill="#bfc1c2" stroke="#686b6d" stroke-width="1.55"/><circle cx="576.29" cy="1455.03" r="2.0" fill="#bfc1c2" stroke="#686b6d" stroke-width="1.55"/><circle cx="576.29" cy="1549.07" r="2.0" fill="#bfc1c2" stroke="#686b6d" stroke-width="1.55"/><path d="M595.29 1491.2V1447.8M595.29 1520.13V1556.3" stroke="#7e8183" stroke-width="2"/><polygon points="592.39,1446.9 598.19,1446.9 596.29,1449.3 594.29,1449.3" fill="#55585a"/><polygon points="592.39,1557.2 598.19,1557.2 596.29,1554.8 594.29,1554.8" fill="#55585a"/><rect x="587.14" y="1491.2" width="16.3" height="28.93" rx="0.8" fill="#ffffff" stroke="#5a5d5f" stroke-width="1.8"/><path d="M587.14 1505.67H603.44" stroke="#585b5d" stroke-width="1.6"/><path d="M591.44 1500.79L599.14 1508.09M591.44 1508.09L599.14 1500.79" stroke="#111" stroke-width="1.12"/><circle cx="595.29" cy="1433.33" r="2.0" fill="#bfc1c2" stroke="#686b6d" stroke-width="1.55"/><circle cx="595.29" cy="1440.57" r="2.0" fill="#bfc1c2" stroke="#686b6d" stroke-width="1.55"/></g>
<g><path d="M711.48 1396.67V1513.4" stroke="#fff" stroke-width="6.4"/><rect x="700.83" y="1438.87" width="21.3" height="32.33" fill="#fff"/><circle cx="711.48" cy="1361" r="5.2" fill="#fff"/><circle cx="711.48" cy="1375.47" r="5.2" fill="#fff"/><circle cx="711.48" cy="1382.7" r="5.2" fill="#fff"/><circle cx="711.48" cy="1389.93" r="5.2" fill="#fff"/><circle cx="711.48" cy="1520.13" r="5.2" fill="#fff"/><circle cx="711.48" cy="1527.37" r="5.2" fill="#fff"/><path d="M730.46 1396.67V1506.17" stroke="#fff" stroke-width="6.4"/><rect x="719.81" y="1438.87" width="21.3" height="32.33" fill="#fff"/><circle cx="730.46" cy="1375.47" r="5.2" fill="#fff"/><circle cx="730.46" cy="1382.7" r="5.2" fill="#fff"/><circle cx="730.46" cy="1389.93" r="5.2" fill="#fff"/><circle cx="730.46" cy="1520.13" r="5.2" fill="#fff"/><path d="M749.44 1396.67V1513.4" stroke="#fff" stroke-width="6.4"/><rect x="738.79" y="1438.87" width="21.3" height="32.33" fill="#fff"/><circle cx="749.44" cy="1375.47" r="5.2" fill="#fff"/><circle cx="749.44" cy="1389.93" r="5.2" fill="#fff"/><circle cx="749.44" cy="1520.13" r="5.2" fill="#fff"/><circle cx="749.44" cy="1527.37" r="5.2" fill="#fff"/><path d="M768.42 1447.3V1527.87" stroke="#fff" stroke-width="6.4"/><rect x="757.77" y="1475.03" width="21.3" height="25.1" fill="#fff"/><circle cx="768.42" cy="1411.63" r="5.2" fill="#fff"/><circle cx="768.42" cy="1433.33" r="5.2" fill="#fff"/><circle cx="768.42" cy="1440.57" r="5.2" fill="#fff"/><circle cx="768.42" cy="1534.6" r="5.2" fill="#fff"/><circle cx="768.42" cy="1541.83" r="5.2" fill="#fff"/><path d="M787.4 1483.47V1556.8" stroke="#fff" stroke-width="6.4"/><rect x="776.75" y="1511.2" width="21.3" height="25.1" fill="#fff"/><circle cx="787.4" cy="1469.5" r="5.2" fill="#fff"/><circle cx="787.4" cy="1476.73" r="5.2" fill="#fff"/><path d="M806.38 1469V1549.57" stroke="#fff" stroke-width="6.4"/><rect x="795.74" y="1496.73" width="21.3" height="25.1" fill="#fff"/><circle cx="806.38" cy="1433.33" r="5.2" fill="#fff"/><circle cx="806.38" cy="1440.57" r="5.2" fill="#fff"/><circle cx="806.38" cy="1455.03" r="5.2" fill="#fff"/><circle cx="806.38" cy="1462.27" r="5.2" fill="#fff"/><path d="M825.37 1461.77V1542.33" stroke="#fff" stroke-width="6.4"/><rect x="814.72" y="1489.5" width="21.3" height="25.1" fill="#fff"/><circle cx="825.37" cy="1440.57" r="5.2" fill="#fff"/><circle cx="825.37" cy="1447.8" r="5.2" fill="#fff"/><circle cx="825.37" cy="1455.03" r="5.2" fill="#fff"/><circle cx="825.37" cy="1549.07" r="5.2" fill="#fff"/><path d="M844.35 1403.9V1520.63" stroke="#fff" stroke-width="6.4"/><rect x="833.7" y="1446.1" width="21.3" height="32.33" fill="#fff"/><circle cx="844.35" cy="1389.93" r="5.2" fill="#fff"/><circle cx="844.35" cy="1397.17" r="5.2" fill="#fff"/><circle cx="844.35" cy="1527.37" r="5.2" fill="#fff"/><circle cx="844.35" cy="1541.83" r="5.2" fill="#fff"/><path d="M863.33 1461.77V1549.57" stroke="#fff" stroke-width="6.4"/><rect x="852.68" y="1496.73" width="21.3" height="32.33" fill="#fff"/><circle cx="863.33" cy="1447.8" r="5.2" fill="#fff"/><path d="M882.31 1476.23V1556.8" stroke="#fff" stroke-width="6.4"/><rect x="871.66" y="1503.97" width="21.3" height="25.1" fill="#fff"/><circle cx="882.31" cy="1455.03" r="5.2" fill="#fff"/><circle cx="882.31" cy="1469.5" r="5.2" fill="#fff"/></g>
<g><path d="M711.48 1440.57V1397.17M711.48 1469.5V1512.9" stroke="#7e8183" stroke-width="2"/><polygon points="708.58,1396.27 714.38,1396.27 712.48,1398.67 710.48,1398.67" fill="#55585a"/><polygon points="708.58,1513.8 714.38,1513.8 712.48,1511.4 710.48,1511.4" fill="#55585a"/><rect x="703.33" y="1440.57" width="16.3" height="28.93" rx="0.8" fill="#d3d5d5" stroke="#5a5d5f" stroke-width="1.8"/><path d="M703.33 1455.03H719.63" stroke="#585b5d" stroke-width="1.6"/><path d="M707.63 1449.5L715.33 1456.8M707.63 1456.8L715.33 1449.5" stroke="#111" stroke-width="1.12"/><circle cx="711.48" cy="1361" r="2.0" fill="#bfc1c2" stroke="#686b6d" stroke-width="1.55"/><circle cx="711.48" cy="1375.47" r="2.0" fill="#bfc1c2" stroke="#686b6d" stroke-width="1.55"/><circle cx="711.48" cy="1382.7" r="2.0" fill="#bfc1c2" stroke="#686b6d" stroke-width="1.55"/><circle cx="711.48" cy="1389.93" r="2.0" fill="#bfc1c2" stroke="#686b6d" stroke-width="1.55"/><circle cx="711.48" cy="1520.13" r="2.0" fill="#bfc1c2" stroke="#686b6d" stroke-width="1.55"/><circle cx="711.48" cy="1527.37" r="2.0" fill="#bfc1c2" stroke="#686b6d" stroke-width="1.55"/><path d="M730.46 1440.57V1397.17M730.46 1469.5V1505.67" stroke="#7e8183" stroke-width="2"/><polygon points="727.56,1396.27 733.36,1396.27 731.46,1398.67 729.46,1398.67" fill="#55585a"/><polygon points="727.56,1506.57 733.36,1506.57 731.46,1504.17 729.46,1504.17" fill="#55585a"/><rect x="722.31" y="1440.57" width="16.3" height="28.93" rx="0.8" fill="#d3d5d5" stroke="#5a5d5f" stroke-width="1.8"/><path d="M722.31 1455.03H738.61" stroke="#585b5d" stroke-width="1.6"/><path d="M726.61 1449.5L734.31 1456.8M726.61 1456.8L734.31 1449.5" stroke="#111" stroke-width="1.12"/><circle cx="730.46" cy="1375.47" r="2.0" fill="#bfc1c2" stroke="#686b6d" stroke-width="1.55"/><circle cx="730.46" cy="1382.7" r="2.0" fill="#bfc1c2" stroke="#686b6d" stroke-width="1.55"/><circle cx="730.46" cy="1389.93" r="2.0" fill="#bfc1c2" stroke="#686b6d" stroke-width="1.55"/><circle cx="730.46" cy="1520.13" r="2.0" fill="#bfc1c2" stroke="#686b6d" stroke-width="1.55"/><path d="M749.44 1440.57V1397.17M749.44 1469.5V1512.9" stroke="#7e8183" stroke-width="2"/><polygon points="746.54,1396.27 752.34,1396.27 750.44,1398.67 748.44,1398.67" fill="#55585a"/><polygon points="746.54,1513.8 752.34,1513.8 750.44,1511.4 748.44,1511.4" fill="#55585a"/><rect x="741.29" y="1440.57" width="16.3" height="28.93" rx="0.8" fill="#d3d5d5" stroke="#5a5d5f" stroke-width="1.8"/><path d="M741.29 1455.03H757.59" stroke="#585b5d" stroke-width="1.6"/><path d="M745.59 1451.96L753.29 1459.26M745.59 1459.26L753.29 1451.96" stroke="#111" stroke-width="1.12"/><circle cx="749.44" cy="1375.47" r="2.0" fill="#bfc1c2" stroke="#686b6d" stroke-width="1.55"/><circle cx="749.44" cy="1389.93" r="2.0" fill="#bfc1c2" stroke="#686b6d" stroke-width="1.55"/><circle cx="749.44" cy="1520.13" r="2.0" fill="#bfc1c2" stroke="#686b6d" stroke-width="1.55"/><circle cx="749.44" cy="1527.37" r="2.0" fill="#bfc1c2" stroke="#686b6d" stroke-width="1.55"/><path d="M768.42 1476.73V1447.8M768.42 1498.43V1527.37" stroke="#7e8183" stroke-width="2"/><polygon points="765.52,1446.9 771.32,1446.9 769.42,1449.3 767.42,1449.3" fill="#55585a"/><polygon points="765.52,1528.27 771.32,1528.27 769.42,1525.87 767.42,1525.87" fill="#55585a"/><rect x="760.27" y="1476.73" width="16.3" height="21.7" rx="0.8" fill="#7a7d7e" stroke="#5a5d5f" stroke-width="1.8"/><path d="M760.27 1491.2H776.57" stroke="#3f4244" stroke-width="1.6"/><path d="M764.57 1482.78L772.27 1490.08M764.57 1490.08L772.27 1482.78" stroke="#111" stroke-width="1.12"/><circle cx="768.42" cy="1411.63" r="2.55" fill="#5a5d5f"/><circle cx="768.42" cy="1433.33" r="2.55" fill="#5a5d5f"/><circle cx="768.42" cy="1440.57" r="2.55" fill="#5a5d5f"/><circle cx="768.42" cy="1534.6" r="2.55" fill="#5a5d5f"/><circle cx="768.42" cy="1541.83" r="2.55" fill="#5a5d5f"/><path d="M787.4 1512.9V1483.97M787.4 1534.6V1556.3" stroke="#7e8183" stroke-width="2"/><polygon points="784.5,1483.07 790.3,1483.07 788.4,1485.47 786.4,1485.47" fill="#55585a"/><polygon points="784.5,1557.2 790.3,1557.2 788.4,1554.8 786.4,1554.8" fill="#55585a"/><rect x="779.25" y="1512.9" width="16.3" height="21.7" rx="0.8" fill="#ffffff" stroke="#5a5d5f" stroke-width="1.8"/><path d="M779.25 1527.37H795.55" stroke="#585b5d" stroke-width="1.6"/><path d="M783.55 1520.1L791.25 1527.4M783.55 1527.4L791.25 1520.1" stroke="#111" stroke-width="1.12"/><circle cx="787.4" cy="1469.5" r="2.0" fill="#bfc1c2" stroke="#686b6d" stroke-width="1.55"/><circle cx="787.4" cy="1476.73" r="2.0" fill="#bfc1c2" stroke="#686b6d" stroke-width="1.55"/><path d="M806.38 1498.43V1469.5M806.38 1520.13V1549.07" stroke="#7e8183" stroke-width="2"/><polygon points="803.49,1468.6 809.28,1468.6 807.38,1471 805.38,1471" fill="#55585a"/><polygon points="803.49,1549.97 809.28,1549.97 807.38,1547.57 805.38,1547.57" fill="#55585a"/><rect x="798.24" y="1498.43" width="16.3" height="21.7" rx="0.8" fill="#ffffff" stroke="#5a5d5f" stroke-width="1.8"/><path d="M798.24 1512.9H814.53" stroke="#585b5d" stroke-width="1.6"/><path d="M802.53 1503.68L810.24 1510.98M802.53 1510.98L810.24 1503.68" stroke="#111" stroke-width="1.12"/><circle cx="806.38" cy="1433.33" r="2.0" fill="#bfc1c2" stroke="#686b6d" stroke-width="1.55"/><circle cx="806.38" cy="1440.57" r="2.0" fill="#bfc1c2" stroke="#686b6d" stroke-width="1.55"/><circle cx="806.38" cy="1455.03" r="2.0" fill="#bfc1c2" stroke="#686b6d" stroke-width="1.55"/><circle cx="806.38" cy="1462.27" r="2.0" fill="#bfc1c2" stroke="#686b6d" stroke-width="1.55"/><path d="M825.37 1491.2V1462.27M825.37 1512.9V1541.83" stroke="#7e8183" stroke-width="2"/><polygon points="822.47,1461.37 828.27,1461.37 826.37,1463.77 824.37,1463.77" fill="#55585a"/><polygon points="822.47,1542.73 828.27,1542.73 826.37,1540.33 824.37,1540.33" fill="#55585a"/><rect x="817.22" y="1491.2" width="16.3" height="21.7" rx="0.8" fill="#7a7d7e" stroke="#5a5d5f" stroke-width="1.8"/><path d="M817.22 1505.67H833.52" stroke="#3f4244" stroke-width="1.6"/><path d="M821.52 1497.1L829.22 1504.4M821.52 1504.4L829.22 1497.1" stroke="#111" stroke-width="1.12"/><circle cx="825.37" cy="1440.57" r="2.55" fill="#5a5d5f"/><circle cx="825.37" cy="1447.8" r="2.55" fill="#5a5d5f"/><circle cx="825.37" cy="1455.03" r="2.55" fill="#5a5d5f"/><circle cx="825.37" cy="1549.07" r="2.55" fill="#5a5d5f"/><path d="M844.35 1447.8V1404.4M844.35 1476.73V1520.13" stroke="#7e8183" stroke-width="2"/><polygon points="841.45,1403.5 847.25,1403.5 845.35,1405.9 843.35,1405.9" fill="#55585a"/><polygon points="841.45,1521.03 847.25,1521.03 845.35,1518.63 843.35,1518.63" fill="#55585a"/><rect x="836.2" y="1447.8" width="16.3" height="28.93" rx="0.8" fill="#7a7d7e" stroke="#5a5d5f" stroke-width="1.8"/><path d="M836.2 1462.27H852.5" stroke="#3f4244" stroke-width="1.6"/><path d="M840.5 1460.35L848.2 1467.65M840.5 1467.65L848.2 1460.35" stroke="#111" stroke-width="1.12"/><circle cx="844.35" cy="1389.93" r="2.55" fill="#5a5d5f"/><circle cx="844.35" cy="1397.17" r="2.55" fill="#5a5d5f"/><circle cx="844.35" cy="1527.37" r="2.55" fill="#5a5d5f"/><circle cx="844.35" cy="1541.83" r="2.55" fill="#5a5d5f"/><path d="M863.33 1498.43V1462.27M863.33 1527.37V1549.07" stroke="#7e8183" stroke-width="2"/><polygon points="860.43,1461.37 866.23,1461.37 864.33,1463.77 862.33,1463.77" fill="#55585a"/><polygon points="860.43,1549.97 866.23,1549.97 864.33,1547.57 862.33,1547.57" fill="#55585a"/><rect x="855.18" y="1498.43" width="16.3" height="28.93" rx="0.8" fill="#ffffff" stroke="#5a5d5f" stroke-width="1.8"/><path d="M855.18 1512.9H871.48" stroke="#585b5d" stroke-width="1.6"/><path d="M859.48 1509.11L867.18 1516.41M859.48 1516.41L867.18 1509.11" stroke="#111" stroke-width="1.12"/><circle cx="863.33" cy="1447.8" r="2.0" fill="#bfc1c2" stroke="#686b6d" stroke-width="1.55"/><path d="M882.31 1505.67V1476.73M882.31 1527.37V1556.3" stroke="#7e8183" stroke-width="2"/><polygon points="879.41,1475.83 885.21,1475.83 883.31,1478.23 881.31,1478.23" fill="#55585a"/><polygon points="879.41,1557.2 885.21,1557.2 883.31,1554.8 881.31,1554.8" fill="#55585a"/><rect x="874.16" y="1505.67" width="16.3" height="21.7" rx="0.8" fill="#ffffff" stroke="#5a5d5f" stroke-width="1.8"/><path d="M874.16 1520.13H890.46" stroke="#585b5d" stroke-width="1.6"/><path d="M878.46 1511.71L886.16 1519.01M878.46 1519.01L886.16 1511.71" stroke="#111" stroke-width="1.12"/><circle cx="882.31" cy="1455.03" r="2.0" fill="#bfc1c2" stroke="#686b6d" stroke-width="1.55"/><circle cx="882.31" cy="1469.5" r="2.0" fill="#bfc1c2" stroke="#686b6d" stroke-width="1.55"/></g>
<g><path d="M999.04 1396.67V1513.4" stroke="#fff" stroke-width="6.4"/><rect x="988.39" y="1438.87" width="21.3" height="32.33" fill="#fff"/><circle cx="999.04" cy="1361" r="5.2" fill="#fff"/><circle cx="999.04" cy="1375.47" r="5.2" fill="#fff"/><circle cx="999.04" cy="1382.7" r="5.2" fill="#fff"/><circle cx="999.04" cy="1389.93" r="5.2" fill="#fff"/><circle cx="999.04" cy="1520.13" r="5.2" fill="#fff"/><circle cx="999.04" cy="1527.37" r="5.2" fill="#fff"/><path d="M1018.04 1382.2V1520.63" stroke="#fff" stroke-width="6.4"/><rect x="1007.39" y="1431.63" width="21.3" height="39.57" fill="#fff"/><circle cx="1018.04" cy="1353.77" r="5.2" fill="#fff"/><circle cx="1018.04" cy="1375.47" r="5.2" fill="#fff"/><path d="M1037.03 1396.67V1513.4" stroke="#fff" stroke-width="6.4"/><rect x="1026.38" y="1438.87" width="21.3" height="32.33" fill="#fff"/><circle cx="1037.03" cy="1382.7" r="5.2" fill="#fff"/><circle cx="1037.03" cy="1389.93" r="5.2" fill="#fff"/><circle cx="1037.03" cy="1520.13" r="5.2" fill="#fff"/><path d="M1056.03 1440.07V1542.33" stroke="#fff" stroke-width="6.4"/><rect x="1045.38" y="1475.03" width="21.3" height="32.33" fill="#fff"/><circle cx="1056.03" cy="1426.1" r="5.2" fill="#fff"/><circle cx="1056.03" cy="1433.33" r="5.2" fill="#fff"/><circle cx="1056.03" cy="1549.07" r="5.2" fill="#fff"/><path d="M1075.03 1490.7V1556.8" stroke="#fff" stroke-width="6.4"/><rect x="1064.38" y="1518.43" width="21.3" height="25.1" fill="#fff"/><circle cx="1075.03" cy="1476.73" r="5.2" fill="#fff"/><circle cx="1075.03" cy="1483.97" r="5.2" fill="#fff"/><path d="M1094.02 1469V1549.57" stroke="#fff" stroke-width="6.4"/><rect x="1083.37" y="1496.73" width="21.3" height="25.1" fill="#fff"/><circle cx="1094.02" cy="1447.8" r="5.2" fill="#fff"/><circle cx="1094.02" cy="1455.03" r="5.2" fill="#fff"/><circle cx="1094.02" cy="1462.27" r="5.2" fill="#fff"/><circle cx="1094.02" cy="1556.3" r="5.2" fill="#fff"/><path d="M1113.02 1476.23V1556.8" stroke="#fff" stroke-width="6.4"/><rect x="1102.37" y="1503.97" width="21.3" height="25.1" fill="#fff"/><circle cx="1113.02" cy="1440.57" r="5.2" fill="#fff"/><circle cx="1113.02" cy="1455.03" r="5.2" fill="#fff"/><circle cx="1113.02" cy="1462.27" r="5.2" fill="#fff"/><circle cx="1113.02" cy="1469.5" r="5.2" fill="#fff"/><path d="M1132.02 1403.9V1520.63" stroke="#fff" stroke-width="6.4"/><rect x="1121.37" y="1446.1" width="21.3" height="32.33" fill="#fff"/><circle cx="1132.02" cy="1389.93" r="5.2" fill="#fff"/><circle cx="1132.02" cy="1397.17" r="5.2" fill="#fff"/><circle cx="1132.02" cy="1527.37" r="5.2" fill="#fff"/><circle cx="1132.02" cy="1541.83" r="5.2" fill="#fff"/><path d="M1151.02 1461.77V1549.57" stroke="#fff" stroke-width="6.4"/><rect x="1140.37" y="1496.73" width="21.3" height="32.33" fill="#fff"/><circle cx="1151.02" cy="1447.8" r="5.2" fill="#fff"/><path d="M1170.01 1476.23V1556.8" stroke="#fff" stroke-width="6.4"/><rect x="1159.36" y="1503.97" width="21.3" height="25.1" fill="#fff"/><circle cx="1170.01" cy="1447.8" r="5.2" fill="#fff"/><circle cx="1170.01" cy="1469.5" r="5.2" fill="#fff"/></g>
<g><path d="M999.04 1440.57V1397.17M999.04 1469.5V1512.9" stroke="#7e8183" stroke-width="2"/><polygon points="996.14,1396.27 1001.94,1396.27 1000.04,1398.67 998.04,1398.67" fill="#55585a"/><polygon points="996.14,1513.8 1001.94,1513.8 1000.04,1511.4 998.04,1511.4" fill="#55585a"/><rect x="990.89" y="1440.57" width="16.3" height="28.93" rx="0.8" fill="#d3d5d5" stroke="#5a5d5f" stroke-width="1.8"/><path d="M990.89 1455.03H1007.19" stroke="#585b5d" stroke-width="1.6"/><path d="M995.19 1449.86L1002.89 1457.16M995.19 1457.16L1002.89 1449.86" stroke="#111" stroke-width="1.12"/><circle cx="999.04" cy="1361" r="2.0" fill="#bfc1c2" stroke="#686b6d" stroke-width="1.55"/><circle cx="999.04" cy="1375.47" r="2.0" fill="#bfc1c2" stroke="#686b6d" stroke-width="1.55"/><circle cx="999.04" cy="1382.7" r="2.0" fill="#bfc1c2" stroke="#686b6d" stroke-width="1.55"/><circle cx="999.04" cy="1389.93" r="2.0" fill="#bfc1c2" stroke="#686b6d" stroke-width="1.55"/><circle cx="999.04" cy="1520.13" r="2.0" fill="#bfc1c2" stroke="#686b6d" stroke-width="1.55"/><circle cx="999.04" cy="1527.37" r="2.0" fill="#bfc1c2" stroke="#686b6d" stroke-width="1.55"/><path d="M1018.04 1433.33V1382.7M1018.04 1469.5V1520.13" stroke="#7e8183" stroke-width="2"/><polygon points="1015.14,1381.8 1020.94,1381.8 1019.04,1384.2 1017.04,1384.2" fill="#55585a"/><polygon points="1015.14,1521.03 1020.94,1521.03 1019.04,1518.63 1017.04,1518.63" fill="#55585a"/><rect x="1009.89" y="1433.33" width="16.3" height="36.17" rx="0.8" fill="#d3d5d5" stroke="#5a5d5f" stroke-width="1.8"/><path d="M1009.89 1455.03H1026.19" stroke="#585b5d" stroke-width="1.6"/><path d="M1014.19 1449.5L1021.89 1456.8M1014.19 1456.8L1021.89 1449.5" stroke="#111" stroke-width="1.12"/><circle cx="1018.04" cy="1353.77" r="2.0" fill="#bfc1c2" stroke="#686b6d" stroke-width="1.55"/><circle cx="1018.04" cy="1375.47" r="2.0" fill="#bfc1c2" stroke="#686b6d" stroke-width="1.55"/><path d="M1037.03 1440.57V1397.17M1037.03 1469.5V1512.9" stroke="#7e8183" stroke-width="2"/><polygon points="1034.13,1396.27 1039.93,1396.27 1038.03,1398.67 1036.03,1398.67" fill="#55585a"/><polygon points="1034.13,1513.8 1039.93,1513.8 1038.03,1511.4 1036.03,1511.4" fill="#55585a"/><rect x="1028.88" y="1440.57" width="16.3" height="28.93" rx="0.8" fill="#d3d5d5" stroke="#5a5d5f" stroke-width="1.8"/><path d="M1028.88 1455.03H1045.18" stroke="#585b5d" stroke-width="1.6"/><path d="M1033.18 1449.94L1040.88 1457.24M1033.18 1457.24L1040.88 1449.94" stroke="#111" stroke-width="1.12"/><circle cx="1037.03" cy="1382.7" r="2.0" fill="#bfc1c2" stroke="#686b6d" stroke-width="1.55"/><circle cx="1037.03" cy="1389.93" r="2.0" fill="#bfc1c2" stroke="#686b6d" stroke-width="1.55"/><circle cx="1037.03" cy="1520.13" r="2.0" fill="#bfc1c2" stroke="#686b6d" stroke-width="1.55"/><path d="M1056.03 1476.73V1440.57M1056.03 1505.67V1541.83" stroke="#7e8183" stroke-width="2"/><polygon points="1053.13,1439.67 1058.93,1439.67 1057.03,1442.07 1055.03,1442.07" fill="#55585a"/><polygon points="1053.13,1542.73 1058.93,1542.73 1057.03,1540.33 1055.03,1540.33" fill="#55585a"/><rect x="1047.88" y="1476.73" width="16.3" height="28.93" rx="0.8" fill="#7a7d7e" stroke="#5a5d5f" stroke-width="1.8"/><path d="M1047.88 1491.2H1064.18" stroke="#3f4244" stroke-width="1.6"/><path d="M1052.18 1488.42L1059.88 1495.72M1052.18 1495.72L1059.88 1488.42" stroke="#111" stroke-width="1.12"/><circle cx="1056.03" cy="1426.1" r="2.55" fill="#5a5d5f"/><circle cx="1056.03" cy="1433.33" r="2.55" fill="#5a5d5f"/><circle cx="1056.03" cy="1549.07" r="2.55" fill="#5a5d5f"/><path d="M1075.03 1520.13V1491.2M1075.03 1541.83V1556.3" stroke="#7e8183" stroke-width="2"/><polygon points="1072.13,1490.3 1077.93,1490.3 1076.03,1492.7 1074.03,1492.7" fill="#55585a"/><polygon points="1072.13,1557.2 1077.93,1557.2 1076.03,1554.8 1074.03,1554.8" fill="#55585a"/><rect x="1066.88" y="1520.13" width="16.3" height="21.7" rx="0.8" fill="#ffffff" stroke="#5a5d5f" stroke-width="1.8"/><path d="M1066.88 1534.6H1083.18" stroke="#585b5d" stroke-width="1.6"/><path d="M1071.18 1527.77L1078.88 1535.07M1071.18 1535.07L1078.88 1527.77" stroke="#111" stroke-width="1.12"/><circle cx="1075.03" cy="1476.73" r="2.0" fill="#bfc1c2" stroke="#686b6d" stroke-width="1.55"/><circle cx="1075.03" cy="1483.97" r="2.0" fill="#bfc1c2" stroke="#686b6d" stroke-width="1.55"/><path d="M1094.02 1498.43V1469.5M1094.02 1520.13V1549.07" stroke="#7e8183" stroke-width="2"/><polygon points="1091.12,1468.6 1096.92,1468.6 1095.02,1471 1093.02,1471" fill="#55585a"/><polygon points="1091.12,1549.97 1096.92,1549.97 1095.02,1547.57 1093.02,1547.57" fill="#55585a"/><rect x="1085.87" y="1498.43" width="16.3" height="21.7" rx="0.8" fill="#ffffff" stroke="#5a5d5f" stroke-width="1.8"/><path d="M1085.87 1512.9H1102.17" stroke="#585b5d" stroke-width="1.6"/><path d="M1090.17 1507.8L1097.87 1515.1M1090.17 1515.1L1097.87 1507.8" stroke="#111" stroke-width="1.12"/><circle cx="1094.02" cy="1447.8" r="2.0" fill="#bfc1c2" stroke="#686b6d" stroke-width="1.55"/><circle cx="1094.02" cy="1455.03" r="2.0" fill="#bfc1c2" stroke="#686b6d" stroke-width="1.55"/><circle cx="1094.02" cy="1462.27" r="2.0" fill="#bfc1c2" stroke="#686b6d" stroke-width="1.55"/><circle cx="1094.02" cy="1556.3" r="2.0" fill="#bfc1c2" stroke="#686b6d" stroke-width="1.55"/><path d="M1113.02 1505.67V1476.73M1113.02 1527.37V1556.3" stroke="#7e8183" stroke-width="2"/><polygon points="1110.12,1475.83 1115.92,1475.83 1114.02,1478.23 1112.02,1478.23" fill="#55585a"/><polygon points="1110.12,1557.2 1115.92,1557.2 1114.02,1554.8 1112.02,1554.8" fill="#55585a"/><rect x="1104.87" y="1505.67" width="16.3" height="21.7" rx="0.8" fill="#7a7d7e" stroke="#5a5d5f" stroke-width="1.8"/><path d="M1104.87 1520.13H1121.17" stroke="#3f4244" stroke-width="1.6"/><path d="M1109.17 1512.14L1116.87 1519.44M1109.17 1519.44L1116.87 1512.14" stroke="#111" stroke-width="1.12"/><circle cx="1113.02" cy="1440.57" r="2.55" fill="#5a5d5f"/><circle cx="1113.02" cy="1455.03" r="2.55" fill="#5a5d5f"/><circle cx="1113.02" cy="1462.27" r="2.55" fill="#5a5d5f"/><circle cx="1113.02" cy="1469.5" r="2.55" fill="#5a5d5f"/><path d="M1132.02 1447.8V1404.4M1132.02 1476.73V1520.13" stroke="#7e8183" stroke-width="2"/><polygon points="1129.12,1403.5 1134.92,1403.5 1133.02,1405.9 1131.02,1405.9" fill="#55585a"/><polygon points="1129.12,1521.03 1134.92,1521.03 1133.02,1518.63 1131.02,1518.63" fill="#55585a"/><rect x="1123.87" y="1447.8" width="16.3" height="28.93" rx="0.8" fill="#7a7d7e" stroke="#5a5d5f" stroke-width="1.8"/><path d="M1123.87 1462.27H1140.17" stroke="#3f4244" stroke-width="1.6"/><path d="M1128.17 1460.35L1135.87 1467.65M1128.17 1467.65L1135.87 1460.35" stroke="#111" stroke-width="1.12"/><circle cx="1132.02" cy="1389.93" r="2.55" fill="#5a5d5f"/><circle cx="1132.02" cy="1397.17" r="2.55" fill="#5a5d5f"/><circle cx="1132.02" cy="1527.37" r="2.55" fill="#5a5d5f"/><circle cx="1132.02" cy="1541.83" r="2.55" fill="#5a5d5f"/><path d="M1151.02 1498.43V1462.27M1151.02 1527.37V1549.07" stroke="#7e8183" stroke-width="2"/><polygon points="1148.12,1461.37 1153.92,1461.37 1152.02,1463.77 1150.02,1463.77" fill="#55585a"/><polygon points="1148.12,1549.97 1153.92,1549.97 1152.02,1547.57 1150.02,1547.57" fill="#55585a"/><rect x="1142.87" y="1498.43" width="16.3" height="28.93" rx="0.8" fill="#ffffff" stroke="#5a5d5f" stroke-width="1.8"/><path d="M1142.87 1512.9H1159.17" stroke="#585b5d" stroke-width="1.6"/><path d="M1147.17 1509.25L1154.87 1516.55M1147.17 1516.55L1154.87 1509.25" stroke="#111" stroke-width="1.12"/><circle cx="1151.02" cy="1447.8" r="2.0" fill="#bfc1c2" stroke="#686b6d" stroke-width="1.55"/><path d="M1170.01 1505.67V1476.73M1170.01 1527.37V1556.3" stroke="#7e8183" stroke-width="2"/><polygon points="1167.11,1475.83 1172.91,1475.83 1171.01,1478.23 1169.01,1478.23" fill="#55585a"/><polygon points="1167.11,1557.2 1172.91,1557.2 1171.01,1554.8 1169.01,1554.8" fill="#55585a"/><rect x="1161.86" y="1505.67" width="16.3" height="21.7" rx="0.8" fill="#ffffff" stroke="#5a5d5f" stroke-width="1.8"/><path d="M1161.86 1520.13H1178.16" stroke="#585b5d" stroke-width="1.6"/><path d="M1166.16 1515.04L1173.86 1522.34M1166.16 1522.34L1173.86 1515.04" stroke="#111" stroke-width="1.12"/><circle cx="1170.01" cy="1447.8" r="2.0" fill="#bfc1c2" stroke="#686b6d" stroke-width="1.55"/><circle cx="1170.01" cy="1469.5" r="2.0" fill="#bfc1c2" stroke="#686b6d" stroke-width="1.55"/></g>
</svg></body></html>
